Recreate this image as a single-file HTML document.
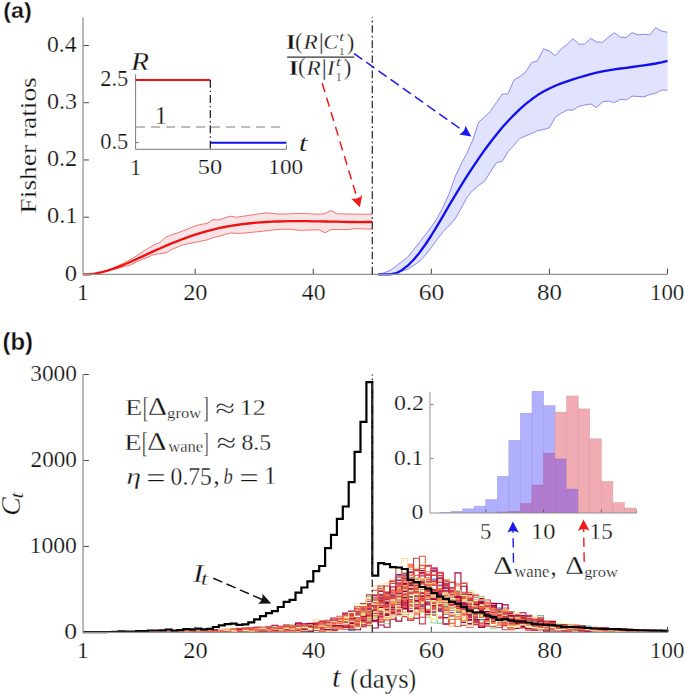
<!DOCTYPE html>
<html><head><meta charset="utf-8"><style>html,body{margin:0;padding:0;background:#fff;overflow:hidden}svg{display:block}text{fill:#111;stroke:#fff;stroke-width:0.25px}</style></head>
<body><svg width="685" height="695" viewBox="0 0 685 695">
<polygon points="83.0,274.4 88.9,274.2 94.8,273.4 100.7,272.2 106.6,270.6 112.5,268.3 118.4,265.5 124.3,262.9 130.2,259.7 136.1,256.0 142.0,252.2 147.9,248.6 153.8,245.0 159.8,242.5 165.7,237.2 171.6,234.9 177.5,232.8 183.4,230.7 189.3,228.3 195.2,225.9 201.1,224.3 207.0,223.5 212.9,219.6 218.8,219.9 224.7,217.9 230.6,216.2 236.5,217.2 242.4,216.4 248.3,215.5 254.2,214.6 260.1,213.7 266.0,212.8 271.9,213.4 277.8,214.0 283.7,214.0 289.6,213.8 295.5,213.5 301.4,213.5 307.4,213.7 313.3,214.0 319.2,214.2 325.1,213.6 331.0,210.4 336.9,213.8 342.8,213.9 348.7,214.0 354.6,214.1 360.5,214.2 366.4,214.2 372.3,214.2 372.3,229.2 366.4,229.0 360.5,228.8 354.6,228.6 348.7,229.6 342.8,229.6 336.9,229.6 331.0,229.6 325.1,232.9 319.2,229.8 313.3,229.9 307.4,230.1 301.4,230.4 295.5,229.9 289.6,229.2 283.7,229.2 277.8,229.4 271.9,230.1 266.0,230.8 260.1,231.5 254.2,232.1 248.3,232.7 242.4,233.3 236.5,233.3 230.6,233.0 224.7,234.6 218.8,236.4 212.9,237.6 207.0,239.9 201.1,241.2 195.2,242.4 189.3,243.5 183.4,244.7 177.5,247.1 171.6,249.5 165.7,252.9 159.8,253.6 153.8,254.7 147.9,257.1 142.0,259.5 136.1,262.1 130.2,265.1 124.3,266.7 118.4,268.2 112.5,269.7 106.6,271.2 100.7,272.8 94.8,274.0 88.9,274.7 83.0,274.4" fill="#f7e4e6"/>
<polyline points="83.0,274.4 88.9,274.2 94.8,273.4 100.7,272.2 106.6,270.6 112.5,268.3 118.4,265.5 124.3,262.9 130.2,259.7 136.1,256.0 142.0,252.2 147.9,248.6 153.8,245.0 159.8,242.5 165.7,237.2 171.6,234.9 177.5,232.8 183.4,230.7 189.3,228.3 195.2,225.9 201.1,224.3 207.0,223.5 212.9,219.6 218.8,219.9 224.7,217.9 230.6,216.2 236.5,217.2 242.4,216.4 248.3,215.5 254.2,214.6 260.1,213.7 266.0,212.8 271.9,213.4 277.8,214.0 283.7,214.0 289.6,213.8 295.5,213.5 301.4,213.5 307.4,213.7 313.3,214.0 319.2,214.2 325.1,213.6 331.0,210.4 336.9,213.8 342.8,213.9 348.7,214.0 354.6,214.1 360.5,214.2 366.4,214.2 372.3,214.2" fill="none" stroke="#f23a3a" stroke-width="0.7"/>
<polyline points="83.0,274.4 88.9,274.7 94.8,274.0 100.7,272.8 106.6,271.2 112.5,269.7 118.4,268.2 124.3,266.7 130.2,265.1 136.1,262.1 142.0,259.5 147.9,257.1 153.8,254.7 159.8,253.6 165.7,252.9 171.6,249.5 177.5,247.1 183.4,244.7 189.3,243.5 195.2,242.4 201.1,241.2 207.0,239.9 212.9,237.6 218.8,236.4 224.7,234.6 230.6,233.0 236.5,233.3 242.4,233.3 248.3,232.7 254.2,232.1 260.1,231.5 266.0,230.8 271.9,230.1 277.8,229.4 283.7,229.2 289.6,229.2 295.5,229.9 301.4,230.4 307.4,230.1 313.3,229.9 319.2,229.8 325.1,232.9 331.0,229.6 336.9,229.6 342.8,229.6 348.7,229.6 354.6,228.6 360.5,228.8 366.4,229.0 372.3,229.2" fill="none" stroke="#f23a3a" stroke-width="0.7"/>
<polygon points="378.2,274.4 384.1,272.8 390.0,270.5 395.9,266.1 401.8,261.7 407.7,257.0 413.6,249.7 419.5,242.3 425.4,234.7 431.3,227.0 437.2,218.1 443.1,206.8 449.0,194.0 455.0,177.0 460.9,164.4 466.8,153.4 472.7,140.1 478.6,122.3 484.5,116.9 490.4,111.3 496.3,102.7 502.2,94.2 508.1,93.7 514.0,79.9 519.9,76.6 525.8,71.7 531.7,62.6 537.6,60.6 543.5,48.8 549.4,51.0 555.3,55.8 561.2,48.9 567.1,44.4 573.0,38.6 578.9,44.2 584.8,44.0 590.7,38.3 596.6,42.0 602.6,42.2 608.5,37.1 614.4,32.7 620.3,37.2 626.2,37.5 632.1,32.6 638.0,34.8 643.9,34.2 649.8,34.9 655.7,27.5 661.6,31.1 667.5,32.2 667.5,90.2 661.6,90.2 655.7,93.3 649.8,94.5 643.9,96.9 638.0,96.4 632.1,96.2 626.2,100.0 620.3,99.4 614.4,102.6 608.5,101.0 602.6,101.9 596.6,107.4 590.7,104.0 584.8,105.0 578.9,106.4 573.0,110.1 567.1,110.0 561.2,113.2 555.3,117.3 549.4,127.8 543.5,129.6 537.6,130.7 531.7,133.5 525.8,135.8 519.9,138.4 514.0,145.1 508.1,151.7 502.2,161.3 496.3,162.8 490.4,172.0 484.5,181.3 478.6,185.6 472.7,190.5 466.8,197.6 460.9,208.8 455.0,219.2 449.0,225.7 443.1,231.7 437.2,239.4 431.3,247.6 425.4,255.0 419.5,261.4 413.6,265.4 407.7,269.4 401.8,271.1 395.9,272.5 390.0,273.9 384.1,274.2 378.2,274.4" fill="#e1e2fe"/>
<polyline points="378.2,274.4 384.1,272.8 390.0,270.5 395.9,266.1 401.8,261.7 407.7,257.0 413.6,249.7 419.5,242.3 425.4,234.7 431.3,227.0 437.2,218.1 443.1,206.8 449.0,194.0 455.0,177.0 460.9,164.4 466.8,153.4 472.7,140.1 478.6,122.3 484.5,116.9 490.4,111.3 496.3,102.7 502.2,94.2 508.1,93.7 514.0,79.9 519.9,76.6 525.8,71.7 531.7,62.6 537.6,60.6 543.5,48.8 549.4,51.0 555.3,55.8 561.2,48.9 567.1,44.4 573.0,38.6 578.9,44.2 584.8,44.0 590.7,38.3 596.6,42.0 602.6,42.2 608.5,37.1 614.4,32.7 620.3,37.2 626.2,37.5 632.1,32.6 638.0,34.8 643.9,34.2 649.8,34.9 655.7,27.5 661.6,31.1 667.5,32.2" fill="none" stroke="#5c5cf2" stroke-width="0.7"/>
<polyline points="378.2,274.4 384.1,274.2 390.0,273.9 395.9,272.5 401.8,271.1 407.7,269.4 413.6,265.4 419.5,261.4 425.4,255.0 431.3,247.6 437.2,239.4 443.1,231.7 449.0,225.7 455.0,219.2 460.9,208.8 466.8,197.6 472.7,190.5 478.6,185.6 484.5,181.3 490.4,172.0 496.3,162.8 502.2,161.3 508.1,151.7 514.0,145.1 519.9,138.4 525.8,135.8 531.7,133.5 537.6,130.7 543.5,129.6 549.4,127.8 555.3,117.3 561.2,113.2 567.1,110.0 573.0,110.1 578.9,106.4 584.8,105.0 590.7,104.0 596.6,107.4 602.6,101.9 608.5,101.0 614.4,102.6 620.3,99.4 626.2,100.0 632.1,96.2 638.0,96.4 643.9,96.9 649.8,94.5 655.7,93.3 661.6,90.2 667.5,90.2" fill="none" stroke="#5c5cf2" stroke-width="0.7"/>
<polyline points="83.0,274.4 88.9,274.4 94.8,273.7 100.7,272.5 106.6,270.9 112.5,269.0 118.4,266.9 124.3,264.5 130.2,262.0 136.1,259.3 142.0,256.6 147.9,253.9 153.8,251.1 159.8,248.5 165.7,245.9 171.6,243.4 177.5,241.1 183.4,238.8 189.3,236.7 195.2,234.7 201.1,232.8 207.0,231.1 212.9,229.6 218.8,228.2 224.7,227.0 230.6,225.9 236.5,225.0 242.4,224.2 248.3,223.5 254.2,222.9 260.1,222.4 266.0,222.0 271.9,221.7 277.8,221.5 283.7,221.3 289.6,221.2 295.5,221.2 301.4,221.2 307.4,221.2 313.3,221.3 319.2,221.4 325.1,221.5 331.0,221.6 336.9,221.7 342.8,221.9 348.7,222.0 354.6,222.0 360.5,222.1 366.4,222.0 372.3,222.0" fill="none" stroke="#f01010" stroke-width="2.3" stroke-linejoin="round"/>
<polyline points="378.2,274.4 384.1,274.3 390.0,274.3 395.9,273.4 401.8,270.2 407.7,265.7 413.6,259.8 419.5,252.7 425.4,244.5 431.3,235.5 437.2,225.9 443.1,215.9 449.0,205.7 455.0,195.6 460.9,185.8 466.8,176.4 472.7,167.3 478.6,158.6 484.5,150.2 490.4,142.3 496.3,134.8 502.2,127.6 508.1,121.0 514.0,114.8 519.9,109.1 525.8,103.9 531.7,99.3 537.6,95.1 543.5,91.6 549.4,88.5 555.3,85.7 561.2,83.4 567.1,81.3 573.0,79.3 578.9,77.5 584.8,75.8 590.7,74.1 596.6,72.7 602.6,71.4 608.5,70.3 614.4,69.4 620.3,68.5 626.2,67.8 632.1,67.0 638.0,66.2 643.9,65.4 649.8,64.5 655.7,63.5 661.6,62.3 667.5,60.9" fill="none" stroke="#1010ee" stroke-width="2.3" stroke-linejoin="round"/>
<path d="M83.05,17.4 V274.45 H667.5" fill="none" stroke="#939393" stroke-width="1.3"/>
<path d="M83.6,217.21h5.3 M83.6,159.97h5.3 M83.6,102.73h5.3 M83.6,45.49h5.3 M195.18,273.9v-5.2 M313.26,273.9v-5.2 M431.34,273.9v-5.2 M549.42,273.9v-5.2 M667.50,273.9v-5.2" stroke="#454545" stroke-width="1" fill="none"/>
<line x1="372.3" y1="274.45" x2="372.3" y2="17" stroke="#333" stroke-width="1.3" stroke-dasharray="7.6 2.85 1.8 2.85"/>
<path d="M135.6,74.3 V149.3 H286.4 V145" fill="none" stroke="#7a7a7a" stroke-width="1"/>
<path d="M135.8,142.6 h3" stroke="#555" stroke-width="0.8"/>
<line x1="136.1" y1="127" x2="281" y2="127" stroke="#a8a8a8" stroke-width="1.3" stroke-dasharray="9 6"/>
<line x1="135.6" y1="79.9" x2="210.3" y2="79.9" stroke="#f01010" stroke-width="2"/>
<line x1="210.3" y1="142.8" x2="286.4" y2="142.8" stroke="#1010f0" stroke-width="2"/>
<line x1="210.3" y1="79.9" x2="210.3" y2="149.3" stroke="#111" stroke-width="1.2" stroke-dasharray="7.8 3 1.4 3"/>
<line x1="287.1" y1="57.1" x2="354.3" y2="57.1" stroke="#333" stroke-width="1.3"/>
<line x1="354.1" y1="53.6" x2="465.0" y2="132.1" stroke="#1a1af0" stroke-width="1.5" stroke-dasharray="10 4.9" stroke-dashoffset="0"/>
<path d="M471.3,136.5 L459.0,134.5 Q465.0,132.1 465.3,125.5 Z" fill="#1a1af0"/>
<line x1="322.2" y1="83.2" x2="357.7" y2="200.0" stroke="#f01a1a" stroke-width="1.5" stroke-dasharray="9.2 6" stroke-dashoffset="0"/>
<path d="M359.9,207.3 L351.1,198.4 Q357.7,200.0 362.2,195.0 Z" fill="#f01a1a"/>
<g fill="none" stroke-width="1.1"><path d="M83.0,632.3H88.9V632.3H94.8V632.4H100.7V632.2H106.6V632.1H112.5V632.4H118.4V632.0H124.3V632.2H130.2V631.9H136.1V632.1H142.0V632.1H147.9V631.8H153.8V632.0H159.8V631.9H165.7V631.9H171.6V631.9H177.5V631.5H183.4V631.4H189.3V631.5H195.2V630.8H201.1V632.1H207.0V631.5H212.9V630.7H218.8V631.8H224.7V629.9H230.6V630.2H236.5V630.7H242.4V630.0H248.3V630.8H254.2V631.5H260.1V628.9H266.0V628.5H271.9V629.2H277.8V629.1H283.7V631.7H289.6V629.7H295.5V628.9H301.4V627.5H307.4V625.2H313.3V628.2H319.2V628.2H325.1V623.9H331.0V625.7H336.9V627.6H342.8V618.0H348.7V623.4H354.6V620.5H360.5V621.0H366.4V611.7H372.3V602.4H378.2V609.7H384.1V601.4H390.0V605.8H395.9V574.5H401.8V579.0H407.7V600.4H413.6V587.2H419.5V582.4H425.4V590.1H431.3V604.7H437.2V599.9H443.1V593.2H449.0V598.4H455.0V611.8H460.9V603.4H466.8V616.0H472.7V624.6H478.6V611.5H484.5V609.3H490.4V614.1H496.3V611.6H502.2V612.1H508.1V619.1H514.0V623.8H519.9V623.0H525.8V627.9H531.7V624.7H537.6V625.6H543.5V625.7H549.4V624.7H555.3V631.3H561.2V626.8H567.1V629.3H573.0V627.8H578.9V629.1H584.8V630.8H590.7V629.0H596.6V630.9H602.6V629.9H608.5V631.1H614.4V631.1H620.3V630.8H626.2V629.8H632.1V630.8H638.0V631.3H643.9V630.6H649.8V631.5H655.7V631.7H661.6V632.0H667.5V631.7" stroke="#9e0142"/><path d="M83.0,632.4H88.9V632.3H94.8V632.3H100.7V632.3H106.6V632.4H112.5V632.3H118.4V632.4H124.3V632.2H130.2V632.2H136.1V631.9H142.0V632.0H147.9V632.0H153.8V632.2H159.8V632.1H165.7V631.8H171.6V631.7H177.5V632.2H183.4V631.4H189.3V631.7H195.2V631.9H201.1V631.1H207.0V631.6H212.9V631.7H218.8V631.6H224.7V631.4H230.6V631.7H236.5V631.6H242.4V629.5H248.3V630.7H254.2V630.7H260.1V631.5H266.0V629.1H271.9V629.2H277.8V627.3H283.7V627.4H289.6V628.5H295.5V628.4H301.4V627.4H307.4V627.8H313.3V628.6H319.2V626.9H325.1V626.5H331.0V625.4H336.9V617.9H342.8V621.9H348.7V620.5H354.6V610.7H360.5V607.9H366.4V607.0H372.3V595.1H378.2V601.4H384.1V598.9H390.0V610.5H395.9V592.2H401.8V605.3H407.7V582.6H413.6V591.3H419.5V581.6H425.4V589.2H431.3V598.7H437.2V587.0H443.1V603.9H449.0V615.1H455.0V609.0H460.9V615.3H466.8V615.0H472.7V624.1H478.6V616.1H484.5V615.5H490.4V617.3H496.3V622.0H502.2V618.5H508.1V617.7H514.0V621.5H519.9V623.1H525.8V623.0H531.7V627.3H537.6V628.0H543.5V623.9H549.4V625.9H555.3V626.2H561.2V630.2H567.1V627.0H573.0V629.2H578.9V628.9H584.8V629.6H590.7V630.0H596.6V629.8H602.6V631.5H608.5V632.1H614.4V629.4H620.3V631.2H626.2V630.7H632.1V631.0H638.0V630.8H643.9V632.2H649.8V630.9H655.7V631.9H661.6V631.0H667.5V631.3" stroke="#d53e4f"/><path d="M83.0,632.3H88.9V632.3H94.8V632.2H100.7V632.3H106.6V632.4H112.5V632.3H118.4V632.2H124.3V632.0H130.2V632.0H136.1V631.9H142.0V632.0H147.9V632.3H153.8V632.1H159.8V632.2H165.7V631.9H171.6V631.3H177.5V631.8H183.4V631.8H189.3V631.3H195.2V631.1H201.1V630.8H207.0V631.7H212.9V631.6H218.8V631.3H224.7V630.3H230.6V630.5H236.5V631.3H242.4V628.5H248.3V630.6H254.2V630.0H260.1V629.7H266.0V630.3H271.9V629.1H277.8V628.7H283.7V628.1H289.6V627.6H295.5V628.7H301.4V629.1H307.4V625.1H313.3V627.2H319.2V623.7H325.1V624.4H331.0V618.0H336.9V623.4H342.8V626.9H348.7V620.4H354.6V611.1H360.5V604.1H366.4V601.3H372.3V602.9H378.2V590.9H384.1V611.0H390.0V604.2H395.9V605.4H401.8V584.6H407.7V572.1H413.6V588.4H419.5V583.5H425.4V596.1H431.3V596.6H437.2V592.6H443.1V579.6H449.0V593.8H455.0V596.2H460.9V594.3H466.8V600.7H472.7V613.1H478.6V598.4H484.5V612.9H490.4V614.0H496.3V616.5H502.2V614.8H508.1V619.7H514.0V618.8H519.9V615.8H525.8V625.2H531.7V628.8H537.6V621.2H543.5V624.7H549.4V624.7H555.3V625.6H561.2V628.1H567.1V627.7H573.0V631.0H578.9V629.0H584.8V629.2H590.7V630.9H596.6V630.6H602.6V630.2H608.5V630.1H614.4V630.7H620.3V629.6H626.2V630.4H632.1V630.5H638.0V632.2H643.9V631.5H649.8V631.3H655.7V631.7H661.6V631.5H667.5V631.9" stroke="#9e0142"/><path d="M83.0,632.3H88.9V632.3H94.8V632.2H100.7V632.3H106.6V632.2H112.5V632.2H118.4V632.2H124.3V632.1H130.2V632.2H136.1V632.1H142.0V632.0H147.9V632.1H153.8V632.3H159.8V631.8H165.7V632.2H171.6V632.3H177.5V631.7H183.4V631.8H189.3V631.9H195.2V631.8H201.1V631.2H207.0V631.6H212.9V631.3H218.8V630.5H224.7V630.7H230.6V629.7H236.5V628.9H242.4V630.6H248.3V631.7H254.2V630.7H260.1V630.0H266.0V629.3H271.9V630.3H277.8V629.1H283.7V630.9H289.6V628.3H295.5V626.2H301.4V626.6H307.4V631.2H313.3V627.3H319.2V628.1H325.1V625.4H331.0V626.5H336.9V620.2H342.8V615.7H348.7V619.8H354.6V620.6H360.5V612.8H366.4V618.2H372.3V609.2H378.2V594.5H384.1V609.2H390.0V601.4H395.9V589.6H401.8V590.5H407.7V567.7H413.6V581.1H419.5V597.8H425.4V611.9H431.3V589.4H437.2V591.3H443.1V593.9H449.0V582.3H455.0V607.4H460.9V603.0H466.8V611.0H472.7V606.3H478.6V599.7H484.5V619.2H490.4V618.4H496.3V614.3H502.2V617.9H508.1V622.1H514.0V624.7H519.9V624.9H525.8V625.9H531.7V622.3H537.6V624.1H543.5V629.6H549.4V623.2H555.3V624.2H561.2V631.3H567.1V629.9H573.0V629.9H578.9V629.0H584.8V628.4H590.7V629.5H596.6V631.0H602.6V632.0H608.5V629.6H614.4V629.9H620.3V629.6H626.2V631.3H632.1V631.6H638.0V631.5H643.9V630.5H649.8V631.5H655.7V631.6H661.6V631.3H667.5V631.2" stroke="#f46d43"/><path d="M83.0,632.2H88.9V632.4H94.8V632.2H100.7V632.2H106.6V632.4H112.5V632.2H118.4V632.1H124.3V632.2H130.2V632.4H136.1V632.3H142.0V631.8H147.9V632.3H153.8V631.8H159.8V632.3H165.7V632.0H171.6V632.1H177.5V631.8H183.4V631.5H189.3V631.6H195.2V631.9H201.1V631.5H207.0V631.4H212.9V631.5H218.8V631.5H224.7V631.5H230.6V630.7H236.5V629.0H242.4V630.5H248.3V630.1H254.2V631.0H260.1V630.5H266.0V628.1H271.9V629.9H277.8V628.6H283.7V627.8H289.6V629.5H295.5V626.6H301.4V626.8H307.4V626.7H313.3V629.0H319.2V626.6H325.1V630.3H331.0V625.4H336.9V624.2H342.8V624.0H348.7V619.6H354.6V624.8H360.5V620.2H366.4V622.6H372.3V610.9H378.2V611.3H384.1V597.6H390.0V610.2H395.9V594.9H401.8V597.4H407.7V591.2H413.6V585.3H419.5V576.0H425.4V579.6H431.3V611.5H437.2V593.0H443.1V610.4H449.0V599.4H455.0V612.0H460.9V598.9H466.8V603.0H472.7V610.2H478.6V618.6H484.5V623.3H490.4V623.1H496.3V619.1H502.2V616.7H508.1V616.7H514.0V617.9H519.9V625.6H525.8V624.1H531.7V622.4H537.6V624.1H543.5V626.4H549.4V629.4H555.3V624.3H561.2V628.2H567.1V631.0H573.0V628.4H578.9V629.0H584.8V629.9H590.7V630.1H596.6V631.4H602.6V629.2H608.5V630.7H614.4V632.1H620.3V631.1H626.2V632.1H632.1V631.1H638.0V631.8H643.9V631.3H649.8V631.2H655.7V631.6H661.6V630.8H667.5V631.7" stroke="#f46d43"/><path d="M83.0,632.3H88.9V632.2H94.8V632.3H100.7V632.1H106.6V632.3H112.5V632.0H118.4V632.1H124.3V632.2H130.2V632.2H136.1V631.9H142.0V632.3H147.9V631.8H153.8V631.7H159.8V631.9H165.7V632.0H171.6V631.5H177.5V631.8H183.4V631.0H189.3V631.5H195.2V631.9H201.1V630.9H207.0V630.4H212.9V630.7H218.8V631.2H224.7V631.1H230.6V629.6H236.5V629.8H242.4V630.8H248.3V631.0H254.2V630.8H260.1V628.8H266.0V631.2H271.9V628.1H277.8V629.4H283.7V628.3H289.6V628.3H295.5V625.2H301.4V628.8H307.4V627.9H313.3V627.6H319.2V628.1H325.1V627.8H331.0V624.0H336.9V623.4H342.8V617.8H348.7V613.6H354.6V615.1H360.5V608.4H366.4V620.8H372.3V598.0H378.2V598.4H384.1V615.1H390.0V601.0H395.9V603.2H401.8V575.8H407.7V564.3H413.6V587.3H419.5V589.1H425.4V591.3H431.3V585.0H437.2V575.5H443.1V592.5H449.0V587.5H455.0V600.4H460.9V603.0H466.8V597.0H472.7V603.7H478.6V605.7H484.5V621.7H490.4V607.4H496.3V610.6H502.2V620.8H508.1V621.3H514.0V616.7H519.9V617.3H525.8V624.3H531.7V620.8H537.6V623.3H543.5V621.8H549.4V628.2H555.3V628.1H561.2V625.0H567.1V626.3H573.0V629.1H578.9V628.6H584.8V631.7H590.7V629.3H596.6V628.9H602.6V628.0H608.5V630.5H614.4V629.0H620.3V632.0H626.2V631.2H632.1V630.7H638.0V631.8H643.9V630.6H649.8V631.5H655.7V632.2H661.6V631.4H667.5V631.3" stroke="#d53e4f"/><path d="M83.0,632.4H88.9V632.3H94.8V632.2H100.7V632.3H106.6V632.2H112.5V632.2H118.4V632.2H124.3V632.1H130.2V631.9H136.1V631.9H142.0V631.7H147.9V631.9H153.8V631.8H159.8V632.3H165.7V631.9H171.6V632.1H177.5V631.2H183.4V630.8H189.3V631.7H195.2V631.6H201.1V631.6H207.0V631.2H212.9V631.6H218.8V630.3H224.7V631.0H230.6V629.3H236.5V629.6H242.4V630.5H248.3V630.6H254.2V628.8H260.1V630.0H266.0V631.4H271.9V629.3H277.8V629.8H283.7V625.1H289.6V628.0H295.5V628.5H301.4V631.4H307.4V624.5H313.3V625.4H319.2V626.0H325.1V625.8H331.0V624.0H336.9V621.6H342.8V621.0H348.7V621.3H354.6V616.2H360.5V626.6H366.4V615.5H372.3V611.9H378.2V610.3H384.1V602.8H390.0V590.7H395.9V595.6H401.8V608.5H407.7V582.7H413.6V570.8H419.5V570.6H425.4V574.7H431.3V571.4H437.2V589.5H443.1V623.8H449.0V598.3H455.0V609.1H460.9V596.7H466.8V594.5H472.7V609.1H478.6V598.2H484.5V617.5H490.4V606.2H496.3V618.4H502.2V618.5H508.1V622.0H514.0V616.4H519.9V612.8H525.8V622.7H531.7V623.1H537.6V621.3H543.5V626.0H549.4V624.5H555.3V626.2H561.2V628.4H567.1V629.5H573.0V625.7H578.9V628.3H584.8V629.8H590.7V627.6H596.6V629.3H602.6V630.9H608.5V631.1H614.4V630.3H620.3V630.9H626.2V630.3H632.1V631.7H638.0V631.9H643.9V631.2H649.8V630.8H655.7V631.5H661.6V630.3H667.5V630.5" stroke="#9e0142"/><path d="M83.0,632.3H88.9V632.3H94.8V632.4H100.7V632.3H106.6V632.4H112.5V632.2H118.4V632.1H124.3V632.2H130.2V632.0H136.1V632.2H142.0V632.2H147.9V631.9H153.8V631.8H159.8V631.8H165.7V631.6H171.6V631.7H177.5V632.3H183.4V632.3H189.3V631.4H195.2V630.9H201.1V631.5H207.0V630.7H212.9V630.9H218.8V630.4H224.7V630.2H230.6V631.5H236.5V630.9H242.4V629.7H248.3V629.9H254.2V631.2H260.1V629.8H266.0V629.0H271.9V629.6H277.8V628.8H283.7V630.6H289.6V631.6H295.5V629.9H301.4V627.9H307.4V628.7H313.3V625.2H319.2V624.3H325.1V621.7H331.0V624.5H336.9V624.6H342.8V616.9H348.7V621.8H354.6V618.9H360.5V613.1H366.4V611.0H372.3V601.6H378.2V599.4H384.1V612.9H390.0V603.3H395.9V608.1H401.8V582.4H407.7V602.8H413.6V609.4H419.5V600.5H425.4V601.4H431.3V607.8H437.2V603.3H443.1V601.9H449.0V597.6H455.0V605.2H460.9V616.0H466.8V601.7H472.7V607.2H478.6V607.5H484.5V615.8H490.4V623.5H496.3V613.0H502.2V618.2H508.1V613.2H514.0V619.8H519.9V623.2H525.8V623.8H531.7V621.9H537.6V625.1H543.5V626.6H549.4V628.0H555.3V624.9H561.2V628.1H567.1V627.6H573.0V627.7H578.9V627.8H584.8V630.1H590.7V629.3H596.6V631.4H602.6V631.5H608.5V629.9H614.4V630.7H620.3V632.1H626.2V631.0H632.1V630.2H638.0V630.8H643.9V631.9H649.8V631.4H655.7V631.5H661.6V631.3H667.5V632.1" stroke="#abdda4"/><path d="M83.0,632.4H88.9V632.4H94.8V632.3H100.7V632.2H106.6V632.4H112.5V632.2H118.4V632.2H124.3V632.3H130.2V632.2H136.1V632.2H142.0V632.1H147.9V631.9H153.8V631.9H159.8V631.7H165.7V631.7H171.6V632.0H177.5V631.8H183.4V632.3H189.3V631.9H195.2V632.2H201.1V631.8H207.0V631.5H212.9V631.0H218.8V631.4H224.7V629.5H230.6V630.8H236.5V631.9H242.4V629.0H248.3V630.6H254.2V630.5H260.1V629.2H266.0V630.4H271.9V627.8H277.8V626.8H283.7V627.1H289.6V628.4H295.5V629.0H301.4V626.9H307.4V626.1H313.3V626.5H319.2V626.2H325.1V623.1H331.0V625.4H336.9V627.0H342.8V626.4H348.7V619.1H354.6V611.8H360.5V615.8H366.4V615.3H372.3V614.2H378.2V598.8H384.1V616.4H390.0V608.3H395.9V584.5H401.8V598.8H407.7V594.4H413.6V577.6H419.5V579.3H425.4V590.6H431.3V582.7H437.2V617.7H443.1V609.9H449.0V601.9H455.0V612.7H460.9V611.9H466.8V615.1H472.7V610.0H478.6V617.2H484.5V609.0H490.4V615.9H496.3V612.3H502.2V625.2H508.1V627.8H514.0V621.9H519.9V622.9H525.8V622.0H531.7V622.7H537.6V626.6H543.5V623.8H549.4V627.3H555.3V628.1H561.2V626.5H567.1V627.3H573.0V628.7H578.9V629.2H584.8V627.4H590.7V630.1H596.6V630.1H602.6V630.3H608.5V631.1H614.4V629.8H620.3V629.7H626.2V630.7H632.1V632.2H638.0V632.2H643.9V631.4H649.8V631.9H655.7V631.9H661.6V631.8H667.5V632.0" stroke="#d53e4f"/><path d="M83.0,632.3H88.9V632.3H94.8V632.2H100.7V632.3H106.6V632.1H112.5V632.3H118.4V632.4H124.3V632.1H130.2V632.1H136.1V632.2H142.0V631.9H147.9V632.1H153.8V632.1H159.8V632.1H165.7V631.9H171.6V632.2H177.5V631.8H183.4V632.3H189.3V631.7H195.2V631.7H201.1V631.6H207.0V630.7H212.9V631.0H218.8V630.9H224.7V632.1H230.6V630.4H236.5V631.3H242.4V631.5H248.3V628.8H254.2V631.2H260.1V628.8H266.0V630.3H271.9V627.9H277.8V630.2H283.7V629.6H289.6V628.5H295.5V626.7H301.4V630.1H307.4V630.2H313.3V625.6H319.2V627.0H325.1V629.2H331.0V621.7H336.9V617.7H342.8V627.8H348.7V624.8H354.6V614.1H360.5V612.1H366.4V623.0H372.3V608.0H378.2V606.3H384.1V608.7H390.0V608.3H395.9V596.4H401.8V571.5H407.7V605.5H413.6V589.0H419.5V593.6H425.4V604.5H431.3V596.8H437.2V609.2H443.1V609.2H449.0V590.2H455.0V615.6H460.9V600.8H466.8V602.4H472.7V606.9H478.6V604.6H484.5V613.4H490.4V619.2H496.3V624.3H502.2V621.4H508.1V618.0H514.0V620.1H519.9V615.1H525.8V621.2H531.7V628.7H537.6V624.5H543.5V623.2H549.4V627.3H555.3V628.1H561.2V624.3H567.1V629.7H573.0V627.4H578.9V629.2H584.8V629.0H590.7V629.5H596.6V629.4H602.6V630.4H608.5V631.1H614.4V631.6H620.3V631.3H626.2V630.2H632.1V631.4H638.0V630.7H643.9V631.5H649.8V631.9H655.7V631.2H661.6V632.1H667.5V631.9" stroke="#e6f598"/><path d="M83.0,632.3H88.9V632.2H94.8V632.2H100.7V632.1H106.6V632.3H112.5V632.3H118.4V632.3H124.3V632.0H130.2V632.3H136.1V632.1H142.0V632.0H147.9V632.3H153.8V631.8H159.8V631.7H165.7V631.9H171.6V632.1H177.5V631.5H183.4V631.6H189.3V631.2H195.2V631.8H201.1V632.2H207.0V631.4H212.9V630.9H218.8V632.1H224.7V631.6H230.6V631.8H236.5V630.3H242.4V632.0H248.3V629.4H254.2V631.3H260.1V629.3H266.0V630.2H271.9V630.5H277.8V630.0H283.7V628.6H289.6V629.7H295.5V628.5H301.4V629.3H307.4V627.9H313.3V627.9H319.2V625.2H325.1V629.6H331.0V625.3H336.9V624.3H342.8V625.6H348.7V625.0H354.6V619.4H360.5V613.8H366.4V614.3H372.3V608.8H378.2V621.6H384.1V594.8H390.0V597.2H395.9V607.2H401.8V611.5H407.7V592.5H413.6V588.8H419.5V598.2H425.4V601.7H431.3V593.8H437.2V598.1H443.1V593.4H449.0V592.8H455.0V607.8H460.9V601.7H466.8V615.9H472.7V602.9H478.6V622.4H484.5V618.7H490.4V619.0H496.3V614.4H502.2V623.0H508.1V617.0H514.0V620.7H519.9V620.5H525.8V619.6H531.7V626.3H537.6V626.0H543.5V622.0H549.4V625.6H555.3V630.0H561.2V626.5H567.1V628.4H573.0V628.3H578.9V628.1H584.8V630.3H590.7V628.8H596.6V629.5H602.6V631.4H608.5V631.6H614.4V630.4H620.3V630.3H626.2V631.8H632.1V630.7H638.0V631.1H643.9V630.8H649.8V631.0H655.7V632.0H661.6V631.0H667.5V632.1" stroke="#fee08b"/><path d="M83.0,632.3H88.9V632.3H94.8V632.2H100.7V632.3H106.6V632.2H112.5V632.1H118.4V632.2H124.3V632.1H130.2V632.3H136.1V632.0H142.0V632.1H147.9V632.2H153.8V632.1H159.8V632.0H165.7V632.1H171.6V631.6H177.5V632.1H183.4V631.7H189.3V631.3H195.2V631.3H201.1V631.9H207.0V631.9H212.9V630.9H218.8V630.8H224.7V631.8H230.6V631.6H236.5V631.1H242.4V630.7H248.3V631.8H254.2V630.4H260.1V630.2H266.0V629.6H271.9V628.9H277.8V629.2H283.7V630.9H289.6V627.6H295.5V628.6H301.4V627.9H307.4V626.8H313.3V626.9H319.2V627.8H325.1V621.8H331.0V630.6H336.9V629.0H342.8V629.1H348.7V622.9H354.6V623.3H360.5V622.4H366.4V609.3H372.3V612.7H378.2V605.0H384.1V594.0H390.0V606.2H395.9V595.7H401.8V602.6H407.7V587.3H413.6V602.3H419.5V593.7H425.4V581.5H431.3V585.2H437.2V599.5H443.1V597.2H449.0V602.9H455.0V594.9H460.9V610.0H466.8V610.1H472.7V597.2H478.6V603.2H484.5V620.0H490.4V621.0H496.3V615.6H502.2V629.8H508.1V626.4H514.0V626.9H519.9V625.6H525.8V620.7H531.7V623.6H537.6V629.9H543.5V624.2H549.4V629.6H555.3V625.6H561.2V628.0H567.1V629.6H573.0V627.6H578.9V628.1H584.8V630.6H590.7V630.4H596.6V630.0H602.6V629.2H608.5V630.6H614.4V630.5H620.3V630.5H626.2V631.4H632.1V631.6H638.0V631.9H643.9V631.8H649.8V631.3H655.7V631.0H661.6V631.8H667.5V631.1" stroke="#d53e4f"/><path d="M83.0,632.3H88.9V632.3H94.8V632.4H100.7V632.3H106.6V632.2H112.5V632.2H118.4V632.0H124.3V632.3H130.2V632.2H136.1V632.3H142.0V632.3H147.9V631.8H153.8V632.0H159.8V632.0H165.7V631.6H171.6V631.8H177.5V631.6H183.4V631.8H189.3V631.6H195.2V631.2H201.1V631.7H207.0V632.2H212.9V630.7H218.8V631.6H224.7V630.2H230.6V629.8H236.5V629.8H242.4V630.9H248.3V632.0H254.2V629.9H260.1V628.7H266.0V629.9H271.9V630.5H277.8V629.3H283.7V626.9H289.6V628.0H295.5V627.4H301.4V626.8H307.4V628.6H313.3V626.8H319.2V625.7H325.1V626.9H331.0V627.2H336.9V620.4H342.8V616.3H348.7V616.3H354.6V617.4H360.5V611.4H366.4V610.1H372.3V607.8H378.2V612.4H384.1V608.4H390.0V591.6H395.9V600.8H401.8V586.3H407.7V593.8H413.6V604.6H419.5V604.7H425.4V599.7H431.3V604.5H437.2V600.8H443.1V581.2H449.0V590.3H455.0V596.6H460.9V615.3H466.8V603.5H472.7V614.6H478.6V613.6H484.5V613.7H490.4V615.8H496.3V622.8H502.2V614.6H508.1V620.9H514.0V614.9H519.9V623.1H525.8V622.6H531.7V625.4H537.6V623.4H543.5V629.0H549.4V628.8H555.3V629.4H561.2V628.3H567.1V627.2H573.0V629.9H578.9V628.2H584.8V629.7H590.7V629.5H596.6V629.3H602.6V630.8H608.5V631.8H614.4V632.1H620.3V631.5H626.2V630.4H632.1V632.0H638.0V631.1H643.9V631.3H649.8V631.0H655.7V632.0H661.6V631.5H667.5V632.0" stroke="#f46d43"/><path d="M83.0,632.2H88.9V632.3H94.8V632.2H100.7V632.1H106.6V632.2H112.5V632.2H118.4V632.1H124.3V632.1H130.2V632.0H136.1V632.1H142.0V632.1H147.9V632.1H153.8V631.6H159.8V631.8H165.7V631.6H171.6V632.0H177.5V631.6H183.4V632.2H189.3V631.5H195.2V631.7H201.1V632.0H207.0V631.5H212.9V630.2H218.8V629.6H224.7V631.0H230.6V631.6H236.5V629.5H242.4V630.8H248.3V629.3H254.2V629.7H260.1V629.0H266.0V628.0H271.9V631.5H277.8V629.1H283.7V630.8H289.6V630.1H295.5V625.8H301.4V626.8H307.4V626.4H313.3V627.6H319.2V626.6H325.1V625.6H331.0V623.8H336.9V625.6H342.8V613.1H348.7V623.8H354.6V616.8H360.5V624.0H366.4V606.5H372.3V605.4H378.2V588.5H384.1V598.5H390.0V593.7H395.9V621.1H401.8V573.4H407.7V611.3H413.6V588.9H419.5V593.5H425.4V580.0H431.3V574.9H437.2V599.4H443.1V579.8H449.0V588.4H455.0V572.9H460.9V583.2H466.8V592.8H472.7V604.3H478.6V612.1H484.5V618.4H490.4V605.4H496.3V619.2H502.2V604.9H508.1V621.2H514.0V617.7H519.9V621.3H525.8V623.8H531.7V624.9H537.6V622.4H543.5V624.7H549.4V626.2H555.3V627.6H561.2V627.5H567.1V628.9H573.0V625.3H578.9V629.6H584.8V630.2H590.7V628.4H596.6V631.2H602.6V629.2H608.5V630.2H614.4V631.7H620.3V631.0H626.2V630.4H632.1V631.1H638.0V631.5H643.9V630.4H649.8V630.4H655.7V631.6H661.6V630.9H667.5V632.0" stroke="#9e0142"/><path d="M83.0,632.3H88.9V632.3H94.8V632.3H100.7V632.2H106.6V632.3H112.5V632.3H118.4V632.1H124.3V632.1H130.2V632.3H136.1V632.0H142.0V632.1H147.9V632.1H153.8V631.6H159.8V631.6H165.7V631.8H171.6V632.2H177.5V631.5H183.4V631.3H189.3V631.4H195.2V632.1H201.1V631.1H207.0V631.3H212.9V631.0H218.8V631.4H224.7V629.1H230.6V630.2H236.5V631.4H242.4V629.3H248.3V630.9H254.2V629.6H260.1V630.3H266.0V627.0H271.9V629.6H277.8V628.8H283.7V626.2H289.6V628.4H295.5V626.5H301.4V630.2H307.4V629.9H313.3V627.5H319.2V627.3H325.1V628.6H331.0V624.9H336.9V624.8H342.8V618.1H348.7V623.7H354.6V623.4H360.5V618.6H366.4V615.3H372.3V603.9H378.2V600.8H384.1V609.1H390.0V583.4H395.9V595.6H401.8V581.1H407.7V594.8H413.6V577.6H419.5V585.9H425.4V599.2H431.3V591.2H437.2V572.5H443.1V585.4H449.0V605.7H455.0V600.8H460.9V595.8H466.8V598.1H472.7V615.9H478.6V600.2H484.5V614.7H490.4V609.4H496.3V611.8H502.2V624.6H508.1V619.0H514.0V622.7H519.9V619.3H525.8V626.6H531.7V619.6H537.6V624.8H543.5V622.5H549.4V624.6H555.3V626.5H561.2V631.3H567.1V627.2H573.0V626.1H578.9V628.4H584.8V626.8H590.7V629.2H596.6V629.2H602.6V629.4H608.5V629.8H614.4V630.3H620.3V631.4H626.2V630.7H632.1V631.1H638.0V631.6H643.9V631.2H649.8V632.2H655.7V631.6H661.6V631.3H667.5V631.3" stroke="#f46d43"/><path d="M83.0,632.4H88.9V632.3H94.8V632.2H100.7V632.3H106.6V632.4H112.5V632.2H118.4V632.2H124.3V632.1H130.2V632.2H136.1V632.0H142.0V632.1H147.9V632.3H153.8V631.9H159.8V632.0H165.7V631.9H171.6V631.8H177.5V631.6H183.4V631.4H189.3V632.2H195.2V631.5H201.1V631.7H207.0V631.4H212.9V631.4H218.8V631.3H224.7V631.2H230.6V631.5H236.5V632.0H242.4V630.3H248.3V630.2H254.2V630.5H260.1V628.8H266.0V630.6H271.9V631.5H277.8V628.0H283.7V628.9H289.6V629.3H295.5V627.9H301.4V627.7H307.4V627.8H313.3V630.3H319.2V626.3H325.1V627.6H331.0V624.7H336.9V627.1H342.8V624.0H348.7V625.8H354.6V625.0H360.5V613.0H366.4V622.4H372.3V616.1H378.2V609.7H384.1V596.6H390.0V599.9H395.9V597.6H401.8V603.9H407.7V620.2H413.6V594.4H419.5V608.0H425.4V590.9H431.3V605.1H437.2V599.7H443.1V584.6H449.0V603.3H455.0V602.3H460.9V609.7H466.8V602.6H472.7V621.8H478.6V611.2H484.5V615.3H490.4V618.3H496.3V609.8H502.2V618.2H508.1V621.7H514.0V627.4H519.9V621.1H525.8V624.8H531.7V623.3H537.6V625.7H543.5V624.4H549.4V626.6H555.3V627.4H561.2V628.3H567.1V628.2H573.0V626.2H578.9V628.3H584.8V629.6H590.7V629.5H596.6V630.6H602.6V629.1H608.5V631.0H614.4V631.0H620.3V631.2H626.2V632.1H632.1V631.4H638.0V631.6H643.9V631.9H649.8V631.8H655.7V631.6H661.6V631.5H667.5V632.0" stroke="#9e0142"/><path d="M83.0,632.3H88.9V632.3H94.8V632.2H100.7V632.3H106.6V632.2H112.5V632.3H118.4V632.1H124.3V632.3H130.2V632.4H136.1V632.2H142.0V632.1H147.9V631.9H153.8V631.9H159.8V631.9H165.7V632.0H171.6V631.8H177.5V631.9H183.4V631.8H189.3V631.7H195.2V631.9H201.1V631.4H207.0V631.7H212.9V630.7H218.8V630.5H224.7V630.6H230.6V630.8H236.5V630.7H242.4V630.7H248.3V632.0H254.2V630.7H260.1V631.2H266.0V629.7H271.9V630.0H277.8V627.6H283.7V626.9H289.6V629.1H295.5V628.6H301.4V627.8H307.4V629.2H313.3V628.8H319.2V625.0H325.1V625.4H331.0V626.0H336.9V626.5H342.8V623.8H348.7V630.3H354.6V619.0H360.5V616.2H366.4V613.0H372.3V603.1H378.2V616.3H384.1V604.4H390.0V590.5H395.9V600.3H401.8V598.0H407.7V606.2H413.6V578.6H419.5V592.8H425.4V583.7H431.3V612.6H437.2V609.1H443.1V614.1H449.0V592.8H455.0V610.9H460.9V608.6H466.8V607.9H472.7V617.5H478.6V614.0H484.5V617.0H490.4V609.8H496.3V612.6H502.2V621.3H508.1V629.3H514.0V622.0H519.9V621.1H525.8V620.4H531.7V626.8H537.6V622.8H543.5V624.9H549.4V627.4H555.3V626.6H561.2V628.8H567.1V628.1H573.0V629.7H578.9V626.5H584.8V628.9H590.7V629.1H596.6V629.8H602.6V630.6H608.5V630.4H614.4V629.8H620.3V631.9H626.2V630.3H632.1V630.3H638.0V631.1H643.9V631.3H649.8V631.5H655.7V631.3H661.6V631.3H667.5V632.3" stroke="#3288bd"/><path d="M83.0,632.3H88.9V632.3H94.8V632.3H100.7V632.1H106.6V632.2H112.5V632.2H118.4V632.1H124.3V632.3H130.2V632.4H136.1V631.9H142.0V632.2H147.9V632.2H153.8V631.6H159.8V632.0H165.7V631.9H171.6V631.2H177.5V632.3H183.4V631.7H189.3V631.6H195.2V632.1H201.1V631.7H207.0V631.5H212.9V631.3H218.8V630.7H224.7V631.1H230.6V631.7H236.5V631.4H242.4V629.8H248.3V630.3H254.2V631.0H260.1V629.4H266.0V629.1H271.9V631.2H277.8V628.2H283.7V631.7H289.6V629.2H295.5V630.6H301.4V625.5H307.4V624.9H313.3V628.4H319.2V625.5H325.1V628.6H331.0V629.7H336.9V624.1H342.8V622.3H348.7V617.2H354.6V624.7H360.5V616.5H366.4V617.5H372.3V602.8H378.2V617.2H384.1V603.3H390.0V596.7H395.9V589.0H401.8V589.1H407.7V600.6H413.6V601.6H419.5V583.2H425.4V574.9H431.3V615.0H437.2V590.8H443.1V586.9H449.0V593.1H455.0V605.4H460.9V593.9H466.8V613.2H472.7V622.2H478.6V611.1H484.5V610.9H490.4V611.1H496.3V614.3H502.2V619.1H508.1V622.2H514.0V620.0H519.9V615.6H525.8V625.2H531.7V627.1H537.6V620.9H543.5V628.9H549.4V624.7H555.3V626.0H561.2V628.1H567.1V630.6H573.0V630.2H578.9V627.9H584.8V628.9H590.7V630.4H596.6V630.5H602.6V630.1H608.5V630.8H614.4V630.3H620.3V630.2H626.2V630.6H632.1V631.1H638.0V631.1H643.9V632.2H649.8V630.2H655.7V631.5H661.6V631.2H667.5V631.4" stroke="#9e0142"/><path d="M83.0,632.3H88.9V632.3H94.8V632.3H100.7V632.2H106.6V632.3H112.5V632.1H118.4V632.1H124.3V632.1H130.2V632.1H136.1V632.1H142.0V632.3H147.9V631.8H153.8V631.9H159.8V631.9H165.7V632.3H171.6V631.8H177.5V631.8H183.4V631.2H189.3V630.9H195.2V631.8H201.1V630.6H207.0V631.4H212.9V631.7H218.8V630.8H224.7V631.9H230.6V632.1H236.5V631.8H242.4V629.0H248.3V629.8H254.2V630.7H260.1V629.0H266.0V628.3H271.9V628.6H277.8V629.9H283.7V627.7H289.6V627.6H295.5V629.5H301.4V628.1H307.4V627.8H313.3V629.0H319.2V627.9H325.1V622.8H331.0V624.8H336.9V625.3H342.8V619.5H348.7V617.9H354.6V613.8H360.5V610.2H366.4V619.3H372.3V611.1H378.2V609.2H384.1V598.5H390.0V593.8H395.9V595.1H401.8V579.5H407.7V592.5H413.6V614.8H419.5V579.4H425.4V585.8H431.3V593.4H437.2V604.5H443.1V601.3H449.0V610.5H455.0V610.9H460.9V609.0H466.8V595.7H472.7V605.9H478.6V617.1H484.5V612.4H490.4V613.7H496.3V615.3H502.2V612.7H508.1V619.6H514.0V613.6H519.9V617.9H525.8V622.1H531.7V623.9H537.6V624.6H543.5V625.4H549.4V627.6H555.3V627.1H561.2V629.2H567.1V627.5H573.0V629.7H578.9V628.8H584.8V629.0H590.7V629.3H596.6V629.5H602.6V630.3H608.5V630.9H614.4V630.2H620.3V630.4H626.2V631.5H632.1V630.4H638.0V631.2H643.9V631.0H649.8V632.0H655.7V631.7H661.6V631.8H667.5V631.8" stroke="#f46d43"/><path d="M83.0,632.3H88.9V632.2H94.8V632.3H100.7V632.3H106.6V632.3H112.5V632.3H118.4V632.0H124.3V632.4H130.2V632.2H136.1V632.2H142.0V632.3H147.9V632.0H153.8V632.0H159.8V632.2H165.7V631.8H171.6V632.2H177.5V631.2H183.4V631.5H189.3V631.4H195.2V631.7H201.1V632.1H207.0V632.2H212.9V630.2H218.8V630.1H224.7V630.3H230.6V630.9H236.5V630.1H242.4V630.7H248.3V630.8H254.2V631.1H260.1V627.7H266.0V629.2H271.9V629.5H277.8V628.1H283.7V628.8H289.6V627.6H295.5V625.9H301.4V626.2H307.4V626.0H313.3V627.8H319.2V626.8H325.1V627.7H331.0V622.7H336.9V622.3H342.8V620.1H348.7V619.3H354.6V611.0H360.5V618.7H366.4V604.7H372.3V598.0H378.2V619.3H384.1V591.9H390.0V600.1H395.9V606.6H401.8V590.0H407.7V572.4H413.6V602.8H419.5V572.5H425.4V583.8H431.3V606.4H437.2V573.1H443.1V599.2H449.0V588.6H455.0V598.9H460.9V609.4H466.8V610.6H472.7V604.7H478.6V613.3H484.5V617.0H490.4V623.8H496.3V613.8H502.2V625.1H508.1V612.9H514.0V618.6H519.9V624.6H525.8V615.3H531.7V618.1H537.6V620.4H543.5V623.3H549.4V625.6H555.3V628.2H561.2V626.0H567.1V627.3H573.0V629.0H578.9V628.7H584.8V631.0H590.7V629.8H596.6V628.9H602.6V628.9H608.5V630.8H614.4V630.9H620.3V630.5H626.2V631.5H632.1V631.6H638.0V631.1H643.9V631.1H649.8V631.2H655.7V631.2H661.6V631.7H667.5V631.3" stroke="#d53e4f"/><path d="M83.0,632.4H88.9V632.3H94.8V632.2H100.7V632.3H106.6V632.2H112.5V632.3H118.4V632.2H124.3V632.2H130.2V632.3H136.1V632.1H142.0V631.9H147.9V631.8H153.8V632.2H159.8V631.6H165.7V632.0H171.6V631.6H177.5V631.3H183.4V631.5H189.3V631.2H195.2V631.3H201.1V630.7H207.0V631.5H212.9V631.4H218.8V632.1H224.7V631.1H230.6V631.8H236.5V629.4H242.4V631.1H248.3V630.6H254.2V629.8H260.1V628.6H266.0V629.0H271.9V630.6H277.8V627.4H283.7V627.0H289.6V629.1H295.5V629.2H301.4V629.4H307.4V628.6H313.3V628.4H319.2V620.8H325.1V628.5H331.0V622.3H336.9V622.8H342.8V617.2H348.7V624.6H354.6V609.1H360.5V622.3H366.4V615.6H372.3V607.3H378.2V608.7H384.1V611.8H390.0V580.3H395.9V595.5H401.8V588.4H407.7V600.1H413.6V602.2H419.5V556.4H425.4V609.4H431.3V601.8H437.2V585.7H443.1V595.4H449.0V605.1H455.0V598.4H460.9V597.7H466.8V599.5H472.7V608.3H478.6V613.0H484.5V606.4H490.4V618.3H496.3V620.5H502.2V619.2H508.1V620.3H514.0V621.3H519.9V623.2H525.8V620.9H531.7V624.0H537.6V627.9H543.5V628.6H549.4V626.3H555.3V626.7H561.2V628.0H567.1V627.7H573.0V627.3H578.9V628.1H584.8V628.2H590.7V631.2H596.6V629.6H602.6V631.5H608.5V631.8H614.4V630.2H620.3V631.0H626.2V630.5H632.1V630.4H638.0V631.5H643.9V631.0H649.8V631.7H655.7V631.2H661.6V631.3H667.5V631.8" stroke="#f46d43"/><path d="M83.0,632.2H88.9V632.3H94.8V632.2H100.7V632.2H106.6V632.2H112.5V632.1H118.4V632.2H124.3V632.2H130.2V632.4H136.1V632.2H142.0V631.9H147.9V632.1H153.8V631.8H159.8V631.9H165.7V632.1H171.6V631.4H177.5V631.4H183.4V631.4H189.3V632.1H195.2V631.3H201.1V630.9H207.0V631.6H212.9V631.4H218.8V631.5H224.7V630.3H230.6V631.1H236.5V630.6H242.4V628.1H248.3V629.1H254.2V629.3H260.1V627.3H266.0V627.9H271.9V629.8H277.8V627.9H283.7V631.1H289.6V629.1H295.5V628.3H301.4V626.0H307.4V630.3H313.3V627.4H319.2V625.1H325.1V625.7H331.0V622.5H336.9V624.8H342.8V625.5H348.7V617.8H354.6V616.7H360.5V612.1H366.4V625.5H372.3V600.0H378.2V598.8H384.1V613.7H390.0V596.2H395.9V614.8H401.8V582.7H407.7V592.4H413.6V618.2H419.5V572.5H425.4V566.1H431.3V604.8H437.2V610.2H443.1V593.5H449.0V610.4H455.0V608.4H460.9V618.3H466.8V610.6H472.7V609.2H478.6V615.3H484.5V619.6H490.4V605.4H496.3V613.4H502.2V625.7H508.1V624.8H514.0V625.3H519.9V618.8H525.8V622.9H531.7V623.5H537.6V623.3H543.5V626.0H549.4V623.8H555.3V627.8H561.2V627.4H567.1V626.3H573.0V631.7H578.9V628.2H584.8V629.0H590.7V630.2H596.6V630.3H602.6V630.2H608.5V631.0H614.4V629.7H620.3V630.8H626.2V630.2H632.1V632.0H638.0V631.2H643.9V631.2H649.8V630.8H655.7V632.1H661.6V631.6H667.5V631.5" stroke="#9e0142"/><path d="M83.0,632.3H88.9V632.2H94.8V632.3H100.7V632.2H106.6V632.4H112.5V632.0H118.4V632.2H124.3V632.3H130.2V632.0H136.1V632.2H142.0V632.3H147.9V632.2H153.8V631.7H159.8V631.9H165.7V632.3H171.6V632.0H177.5V631.4H183.4V631.9H189.3V631.6H195.2V631.5H201.1V631.6H207.0V631.9H212.9V631.2H218.8V631.7H224.7V630.9H230.6V630.7H236.5V630.0H242.4V629.6H248.3V630.6H254.2V629.1H260.1V631.3H266.0V631.2H271.9V627.9H277.8V628.5H283.7V629.0H289.6V630.0H295.5V626.7H301.4V626.7H307.4V629.4H313.3V627.7H319.2V628.9H325.1V624.7H331.0V622.8H336.9V620.2H342.8V621.9H348.7V626.4H354.6V614.8H360.5V614.6H366.4V616.0H372.3V608.5H378.2V617.8H384.1V607.4H390.0V593.1H395.9V595.2H401.8V585.1H407.7V612.6H413.6V575.2H419.5V579.3H425.4V596.8H431.3V605.2H437.2V601.6H443.1V591.2H449.0V604.7H455.0V600.9H460.9V604.5H466.8V614.8H472.7V616.2H478.6V605.3H484.5V611.2H490.4V611.2H496.3V618.8H502.2V624.0H508.1V616.4H514.0V617.5H519.9V623.9H525.8V626.7H531.7V621.7H537.6V628.0H543.5V627.9H549.4V627.4H555.3V628.0H561.2V628.7H567.1V631.6H573.0V628.4H578.9V629.3H584.8V628.1H590.7V630.2H596.6V631.1H602.6V629.9H608.5V631.2H614.4V630.3H620.3V630.2H626.2V632.1H632.1V631.8H638.0V631.5H643.9V632.0H649.8V631.5H655.7V631.4H661.6V631.5H667.5V631.5" stroke="#d53e4f"/><path d="M83.0,632.3H88.9V632.3H94.8V632.3H100.7V632.2H106.6V632.3H112.5V632.3H118.4V632.1H124.3V632.4H130.2V632.2H136.1V632.2H142.0V632.1H147.9V632.1H153.8V631.9H159.8V631.9H165.7V631.4H171.6V631.3H177.5V631.7H183.4V631.7H189.3V631.4H195.2V631.3H201.1V631.6H207.0V631.9H212.9V630.5H218.8V630.8H224.7V630.9H230.6V629.5H236.5V631.6H242.4V631.4H248.3V632.0H254.2V628.5H260.1V629.6H266.0V628.9H271.9V630.5H277.8V628.8H283.7V628.5H289.6V625.7H295.5V626.8H301.4V627.0H307.4V627.8H313.3V629.3H319.2V628.0H325.1V626.0H331.0V625.4H336.9V626.9H342.8V622.6H348.7V625.4H354.6V627.3H360.5V612.1H366.4V608.4H372.3V606.8H378.2V611.7H384.1V623.6H390.0V604.9H395.9V605.4H401.8V576.8H407.7V588.1H413.6V577.4H419.5V586.3H425.4V594.6H431.3V602.0H437.2V594.9H443.1V601.5H449.0V595.3H455.0V603.4H460.9V607.9H466.8V609.5H472.7V620.5H478.6V613.3H484.5V607.3H490.4V614.3H496.3V623.3H502.2V613.3H508.1V623.0H514.0V617.2H519.9V624.5H525.8V622.9H531.7V627.2H537.6V625.1H543.5V625.7H549.4V625.0H555.3V627.5H561.2V629.9H567.1V628.3H573.0V629.8H578.9V631.1H584.8V629.5H590.7V631.9H596.6V629.4H602.6V630.2H608.5V629.9H614.4V629.6H620.3V631.3H626.2V630.6H632.1V631.6H638.0V631.3H643.9V632.2H649.8V631.9H655.7V632.1H661.6V632.1H667.5V631.5" stroke="#abdda4"/><path d="M83.0,632.3H88.9V632.3H94.8V632.3H100.7V632.4H106.6V632.3H112.5V632.1H118.4V632.2H124.3V632.0H130.2V632.2H136.1V632.2H142.0V632.1H147.9V632.0H153.8V632.0H159.8V631.7H165.7V631.9H171.6V631.8H177.5V631.8H183.4V631.1H189.3V632.2H195.2V631.9H201.1V631.1H207.0V631.7H212.9V631.0H218.8V631.8H224.7V631.7H230.6V631.2H236.5V630.7H242.4V631.1H248.3V630.0H254.2V630.3H260.1V631.0H266.0V629.6H271.9V629.4H277.8V628.8H283.7V628.6H289.6V628.3H295.5V628.2H301.4V629.6H307.4V628.9H313.3V627.2H319.2V627.4H325.1V623.6H331.0V627.3H336.9V622.4H342.8V625.7H348.7V621.6H354.6V614.5H360.5V619.3H366.4V612.6H372.3V610.2H378.2V595.9H384.1V610.8H390.0V603.6H395.9V599.8H401.8V608.0H407.7V597.3H413.6V604.9H419.5V595.6H425.4V603.2H431.3V601.8H437.2V611.5H443.1V604.4H449.0V594.4H455.0V598.6H460.9V611.3H466.8V617.4H472.7V616.1H478.6V614.4H484.5V611.0H490.4V614.4H496.3V622.0H502.2V620.7H508.1V613.6H514.0V621.2H519.9V623.6H525.8V626.5H531.7V623.5H537.6V625.0H543.5V623.9H549.4V627.8H555.3V627.6H561.2V627.2H567.1V628.4H573.0V628.2H578.9V628.2H584.8V629.1H590.7V629.9H596.6V629.4H602.6V631.3H608.5V630.3H614.4V631.7H620.3V630.4H626.2V630.4H632.1V631.7H638.0V631.2H643.9V631.4H649.8V631.7H655.7V631.8H661.6V631.5H667.5V631.4" stroke="#5e4fa2"/><path d="M83.0,632.3H88.9V632.2H94.8V632.2H100.7V632.2H106.6V632.1H112.5V632.2H118.4V632.2H124.3V632.2H130.2V631.9H136.1V632.2H142.0V632.3H147.9V631.9H153.8V631.9H159.8V631.6H165.7V632.3H171.6V631.7H177.5V632.3H183.4V631.7H189.3V631.6H195.2V632.1H201.1V631.1H207.0V632.0H212.9V630.7H218.8V632.1H224.7V631.5H230.6V630.4H236.5V629.9H242.4V630.4H248.3V632.0H254.2V630.2H260.1V630.8H266.0V628.9H271.9V628.8H277.8V629.2H283.7V629.3H289.6V628.8H295.5V629.0H301.4V630.4H307.4V627.1H313.3V628.0H319.2V627.3H325.1V622.7H331.0V627.1H336.9V622.6H342.8V620.4H348.7V617.9H354.6V617.7H360.5V623.2H366.4V612.1H372.3V610.7H378.2V611.3H384.1V597.3H390.0V599.3H395.9V586.4H401.8V596.1H407.7V606.2H413.6V595.1H419.5V610.6H425.4V581.2H431.3V619.1H437.2V604.3H443.1V591.7H449.0V588.5H455.0V618.3H460.9V613.0H466.8V610.8H472.7V612.9H478.6V611.0H484.5V606.3H490.4V607.4H496.3V616.1H502.2V624.2H508.1V623.4H514.0V622.9H519.9V619.9H525.8V622.2H531.7V622.2H537.6V624.2H543.5V623.8H549.4V628.3H555.3V627.7H561.2V629.0H567.1V626.8H573.0V627.6H578.9V628.9H584.8V629.5H590.7V629.5H596.6V631.7H602.6V630.0H608.5V630.2H614.4V631.4H620.3V630.7H626.2V631.0H632.1V631.7H638.0V632.1H643.9V630.6H649.8V631.7H655.7V631.8H661.6V631.6H667.5V631.3" stroke="#fdae61"/><path d="M83.0,632.3H88.9V632.3H94.8V632.3H100.7V632.2H106.6V632.2H112.5V632.2H118.4V632.2H124.3V632.1H130.2V632.3H136.1V632.2H142.0V632.3H147.9V632.1H153.8V631.7H159.8V631.8H165.7V632.0H171.6V631.4H177.5V631.4H183.4V631.8H189.3V632.2H195.2V631.4H201.1V631.4H207.0V631.1H212.9V630.7H218.8V631.4H224.7V631.5H230.6V630.4H236.5V630.4H242.4V630.8H248.3V629.6H254.2V628.6H260.1V629.7H266.0V630.9H271.9V629.3H277.8V629.7H283.7V627.9H289.6V630.3H295.5V628.8H301.4V626.7H307.4V625.9H313.3V629.3H319.2V628.1H325.1V622.5H331.0V625.2H336.9V624.2H342.8V625.6H348.7V622.7H354.6V614.0H360.5V620.6H366.4V594.9H372.3V603.5H378.2V605.2H384.1V609.8H390.0V607.2H395.9V582.3H401.8V597.9H407.7V600.4H413.6V618.4H419.5V602.8H425.4V581.7H431.3V583.1H437.2V596.4H443.1V593.5H449.0V593.5H455.0V595.3H460.9V599.8H466.8V599.4H472.7V599.8H478.6V617.6H484.5V615.7H490.4V615.8H496.3V616.5H502.2V623.8H508.1V622.2H514.0V619.9H519.9V618.9H525.8V621.7H531.7V623.5H537.6V629.3H543.5V623.3H549.4V623.6H555.3V625.8H561.2V628.3H567.1V628.4H573.0V630.8H578.9V629.9H584.8V630.5H590.7V630.7H596.6V630.1H602.6V630.3H608.5V630.8H614.4V630.9H620.3V629.8H626.2V630.5H632.1V630.0H638.0V631.4H643.9V631.1H649.8V631.5H655.7V632.1H661.6V632.0H667.5V631.9" stroke="#d53e4f"/><path d="M83.0,632.3H88.9V632.3H94.8V632.3H100.7V632.2H106.6V632.4H112.5V632.4H118.4V632.1H124.3V632.1H130.2V631.9H136.1V632.2H142.0V632.3H147.9V632.2H153.8V632.1H159.8V631.8H165.7V632.2H171.6V631.6H177.5V631.3H183.4V631.9H189.3V632.2H195.2V631.0H201.1V632.2H207.0V630.5H212.9V630.0H218.8V630.1H224.7V630.9H230.6V628.9H236.5V630.9H242.4V629.4H248.3V630.1H254.2V630.3H260.1V629.3H266.0V627.8H271.9V630.2H277.8V630.1H283.7V627.1H289.6V630.9H295.5V628.4H301.4V628.0H307.4V629.1H313.3V626.6H319.2V626.5H325.1V625.9H331.0V627.1H336.9V621.4H342.8V614.6H348.7V614.5H354.6V626.5H360.5V609.6H366.4V606.6H372.3V613.4H378.2V617.7H384.1V607.1H390.0V599.5H395.9V594.1H401.8V595.7H407.7V618.6H413.6V585.1H419.5V609.7H425.4V579.0H431.3V605.4H437.2V589.6H443.1V600.0H449.0V609.6H455.0V614.1H460.9V610.0H466.8V592.4H472.7V612.1H478.6V612.7H484.5V618.4H490.4V612.9H496.3V617.2H502.2V621.5H508.1V621.4H514.0V617.1H519.9V617.1H525.8V624.8H531.7V625.7H537.6V628.4H543.5V623.6H549.4V628.2H555.3V628.8H561.2V627.9H567.1V630.5H573.0V625.8H578.9V628.9H584.8V629.9H590.7V628.7H596.6V631.2H602.6V630.4H608.5V630.4H614.4V631.6H620.3V631.5H626.2V630.1H632.1V632.0H638.0V631.8H643.9V632.1H649.8V630.9H655.7V631.3H661.6V632.2H667.5V631.7" stroke="#f46d43"/><path d="M83.0,632.4H88.9V632.2H94.8V632.2H100.7V632.2H106.6V632.2H112.5V632.1H118.4V632.2H124.3V632.2H130.2V632.1H136.1V632.3H142.0V632.2H147.9V632.0H153.8V631.8H159.8V632.2H165.7V631.9H171.6V631.7H177.5V631.5H183.4V631.4H189.3V631.1H195.2V631.5H201.1V632.2H207.0V631.7H212.9V631.7H218.8V631.2H224.7V630.4H230.6V631.2H236.5V630.8H242.4V630.5H248.3V630.8H254.2V630.6H260.1V630.9H266.0V631.6H271.9V626.3H277.8V629.0H283.7V631.0H289.6V627.2H295.5V629.7H301.4V630.2H307.4V627.3H313.3V625.7H319.2V626.8H325.1V628.4H331.0V623.4H336.9V627.7H342.8V619.0H348.7V623.4H354.6V621.0H360.5V614.9H366.4V612.4H372.3V618.7H378.2V596.5H384.1V616.3H390.0V603.4H395.9V594.9H401.8V585.7H407.7V586.1H413.6V581.2H419.5V583.6H425.4V595.7H431.3V602.8H437.2V581.2H443.1V613.0H449.0V596.6H455.0V604.3H460.9V603.8H466.8V610.6H472.7V602.3H478.6V627.3H484.5V615.0H490.4V618.6H496.3V618.4H502.2V612.1H508.1V621.2H514.0V623.4H519.9V622.3H525.8V628.4H531.7V628.4H537.6V625.0H543.5V625.5H549.4V628.3H555.3V628.3H561.2V629.0H567.1V629.9H573.0V629.2H578.9V631.3H584.8V630.0H590.7V628.8H596.6V630.8H602.6V630.3H608.5V630.9H614.4V631.1H620.3V631.8H626.2V630.3H632.1V630.6H638.0V631.9H643.9V630.9H649.8V631.4H655.7V631.5H661.6V632.0H667.5V631.5" stroke="#f46d43"/><path d="M83.0,632.3H88.9V632.3H94.8V632.2H100.7V632.3H106.6V632.2H112.5V632.2H118.4V632.3H124.3V632.0H130.2V632.2H136.1V632.1H142.0V632.2H147.9V631.9H153.8V631.9H159.8V632.1H165.7V631.9H171.6V631.7H177.5V631.8H183.4V631.7H189.3V632.1H195.2V631.2H201.1V630.9H207.0V631.8H212.9V631.0H218.8V630.5H224.7V630.7H230.6V631.6H236.5V631.4H242.4V631.2H248.3V628.7H254.2V629.5H260.1V630.4H266.0V628.9H271.9V630.6H277.8V629.1H283.7V629.0H289.6V628.9H295.5V630.8H301.4V631.1H307.4V624.4H313.3V628.7H319.2V624.0H325.1V628.5H331.0V625.0H336.9V623.9H342.8V622.1H348.7V616.3H354.6V624.2H360.5V615.6H366.4V604.7H372.3V628.0H378.2V598.4H384.1V607.7H390.0V612.4H395.9V597.6H401.8V614.0H407.7V612.0H413.6V588.9H419.5V601.3H425.4V604.1H431.3V598.8H437.2V592.5H443.1V590.2H449.0V599.7H455.0V613.8H460.9V598.0H466.8V620.1H472.7V601.9H478.6V616.6H484.5V623.6H490.4V612.0H496.3V620.4H502.2V616.6H508.1V613.6H514.0V619.4H519.9V621.0H525.8V623.5H531.7V625.7H537.6V627.9H543.5V626.5H549.4V626.7H555.3V629.5H561.2V627.4H567.1V629.0H573.0V627.1H578.9V627.0H584.8V631.0H590.7V630.8H596.6V630.4H602.6V631.5H608.5V630.4H614.4V632.0H620.3V631.1H626.2V630.2H632.1V631.7H638.0V631.4H643.9V631.0H649.8V631.6H655.7V631.5H661.6V632.3H667.5V632.1" stroke="#9e0142"/><path d="M83.0,632.4H88.9V632.3H94.8V632.3H100.7V632.3H106.6V632.2H112.5V632.2H118.4V632.2H124.3V632.3H130.2V632.2H136.1V632.3H142.0V632.0H147.9V632.0H153.8V631.9H159.8V631.8H165.7V631.9H171.6V631.9H177.5V631.8H183.4V632.1H189.3V632.2H195.2V631.4H201.1V631.9H207.0V631.8H212.9V631.6H218.8V630.7H224.7V632.1H230.6V631.7H236.5V630.5H242.4V630.9H248.3V629.8H254.2V630.8H260.1V630.3H266.0V629.7H271.9V628.6H277.8V627.7H283.7V629.3H289.6V627.8H295.5V628.0H301.4V629.0H307.4V629.7H313.3V628.9H319.2V627.0H325.1V629.8H331.0V628.5H336.9V627.9H342.8V622.5H348.7V624.6H354.6V622.4H360.5V619.3H366.4V618.8H372.3V607.7H378.2V601.6H384.1V609.9H390.0V613.9H395.9V599.4H401.8V609.2H407.7V585.8H413.6V585.9H419.5V596.6H425.4V599.2H431.3V595.1H437.2V589.8H443.1V601.0H449.0V623.5H455.0V611.4H460.9V607.2H466.8V618.0H472.7V610.9H478.6V614.0H484.5V616.6H490.4V617.9H496.3V614.2H502.2V620.0H508.1V629.4H514.0V624.0H519.9V621.3H525.8V630.2H531.7V622.9H537.6V624.6H543.5V626.9H549.4V628.2H555.3V627.0H561.2V627.7H567.1V629.2H573.0V628.5H578.9V629.0H584.8V629.8H590.7V627.8H596.6V628.6H602.6V632.0H608.5V630.3H614.4V631.0H620.3V631.7H626.2V630.8H632.1V632.2H638.0V631.3H643.9V631.4H649.8V631.4H655.7V631.8H661.6V632.0H667.5V632.0" stroke="#d53e4f"/><path d="M83.0,632.3H88.9V632.3H94.8V632.2H100.7V632.3H106.6V632.2H112.5V632.3H118.4V632.2H124.3V632.0H130.2V632.2H136.1V632.0H142.0V632.0H147.9V632.0H153.8V631.8H159.8V631.9H165.7V632.0H171.6V632.3H177.5V632.0H183.4V631.8H189.3V631.4H195.2V631.3H201.1V631.5H207.0V630.6H212.9V631.9H218.8V630.6H224.7V630.6H230.6V630.0H236.5V630.8H242.4V630.6H248.3V629.7H254.2V630.9H260.1V629.0H266.0V631.6H271.9V629.8H277.8V629.3H283.7V626.7H289.6V626.5H295.5V629.2H301.4V629.5H307.4V630.3H313.3V626.5H319.2V629.6H325.1V626.7H331.0V625.2H336.9V623.8H342.8V617.7H348.7V623.4H354.6V619.2H360.5V619.6H366.4V614.6H372.3V601.8H378.2V608.7H384.1V602.3H390.0V598.1H395.9V601.7H401.8V589.1H407.7V596.5H413.6V596.9H419.5V604.7H425.4V595.6H431.3V606.3H437.2V618.0H443.1V610.4H449.0V616.1H455.0V617.3H460.9V608.7H466.8V611.2H472.7V615.9H478.6V617.7H484.5V611.0H490.4V612.0H496.3V614.7H502.2V618.8H508.1V618.6H514.0V625.2H519.9V622.0H525.8V623.2H531.7V622.5H537.6V622.6H543.5V629.9H549.4V626.6H555.3V629.0H561.2V626.1H567.1V628.4H573.0V627.5H578.9V627.9H584.8V629.6H590.7V630.5H596.6V629.2H602.6V630.9H608.5V631.8H614.4V630.5H620.3V630.2H626.2V631.1H632.1V632.0H638.0V631.6H643.9V631.3H649.8V631.3H655.7V631.6H661.6V631.6H667.5V632.1" stroke="#d53e4f"/><path d="M83.0,632.3H88.9V632.3H94.8V632.4H100.7V632.3H106.6V632.3H112.5V632.3H118.4V632.3H124.3V632.3H130.2V632.2H136.1V632.4H142.0V632.2H147.9V632.3H153.8V632.1H159.8V632.3H165.7V631.5H171.6V632.1H177.5V631.9H183.4V631.7H189.3V631.8H195.2V631.4H201.1V631.7H207.0V631.0H212.9V632.2H218.8V631.2H224.7V631.2H230.6V630.1H236.5V631.2H242.4V631.8H248.3V630.9H254.2V630.0H260.1V630.1H266.0V629.3H271.9V628.8H277.8V629.4H283.7V629.2H289.6V628.2H295.5V630.4H301.4V628.1H307.4V627.8H313.3V627.3H319.2V628.9H325.1V628.0H331.0V628.3H336.9V627.7H342.8V622.9H348.7V621.9H354.6V629.7H360.5V620.7H366.4V611.6H372.3V595.3H378.2V595.3H384.1V614.8H390.0V598.2H395.9V609.3H401.8V605.5H407.7V578.8H413.6V588.6H419.5V588.5H425.4V583.0H431.3V605.3H437.2V588.9H443.1V597.8H449.0V592.7H455.0V617.1H460.9V607.7H466.8V617.4H472.7V604.7H478.6V609.4H484.5V619.3H490.4V618.2H496.3V614.5H502.2V621.4H508.1V621.0H514.0V628.5H519.9V622.1H525.8V624.7H531.7V625.3H537.6V621.1H543.5V626.9H549.4V623.4H555.3V628.5H561.2V628.8H567.1V629.3H573.0V627.3H578.9V630.6H584.8V628.7H590.7V631.2H596.6V630.9H602.6V630.4H608.5V629.8H614.4V631.1H620.3V630.7H626.2V631.0H632.1V631.0H638.0V631.8H643.9V631.3H649.8V632.2H655.7V632.1H661.6V631.6H667.5V631.9" stroke="#9e0142"/><path d="M83.0,632.3H88.9V632.3H94.8V632.3H100.7V632.2H106.6V632.3H112.5V632.3H118.4V632.1H124.3V632.1H130.2V632.2H136.1V632.0H142.0V631.9H147.9V632.1H153.8V631.9H159.8V631.7H165.7V631.5H171.6V631.8H177.5V631.4H183.4V631.1H189.3V631.9H195.2V631.5H201.1V630.6H207.0V631.2H212.9V631.3H218.8V631.0H224.7V631.8H230.6V629.9H236.5V631.7H242.4V630.7H248.3V629.9H254.2V627.1H260.1V631.1H266.0V627.0H271.9V628.4H277.8V627.9H283.7V628.4H289.6V626.9H295.5V628.5H301.4V627.3H307.4V626.1H313.3V625.0H319.2V627.2H325.1V628.3H331.0V625.1H336.9V621.6H342.8V617.2H348.7V615.0H354.6V615.0H360.5V608.2H366.4V616.8H372.3V603.0H378.2V622.0H384.1V600.2H390.0V604.2H395.9V601.5H401.8V601.9H407.7V592.9H413.6V569.7H419.5V589.5H425.4V587.6H431.3V598.4H437.2V590.3H443.1V609.8H449.0V588.8H455.0V605.8H460.9V610.8H466.8V616.9H472.7V612.5H478.6V623.1H484.5V618.2H490.4V624.5H496.3V612.8H502.2V608.0H508.1V626.6H514.0V624.4H519.9V618.7H525.8V624.6H531.7V620.8H537.6V628.4H543.5V625.5H549.4V627.0H555.3V625.0H561.2V629.5H567.1V630.2H573.0V628.3H578.9V629.4H584.8V628.1H590.7V629.4H596.6V630.0H602.6V630.0H608.5V630.2H614.4V631.4H620.3V631.1H626.2V632.1H632.1V631.8H638.0V630.4H643.9V631.2H649.8V631.7H655.7V632.0H661.6V631.3H667.5V631.4" stroke="#d53e4f"/><path d="M83.0,632.3H88.9V632.2H94.8V632.4H100.7V632.3H106.6V632.2H112.5V632.4H118.4V632.2H124.3V632.3H130.2V632.3H136.1V632.0H142.0V632.2H147.9V631.8H153.8V631.8H159.8V631.9H165.7V632.2H171.6V632.0H177.5V631.7H183.4V631.1H189.3V631.8H195.2V630.7H201.1V631.3H207.0V630.6H212.9V631.1H218.8V629.4H224.7V632.1H230.6V630.8H236.5V630.0H242.4V631.0H248.3V629.8H254.2V629.6H260.1V628.9H266.0V631.3H271.9V628.5H277.8V626.9H283.7V625.6H289.6V629.4H295.5V631.2H301.4V625.5H307.4V628.5H313.3V626.4H319.2V623.4H325.1V625.2H331.0V620.2H336.9V626.1H342.8V623.5H348.7V618.7H354.6V615.3H360.5V610.8H366.4V607.9H372.3V612.4H378.2V594.6H384.1V600.7H390.0V592.0H395.9V590.1H401.8V601.3H407.7V582.1H413.6V613.3H419.5V589.1H425.4V610.3H431.3V594.6H437.2V594.4H443.1V610.8H449.0V590.5H455.0V585.9H460.9V583.0H466.8V604.7H472.7V605.8H478.6V611.0H484.5V608.3H490.4V623.2H496.3V617.5H502.2V625.8H508.1V614.7H514.0V617.1H519.9V622.4H525.8V619.2H531.7V622.1H537.6V622.7H543.5V628.5H549.4V626.9H555.3V627.1H561.2V627.4H567.1V625.2H573.0V629.7H578.9V626.0H584.8V630.2H590.7V628.1H596.6V629.3H602.6V630.5H608.5V630.4H614.4V630.1H620.3V629.6H626.2V631.9H632.1V630.7H638.0V631.1H643.9V631.3H649.8V632.2H655.7V631.7H661.6V632.0H667.5V632.1" stroke="#f46d43"/><path d="M83.0,632.3H88.9V632.3H94.8V632.2H100.7V632.2H106.6V632.1H112.5V632.2H118.4V632.2H124.3V632.0H130.2V632.2H136.1V632.0H142.0V632.1H147.9V632.0H153.8V631.5H159.8V632.2H165.7V631.8H171.6V631.6H177.5V631.7H183.4V631.9H189.3V631.4H195.2V630.6H201.1V630.0H207.0V630.4H212.9V630.7H218.8V630.4H224.7V631.0H230.6V630.9H236.5V629.0H242.4V629.9H248.3V630.4H254.2V630.8H260.1V629.0H266.0V629.6H271.9V631.3H277.8V629.8H283.7V628.6H289.6V626.5H295.5V622.8H301.4V625.8H307.4V628.3H313.3V622.9H319.2V623.2H325.1V625.4H331.0V621.5H336.9V625.3H342.8V619.5H348.7V615.4H354.6V615.6H360.5V616.4H366.4V608.6H372.3V606.3H378.2V597.6H384.1V594.4H390.0V607.1H395.9V583.8H401.8V598.0H407.7V593.4H413.6V585.4H419.5V585.2H425.4V582.8H431.3V608.1H437.2V581.3H443.1V581.3H449.0V591.9H455.0V599.7H460.9V599.3H466.8V620.8H472.7V604.3H478.6V602.4H484.5V617.3H490.4V623.2H496.3V617.7H502.2V609.6H508.1V615.6H514.0V618.3H519.9V618.2H525.8V621.1H531.7V630.4H537.6V624.2H543.5V625.0H549.4V623.3H555.3V627.7H561.2V625.0H567.1V628.2H573.0V627.6H578.9V627.7H584.8V630.5H590.7V627.2H596.6V630.5H602.6V631.1H608.5V630.6H614.4V630.3H620.3V629.1H626.2V631.0H632.1V631.2H638.0V630.3H643.9V630.3H649.8V631.1H655.7V631.2H661.6V631.9H667.5V631.2" stroke="#d53e4f"/><path d="M83.0,632.3H88.9V632.3H94.8V632.2H100.7V632.2H106.6V632.2H112.5V632.3H118.4V632.3H124.3V632.2H130.2V632.3H136.1V632.1H142.0V632.0H147.9V632.0H153.8V631.7H159.8V631.8H165.7V631.8H171.6V632.0H177.5V631.3H183.4V631.2H189.3V631.5H195.2V631.2H201.1V630.7H207.0V631.1H212.9V630.6H218.8V630.0H224.7V629.7H230.6V632.1H236.5V630.2H242.4V630.3H248.3V629.2H254.2V629.7H260.1V630.3H266.0V629.8H271.9V628.3H277.8V627.0H283.7V627.8H289.6V630.0H295.5V628.9H301.4V628.0H307.4V626.3H313.3V625.9H319.2V628.6H325.1V623.6H331.0V624.0H336.9V620.2H342.8V620.3H348.7V620.4H354.6V618.3H360.5V614.3H366.4V617.5H372.3V607.3H378.2V612.0H384.1V595.5H390.0V597.8H395.9V598.6H401.8V578.0H407.7V584.8H413.6V591.0H419.5V595.9H425.4V565.7H431.3V598.9H437.2V582.1H443.1V582.8H449.0V608.3H455.0V594.1H460.9V611.5H466.8V603.7H472.7V607.8H478.6V606.4H484.5V610.5H490.4V616.8H496.3V617.9H502.2V619.4H508.1V618.1H514.0V619.5H519.9V627.7H525.8V626.5H531.7V620.1H537.6V626.5H543.5V628.0H549.4V628.6H555.3V629.1H561.2V627.8H567.1V629.4H573.0V629.5H578.9V626.0H584.8V628.1H590.7V629.4H596.6V627.8H602.6V630.2H608.5V630.0H614.4V629.6H620.3V631.5H626.2V629.7H632.1V631.1H638.0V630.3H643.9V631.8H649.8V631.4H655.7V632.1H661.6V631.6H667.5V631.6" stroke="#e6f598"/><path d="M83.0,632.3H88.9V632.3H94.8V632.4H100.7V632.2H106.6V632.3H112.5V632.1H118.4V632.2H124.3V632.2H130.2V632.1H136.1V632.1H142.0V632.1H147.9V632.2H153.8V632.0H159.8V631.7H165.7V632.0H171.6V632.3H177.5V631.7H183.4V631.7H189.3V631.4H195.2V631.7H201.1V631.3H207.0V631.0H212.9V631.5H218.8V630.3H224.7V630.3H230.6V631.6H236.5V629.9H242.4V630.3H248.3V629.6H254.2V629.0H260.1V628.4H266.0V629.6H271.9V628.1H277.8V630.0H283.7V630.8H289.6V626.0H295.5V625.8H301.4V629.5H307.4V626.9H313.3V625.0H319.2V628.1H325.1V626.6H331.0V628.8H336.9V623.7H342.8V617.7H348.7V619.8H354.6V617.7H360.5V614.6H366.4V619.1H372.3V601.4H378.2V605.8H384.1V598.1H390.0V591.7H395.9V594.7H401.8V599.3H407.7V565.4H413.6V587.0H419.5V588.9H425.4V590.6H431.3V591.4H437.2V596.8H443.1V595.3H449.0V626.0H455.0V592.6H460.9V613.1H466.8V607.2H472.7V605.7H478.6V625.7H484.5V608.9H490.4V612.1H496.3V624.1H502.2V617.4H508.1V615.3H514.0V622.9H519.9V624.2H525.8V622.0H531.7V625.8H537.6V626.0H543.5V629.7H549.4V620.7H555.3V624.5H561.2V630.9H567.1V628.5H573.0V628.9H578.9V627.4H584.8V627.8H590.7V630.1H596.6V628.0H602.6V632.0H608.5V630.2H614.4V630.5H620.3V630.2H626.2V630.7H632.1V631.2H638.0V630.6H643.9V630.7H649.8V631.5H655.7V631.3H661.6V631.7H667.5V632.2" stroke="#fdae61"/><path d="M83.0,632.3H88.9V632.3H94.8V632.3H100.7V632.3H106.6V632.3H112.5V632.3H118.4V632.0H124.3V632.2H130.2V632.1H136.1V632.2H142.0V631.7H147.9V632.3H153.8V631.9H159.8V631.8H165.7V631.8H171.6V631.9H177.5V631.9H183.4V631.8H189.3V631.5H195.2V631.8H201.1V632.2H207.0V631.1H212.9V630.3H218.8V630.3H224.7V630.1H230.6V629.8H236.5V631.5H242.4V630.1H248.3V628.7H254.2V629.8H260.1V629.4H266.0V631.1H271.9V628.4H277.8V627.8H283.7V630.8H289.6V629.4H295.5V627.9H301.4V627.6H307.4V625.5H313.3V628.7H319.2V626.0H325.1V627.0H331.0V625.8H336.9V628.4H342.8V619.3H348.7V615.8H354.6V615.5H360.5V613.1H366.4V597.7H372.3V606.1H378.2V597.2H384.1V588.5H390.0V597.4H395.9V592.1H401.8V604.0H407.7V595.1H413.6V567.2H419.5V594.8H425.4V600.5H431.3V581.8H437.2V607.6H443.1V585.4H449.0V599.5H455.0V589.9H460.9V621.0H466.8V622.3H472.7V600.6H478.6V606.7H484.5V616.8H490.4V607.5H496.3V615.3H502.2V617.1H508.1V621.0H514.0V626.4H519.9V626.3H525.8V620.3H531.7V621.2H537.6V622.2H543.5V626.4H549.4V627.9H555.3V628.6H561.2V628.7H567.1V627.6H573.0V627.0H578.9V629.4H584.8V629.7H590.7V629.8H596.6V630.0H602.6V632.0H608.5V631.4H614.4V628.8H620.3V631.2H626.2V631.1H632.1V631.1H638.0V631.2H643.9V631.7H649.8V631.1H655.7V632.2H661.6V631.1H667.5V631.4" stroke="#ffffbf"/><path d="M83.0,632.3H88.9V632.3H94.8V632.2H100.7V632.2H106.6V632.2H112.5V632.3H118.4V632.2H124.3V632.2H130.2V632.1H136.1V631.9H142.0V632.0H147.9V632.1H153.8V632.1H159.8V632.2H165.7V632.1H171.6V631.9H177.5V631.4H183.4V632.0H189.3V631.3H195.2V631.3H201.1V631.3H207.0V631.1H212.9V630.9H218.8V631.7H224.7V629.9H230.6V630.6H236.5V629.5H242.4V630.8H248.3V629.4H254.2V630.1H260.1V630.8H266.0V630.1H271.9V631.0H277.8V630.4H283.7V626.5H289.6V629.7H295.5V626.2H301.4V627.9H307.4V626.1H313.3V629.9H319.2V627.2H325.1V625.3H331.0V625.9H336.9V623.9H342.8V624.3H348.7V617.0H354.6V617.1H360.5V616.5H366.4V615.1H372.3V612.4H378.2V608.4H384.1V604.8H390.0V609.8H395.9V601.1H401.8V582.2H407.7V597.2H413.6V607.9H419.5V584.1H425.4V585.3H431.3V607.7H437.2V603.3H443.1V606.5H449.0V596.4H455.0V590.6H460.9V602.6H466.8V610.3H472.7V619.6H478.6V607.8H484.5V606.7H490.4V626.6H496.3V617.4H502.2V625.2H508.1V623.2H514.0V616.8H519.9V626.1H525.8V622.1H531.7V621.6H537.6V620.9H543.5V627.9H549.4V623.8H555.3V627.3H561.2V626.2H567.1V626.9H573.0V627.5H578.9V629.6H584.8V629.0H590.7V630.0H596.6V629.2H602.6V629.1H608.5V629.3H614.4V630.5H620.3V630.0H626.2V629.7H632.1V630.8H638.0V631.7H643.9V630.8H649.8V631.3H655.7V631.7H661.6V630.9H667.5V631.8" stroke="#d53e4f"/><path d="M83.0,632.3H88.9V632.3H94.8V632.4H100.7V632.3H106.6V632.2H112.5V632.2H118.4V632.4H124.3V632.1H130.2V632.1H136.1V632.1H142.0V632.0H147.9V632.0H153.8V632.1H159.8V632.1H165.7V631.5H171.6V631.7H177.5V631.9H183.4V631.7H189.3V631.4H195.2V631.5H201.1V632.1H207.0V631.2H212.9V631.9H218.8V631.3H224.7V631.2H230.6V631.6H236.5V630.9H242.4V629.5H248.3V631.4H254.2V630.6H260.1V629.9H266.0V631.9H271.9V629.3H277.8V629.5H283.7V631.5H289.6V631.7H295.5V628.8H301.4V628.2H307.4V628.1H313.3V628.8H319.2V627.9H325.1V625.7H331.0V627.5H336.9V624.1H342.8V626.8H348.7V625.3H354.6V621.4H360.5V616.3H366.4V605.7H372.3V616.0H378.2V614.5H384.1V608.8H390.0V607.4H395.9V603.3H401.8V576.5H407.7V574.9H413.6V601.7H419.5V603.4H425.4V617.4H431.3V595.9H437.2V596.9H443.1V605.1H449.0V607.6H455.0V608.7H460.9V602.6H466.8V609.4H472.7V607.2H478.6V614.7H484.5V618.0H490.4V620.0H496.3V615.4H502.2V618.4H508.1V620.2H514.0V623.5H519.9V622.9H525.8V616.2H531.7V627.3H537.6V625.2H543.5V628.1H549.4V625.5H555.3V628.0H561.2V627.4H567.1V629.1H573.0V628.8H578.9V628.9H584.8V629.4H590.7V629.5H596.6V629.9H602.6V631.5H608.5V629.8H614.4V631.0H620.3V630.6H626.2V631.9H632.1V631.8H638.0V631.5H643.9V631.5H649.8V631.5H655.7V631.2H661.6V632.3H667.5V632.2" stroke="#abdda4"/><path d="M83.0,632.3H88.9V632.3H94.8V632.2H100.7V632.2H106.6V632.4H112.5V632.3H118.4V632.3H124.3V632.3H130.2V632.2H136.1V632.1H142.0V631.9H147.9V631.8H153.8V632.3H159.8V632.3H165.7V631.7H171.6V632.3H177.5V632.0H183.4V631.6H189.3V631.9H195.2V631.8H201.1V631.4H207.0V631.2H212.9V631.8H218.8V630.5H224.7V630.4H230.6V630.9H236.5V631.1H242.4V630.3H248.3V630.8H254.2V628.4H260.1V631.9H266.0V629.0H271.9V630.9H277.8V630.5H283.7V631.2H289.6V627.7H295.5V626.2H301.4V629.1H307.4V628.2H313.3V629.4H319.2V625.0H325.1V627.7H331.0V629.0H336.9V625.2H342.8V621.7H348.7V622.3H354.6V618.5H360.5V608.7H366.4V615.0H372.3V620.6H378.2V625.0H384.1V627.2H390.0V597.2H395.9V584.6H401.8V593.4H407.7V585.5H413.6V583.2H419.5V582.2H425.4V588.3H431.3V603.6H437.2V605.0H443.1V606.3H449.0V612.8H455.0V599.7H460.9V605.5H466.8V606.3H472.7V603.4H478.6V618.2H484.5V608.9H490.4V616.4H496.3V614.2H502.2V616.2H508.1V618.8H514.0V625.6H519.9V622.1H525.8V616.1H531.7V621.3H537.6V624.0H543.5V623.5H549.4V629.1H555.3V628.0H561.2V628.4H567.1V628.5H573.0V627.2H578.9V629.9H584.8V630.0H590.7V631.9H596.6V628.3H602.6V631.1H608.5V630.6H614.4V629.8H620.3V631.1H626.2V631.1H632.1V631.3H638.0V631.6H643.9V630.9H649.8V631.5H655.7V631.8H661.6V632.2H667.5V632.0" stroke="#9e0142"/><path d="M83.0,632.3H88.9V632.3H94.8V632.3H100.7V632.3H106.6V632.2H112.5V632.0H118.4V632.1H124.3V632.2H130.2V632.1H136.1V632.3H142.0V632.0H147.9V632.1H153.8V632.1H159.8V632.2H165.7V631.6H171.6V631.1H177.5V631.8H183.4V631.5H189.3V631.0H195.2V631.8H201.1V632.2H207.0V630.0H212.9V630.3H218.8V630.0H224.7V631.5H230.6V630.7H236.5V629.7H242.4V630.4H248.3V631.9H254.2V631.0H260.1V631.3H266.0V629.1H271.9V628.6H277.8V628.4H283.7V629.1H289.6V626.7H295.5V626.1H301.4V626.6H307.4V625.3H313.3V626.1H319.2V626.3H325.1V624.5H331.0V628.1H336.9V620.0H342.8V622.5H348.7V618.5H354.6V625.6H360.5V616.6H366.4V603.6H372.3V616.7H378.2V606.6H384.1V603.8H390.0V613.6H395.9V600.6H401.8V600.2H407.7V577.4H413.6V596.7H419.5V600.1H425.4V587.7H431.3V575.0H437.2V604.8H443.1V604.0H449.0V594.7H455.0V617.0H460.9V599.4H466.8V609.6H472.7V605.2H478.6V608.7H484.5V625.0H490.4V612.6H496.3V619.3H502.2V618.6H508.1V612.8H514.0V621.6H519.9V625.6H525.8V622.8H531.7V623.0H537.6V625.7H543.5V622.7H549.4V625.9H555.3V629.9H561.2V627.1H567.1V630.9H573.0V627.9H578.9V629.2H584.8V629.1H590.7V630.5H596.6V631.4H602.6V631.1H608.5V630.3H614.4V631.1H620.3V631.7H626.2V631.2H632.1V632.1H638.0V631.4H643.9V631.3H649.8V631.4H655.7V631.6H661.6V631.5H667.5V631.2" stroke="#d53e4f"/><path d="M83.0,632.4H88.9V632.3H94.8V632.3H100.7V632.4H106.6V632.3H112.5V632.3H118.4V632.2H124.3V632.3H130.2V632.1H136.1V632.3H142.0V632.2H147.9V632.2H153.8V632.3H159.8V632.0H165.7V631.5H171.6V631.5H177.5V631.5H183.4V631.9H189.3V631.4H195.2V631.9H201.1V631.2H207.0V631.6H212.9V632.2H218.8V632.1H224.7V631.2H230.6V630.3H236.5V630.4H242.4V631.6H248.3V629.7H254.2V628.7H260.1V630.5H266.0V630.4H271.9V628.0H277.8V628.3H283.7V631.0H289.6V629.1H295.5V631.6H301.4V626.3H307.4V627.3H313.3V627.8H319.2V628.4H325.1V625.4H331.0V625.7H336.9V627.2H342.8V618.7H348.7V621.6H354.6V611.8H360.5V617.9H366.4V611.0H372.3V604.2H378.2V602.0H384.1V617.6H390.0V598.3H395.9V600.4H401.8V588.8H407.7V595.8H413.6V580.0H419.5V606.9H425.4V597.0H431.3V574.3H437.2V602.4H443.1V604.3H449.0V599.2H455.0V609.1H460.9V598.1H466.8V606.1H472.7V603.0H478.6V608.6H484.5V615.3H490.4V617.1H496.3V620.8H502.2V616.3H508.1V622.5H514.0V619.8H519.9V621.4H525.8V621.4H531.7V627.3H537.6V622.9H543.5V623.7H549.4V625.3H555.3V627.2H561.2V626.8H567.1V626.3H573.0V629.3H578.9V630.4H584.8V628.3H590.7V629.6H596.6V630.4H602.6V632.0H608.5V630.8H614.4V629.5H620.3V630.4H626.2V631.2H632.1V631.4H638.0V632.2H643.9V631.1H649.8V632.0H655.7V631.6H661.6V631.9H667.5V631.8" stroke="#fdae61"/><path d="M83.0,632.3H88.9V632.3H94.8V632.3H100.7V632.2H106.6V632.4H112.5V632.4H118.4V632.1H124.3V632.0H130.2V632.3H136.1V632.1H142.0V631.9H147.9V632.1H153.8V631.8H159.8V631.6H165.7V631.7H171.6V631.7H177.5V631.4H183.4V631.6H189.3V631.4H195.2V630.8H201.1V631.8H207.0V631.6H212.9V632.1H218.8V631.3H224.7V630.6H230.6V630.0H236.5V631.8H242.4V630.4H248.3V629.5H254.2V628.7H260.1V628.9H266.0V628.5H271.9V628.9H277.8V626.2H283.7V626.4H289.6V630.2H295.5V628.3H301.4V626.7H307.4V626.5H313.3V624.2H319.2V625.6H325.1V624.2H331.0V625.5H336.9V624.7H342.8V617.2H348.7V618.6H354.6V616.7H360.5V609.1H366.4V608.6H372.3V597.8H378.2V601.6H384.1V610.7H390.0V601.1H395.9V596.4H401.8V589.8H407.7V620.3H413.6V568.5H419.5V602.9H425.4V596.8H431.3V597.4H437.2V581.4H443.1V603.1H449.0V614.5H455.0V606.2H460.9V613.5H466.8V607.3H472.7V607.0H478.6V613.6H484.5V609.7H490.4V615.1H496.3V612.4H502.2V612.8H508.1V629.8H514.0V625.1H519.9V620.2H525.8V626.9H531.7V624.3H537.6V626.3H543.5V622.8H549.4V625.1H555.3V628.8H561.2V631.4H567.1V629.1H573.0V629.8H578.9V628.1H584.8V628.5H590.7V630.4H596.6V631.4H602.6V629.8H608.5V630.4H614.4V632.0H620.3V630.8H626.2V632.1H632.1V631.5H638.0V630.6H643.9V630.6H649.8V632.1H655.7V631.1H661.6V631.5H667.5V631.2" stroke="#fee08b"/><path d="M83.0,632.3H88.9V632.3H94.8V632.4H100.7V632.2H106.6V632.3H112.5V632.0H118.4V632.1H124.3V632.0H130.2V632.1H136.1V632.2H142.0V632.3H147.9V631.7H153.8V631.5H159.8V631.8H165.7V632.0H171.6V631.7H177.5V632.3H183.4V631.8H189.3V631.7H195.2V631.0H201.1V631.3H207.0V630.6H212.9V630.9H218.8V630.9H224.7V631.9H230.6V631.3H236.5V630.0H242.4V629.1H248.3V628.2H254.2V630.0H260.1V630.7H266.0V628.2H271.9V628.8H277.8V631.7H283.7V628.1H289.6V627.7H295.5V629.1H301.4V626.2H307.4V627.8H313.3V629.5H319.2V627.0H325.1V622.9H331.0V630.0H336.9V625.6H342.8V624.1H348.7V617.1H354.6V617.0H360.5V616.7H366.4V609.7H372.3V590.3H378.2V601.3H384.1V620.0H390.0V597.7H395.9V611.6H401.8V605.9H407.7V601.4H413.6V612.0H419.5V565.1H425.4V611.7H431.3V614.1H437.2V586.5H443.1V600.5H449.0V593.3H455.0V594.9H460.9V603.0H466.8V598.7H472.7V614.4H478.6V627.4H484.5V600.0H490.4V615.4H496.3V609.9H502.2V622.4H508.1V619.5H514.0V626.0H519.9V619.9H525.8V621.8H531.7V619.9H537.6V622.4H543.5V626.2H549.4V628.2H555.3V624.9H561.2V624.6H567.1V629.0H573.0V628.4H578.9V629.1H584.8V629.2H590.7V629.7H596.6V629.9H602.6V629.8H608.5V630.2H614.4V629.2H620.3V630.0H626.2V630.9H632.1V631.2H638.0V631.8H643.9V631.3H649.8V631.5H655.7V631.7H661.6V631.7H667.5V631.4" stroke="#d53e4f"/><path d="M83.0,632.3H88.9V632.2H94.8V632.2H100.7V632.2H106.6V632.2H112.5V632.2H118.4V632.4H124.3V632.2H130.2V631.9H136.1V632.0H142.0V632.0H147.9V632.1H153.8V632.2H159.8V631.9H165.7V631.6H171.6V632.3H177.5V631.6H183.4V631.3H189.3V631.6H195.2V630.8H201.1V631.8H207.0V631.9H212.9V631.7H218.8V631.5H224.7V630.5H230.6V630.9H236.5V630.4H242.4V629.8H248.3V628.1H254.2V630.6H260.1V629.3H266.0V628.0H271.9V630.3H277.8V627.8H283.7V629.5H289.6V627.9H295.5V628.1H301.4V627.0H307.4V628.5H313.3V626.0H319.2V629.9H325.1V624.1H331.0V623.2H336.9V624.9H342.8V624.5H348.7V625.1H354.6V614.1H360.5V615.7H366.4V617.0H372.3V607.0H378.2V609.1H384.1V602.3H390.0V615.8H395.9V608.4H401.8V605.0H407.7V608.2H413.6V599.0H419.5V617.2H425.4V600.3H431.3V593.1H437.2V585.2H443.1V599.1H449.0V605.1H455.0V594.5H460.9V607.4H466.8V608.0H472.7V611.5H478.6V616.0H484.5V626.3H490.4V617.2H496.3V623.8H502.2V615.5H508.1V622.6H514.0V624.2H519.9V618.7H525.8V623.2H531.7V625.1H537.6V624.9H543.5V627.6H549.4V627.4H555.3V629.3H561.2V625.9H567.1V629.3H573.0V629.1H578.9V629.9H584.8V629.8H590.7V630.2H596.6V630.3H602.6V631.6H608.5V631.4H614.4V631.0H620.3V630.2H626.2V631.1H632.1V630.6H638.0V632.2H643.9V632.0H649.8V631.7H655.7V632.2H661.6V631.7H667.5V631.4" stroke="#d53e4f"/><path d="M83.0,632.4H88.9V632.3H94.8V632.3H100.7V632.3H106.6V632.3H112.5V632.2H118.4V632.3H124.3V632.3H130.2V632.1H136.1V632.1H142.0V631.9H147.9V632.0H153.8V632.3H159.8V631.9H165.7V632.0H171.6V631.3H177.5V631.7H183.4V632.2H189.3V631.3H195.2V631.2H201.1V631.4H207.0V632.2H212.9V631.4H218.8V630.8H224.7V631.6H230.6V631.4H236.5V631.3H242.4V629.7H248.3V630.3H254.2V630.7H260.1V629.8H266.0V630.4H271.9V630.6H277.8V630.1H283.7V628.8H289.6V630.2H295.5V628.3H301.4V626.1H307.4V626.8H313.3V627.5H319.2V627.6H325.1V621.4H331.0V623.1H336.9V625.9H342.8V626.3H348.7V620.7H354.6V623.4H360.5V620.8H366.4V617.4H372.3V604.9H378.2V602.5H384.1V605.7H390.0V592.1H395.9V600.5H401.8V594.1H407.7V598.4H413.6V608.1H419.5V578.5H425.4V577.7H431.3V598.6H437.2V597.3H443.1V612.5H449.0V604.6H455.0V619.3H460.9V605.9H466.8V595.2H472.7V604.0H478.6V612.4H484.5V606.3H490.4V612.3H496.3V612.5H502.2V623.2H508.1V617.5H514.0V621.3H519.9V623.7H525.8V625.0H531.7V619.6H537.6V624.9H543.5V623.5H549.4V626.5H555.3V623.5H561.2V626.6H567.1V627.0H573.0V630.2H578.9V627.7H584.8V630.0H590.7V630.7H596.6V629.7H602.6V630.9H608.5V628.7H614.4V631.2H620.3V632.1H626.2V631.5H632.1V631.4H638.0V631.7H643.9V631.0H649.8V630.8H655.7V631.6H661.6V631.7H667.5V632.1" stroke="#f46d43"/><path d="M83.0,632.3H88.9V632.2H94.8V632.2H100.7V632.1H106.6V632.2H112.5V632.1H118.4V632.1H124.3V632.3H130.2V632.1H136.1V632.0H142.0V632.3H147.9V632.0H153.8V632.0H159.8V631.8H165.7V631.9H171.6V632.0H177.5V631.8H183.4V632.2H189.3V631.6H195.2V632.0H201.1V631.5H207.0V630.4H212.9V631.8H218.8V631.5H224.7V631.4H230.6V631.0H236.5V630.1H242.4V629.5H248.3V630.2H254.2V629.7H260.1V630.0H266.0V629.6H271.9V628.8H277.8V627.6H283.7V629.3H289.6V624.8H295.5V628.3H301.4V629.0H307.4V627.9H313.3V626.0H319.2V628.7H325.1V624.6H331.0V623.3H336.9V620.8H342.8V620.0H348.7V620.3H354.6V612.0H360.5V610.5H366.4V596.7H372.3V617.8H378.2V611.8H384.1V601.1H390.0V617.5H395.9V599.3H401.8V596.5H407.7V577.5H413.6V569.5H419.5V587.9H425.4V584.7H431.3V593.0H437.2V623.2H443.1V607.5H449.0V587.4H455.0V594.1H460.9V608.6H466.8V609.5H472.7V618.9H478.6V609.1H484.5V612.9H490.4V617.4H496.3V613.8H502.2V612.2H508.1V620.4H514.0V623.5H519.9V621.7H525.8V619.7H531.7V629.0H537.6V615.6H543.5V624.8H549.4V629.0H555.3V625.8H561.2V627.3H567.1V625.0H573.0V628.9H578.9V628.8H584.8V626.1H590.7V627.8H596.6V630.4H602.6V631.2H608.5V631.0H614.4V629.9H620.3V631.5H626.2V631.1H632.1V631.3H638.0V630.5H643.9V632.0H649.8V632.1H655.7V632.0H661.6V631.8H667.5V631.6" stroke="#66c2a5"/><path d="M83.0,632.2H88.9V632.2H94.8V632.2H100.7V632.3H106.6V632.4H112.5V632.4H118.4V632.3H124.3V632.3H130.2V632.1H136.1V632.1H142.0V631.9H147.9V632.1H153.8V631.7H159.8V631.9H165.7V632.3H171.6V631.5H177.5V632.2H183.4V631.5H189.3V631.2H195.2V632.1H201.1V632.2H207.0V630.8H212.9V631.1H218.8V630.8H224.7V631.3H230.6V629.4H236.5V631.3H242.4V629.4H248.3V628.0H254.2V631.4H260.1V629.1H266.0V629.5H271.9V630.4H277.8V629.0H283.7V625.9H289.6V629.8H295.5V628.1H301.4V630.9H307.4V627.7H313.3V624.4H319.2V628.8H325.1V623.9H331.0V627.1H336.9V620.5H342.8V619.3H348.7V613.2H354.6V614.8H360.5V619.2H366.4V599.1H372.3V606.3H378.2V597.7H384.1V605.1H390.0V593.3H395.9V594.3H401.8V600.3H407.7V566.1H413.6V579.3H419.5V565.8H425.4V589.4H431.3V585.2H437.2V616.2H443.1V600.0H449.0V623.4H455.0V626.5H460.9V596.7H466.8V611.4H472.7V608.8H478.6V616.6H484.5V606.6H490.4V621.9H496.3V609.8H502.2V619.8H508.1V619.9H514.0V618.2H519.9V624.6H525.8V620.5H531.7V623.4H537.6V625.8H543.5V627.8H549.4V626.9H555.3V628.0H561.2V626.6H567.1V626.2H573.0V628.4H578.9V630.1H584.8V629.8H590.7V628.8H596.6V631.1H602.6V628.7H608.5V630.4H614.4V629.9H620.3V631.4H626.2V631.4H632.1V632.0H638.0V631.7H643.9V630.8H649.8V630.9H655.7V630.9H661.6V632.0H667.5V631.8" stroke="#f46d43"/><path d="M83.0,632.3H88.9V632.3H94.8V632.3H100.7V632.3H106.6V632.2H112.5V632.1H118.4V632.3H124.3V632.3H130.2V632.4H136.1V631.9H142.0V632.2H147.9V632.2H153.8V632.3H159.8V631.7H165.7V632.3H171.6V631.6H177.5V632.0H183.4V632.3H189.3V631.6H195.2V631.4H201.1V631.6H207.0V631.0H212.9V632.2H218.8V632.2H224.7V630.5H230.6V630.6H236.5V630.1H242.4V630.3H248.3V629.0H254.2V630.0H260.1V630.5H266.0V630.0H271.9V629.8H277.8V631.2H283.7V631.2H289.6V627.2H295.5V627.8H301.4V626.8H307.4V627.6H313.3V626.2H319.2V626.3H325.1V625.2H331.0V626.6H336.9V626.3H342.8V626.6H348.7V627.7H354.6V618.2H360.5V612.4H366.4V616.5H372.3V614.8H378.2V602.2H384.1V601.8H390.0V605.9H395.9V596.2H401.8V607.2H407.7V604.4H413.6V611.9H419.5V587.7H425.4V591.9H431.3V599.3H437.2V602.2H443.1V595.8H449.0V598.6H455.0V617.1H460.9V599.2H466.8V604.4H472.7V607.0H478.6V607.9H484.5V606.7H490.4V621.3H496.3V625.3H502.2V616.2H508.1V627.0H514.0V623.1H519.9V628.2H525.8V629.3H531.7V622.9H537.6V624.2H543.5V622.5H549.4V629.1H555.3V627.2H561.2V629.6H567.1V629.2H573.0V629.5H578.9V629.7H584.8V629.4H590.7V630.2H596.6V631.6H602.6V631.7H608.5V631.0H614.4V630.7H620.3V631.5H626.2V630.4H632.1V632.2H638.0V632.2H643.9V631.7H649.8V631.3H655.7V631.8H661.6V632.0H667.5V632.3" stroke="#f46d43"/><path d="M83.0,632.3H88.9V632.2H94.8V632.3H100.7V632.3H106.6V632.2H112.5V632.2H118.4V632.2H124.3V632.2H130.2V632.3H136.1V632.2H142.0V632.3H147.9V632.0H153.8V632.1H159.8V631.8H165.7V631.7H171.6V631.4H177.5V631.6H183.4V631.8H189.3V631.4H195.2V631.6H201.1V631.4H207.0V631.8H212.9V631.2H218.8V630.9H224.7V630.8H230.6V630.4H236.5V629.7H242.4V631.3H248.3V630.7H254.2V629.7H260.1V630.0H266.0V630.7H271.9V630.6H277.8V629.4H283.7V629.4H289.6V625.9H295.5V628.5H301.4V625.5H307.4V629.2H313.3V626.9H319.2V627.4H325.1V627.7H331.0V624.8H336.9V624.5H342.8V628.2H348.7V624.3H354.6V619.2H360.5V609.4H366.4V613.9H372.3V612.1H378.2V608.0H384.1V606.1H390.0V600.0H395.9V571.5H401.8V612.5H407.7V603.3H413.6V580.9H419.5V611.2H425.4V603.3H431.3V595.2H437.2V586.9H443.1V597.3H449.0V609.9H455.0V615.0H460.9V594.0H466.8V608.8H472.7V609.9H478.6V620.1H484.5V615.0H490.4V609.7H496.3V617.5H502.2V621.5H508.1V625.1H514.0V618.3H519.9V618.2H525.8V627.0H531.7V622.2H537.6V625.7H543.5V621.7H549.4V622.1H555.3V626.7H561.2V624.0H567.1V628.8H573.0V627.2H578.9V631.5H584.8V628.7H590.7V630.6H596.6V628.5H602.6V632.0H608.5V632.0H614.4V631.5H620.3V629.1H626.2V631.3H632.1V630.8H638.0V631.1H643.9V631.6H649.8V631.9H655.7V630.9H661.6V632.0H667.5V631.1" stroke="#ffffbf"/><path d="M83.0,632.3H88.9V632.3H94.8V632.3H100.7V632.3H106.6V632.2H112.5V632.2H118.4V632.2H124.3V632.3H130.2V632.2H136.1V632.3H142.0V632.2H147.9V632.1H153.8V631.8H159.8V631.9H165.7V631.8H171.6V631.8H177.5V632.0H183.4V631.2H189.3V631.5H195.2V631.4H201.1V631.0H207.0V631.0H212.9V631.5H218.8V630.3H224.7V631.1H230.6V630.3H236.5V629.5H242.4V631.1H248.3V630.1H254.2V629.1H260.1V628.0H266.0V629.6H271.9V629.6H277.8V629.7H283.7V628.8H289.6V629.5H295.5V626.9H301.4V629.3H307.4V629.3H313.3V627.8H319.2V629.3H325.1V627.7H331.0V630.5H336.9V625.2H342.8V625.5H348.7V618.0H354.6V612.6H360.5V609.9H366.4V621.6H372.3V614.5H378.2V611.7H384.1V619.5H390.0V606.0H395.9V594.8H401.8V586.7H407.7V620.4H413.6V608.8H419.5V600.3H425.4V590.4H431.3V611.2H437.2V595.9H443.1V617.6H449.0V604.0H455.0V608.7H460.9V605.4H466.8V614.3H472.7V604.9H478.6V613.8H484.5V611.3H490.4V615.8H496.3V609.5H502.2V611.2H508.1V614.3H514.0V619.0H519.9V624.7H525.8V626.2H531.7V624.3H537.6V623.7H543.5V624.8H549.4V623.5H555.3V628.1H561.2V629.0H567.1V629.5H573.0V628.6H578.9V628.8H584.8V631.8H590.7V630.3H596.6V630.4H602.6V630.2H608.5V629.3H614.4V631.0H620.3V629.7H626.2V630.5H632.1V631.3H638.0V630.4H643.9V631.7H649.8V631.6H655.7V631.5H661.6V631.3H667.5V631.8" stroke="#d53e4f"/><path d="M83.0,632.3H88.9V632.3H94.8V632.3H100.7V632.2H106.6V632.1H112.5V632.1H118.4V632.2H124.3V632.3H130.2V632.4H136.1V632.2H142.0V632.1H147.9V631.7H153.8V631.9H159.8V631.8H165.7V631.6H171.6V631.8H177.5V631.2H183.4V632.2H189.3V631.1H195.2V632.1H201.1V631.5H207.0V631.8H212.9V630.5H218.8V631.2H224.7V631.3H230.6V630.6H236.5V630.2H242.4V629.2H248.3V629.6H254.2V631.9H260.1V629.0H266.0V631.1H271.9V628.4H277.8V628.9H283.7V628.8H289.6V628.0H295.5V627.6H301.4V629.8H307.4V626.7H313.3V625.9H319.2V629.8H325.1V624.4H331.0V622.3H336.9V625.5H342.8V618.0H348.7V611.7H354.6V625.7H360.5V616.0H366.4V624.0H372.3V616.2H378.2V607.4H384.1V602.4H390.0V595.4H395.9V596.8H401.8V591.4H407.7V586.4H413.6V592.2H419.5V573.8H425.4V603.3H431.3V581.1H437.2V590.2H443.1V602.3H449.0V594.2H455.0V605.6H460.9V597.8H466.8V594.7H472.7V617.7H478.6V605.6H484.5V606.2H490.4V603.4H496.3V614.0H502.2V619.2H508.1V618.2H514.0V622.7H519.9V626.0H525.8V624.6H531.7V624.4H537.6V621.7H543.5V631.1H549.4V624.0H555.3V626.5H561.2V625.2H567.1V626.6H573.0V629.0H578.9V630.9H584.8V630.3H590.7V629.6H596.6V629.1H602.6V630.8H608.5V631.3H614.4V631.4H620.3V629.0H626.2V630.3H632.1V631.3H638.0V630.6H643.9V631.7H649.8V631.8H655.7V631.8H661.6V632.2H667.5V632.1" stroke="#9e0142"/><path d="M83.0,632.2H88.9V632.3H94.8V632.3H100.7V632.2H106.6V632.1H112.5V632.1H118.4V632.1H124.3V631.9H130.2V632.0H136.1V632.1H142.0V632.1H147.9V632.3H153.8V631.9H159.8V631.7H165.7V632.0H171.6V631.9H177.5V631.3H183.4V631.6H189.3V632.0H195.2V631.5H201.1V631.8H207.0V631.5H212.9V630.4H218.8V630.4H224.7V631.9H230.6V630.7H236.5V629.2H242.4V630.0H248.3V628.5H254.2V631.8H260.1V628.7H266.0V629.0H271.9V626.9H277.8V627.9H283.7V628.1H289.6V625.3H295.5V628.3H301.4V627.2H307.4V626.0H313.3V627.1H319.2V624.9H325.1V625.1H331.0V620.7H336.9V624.4H342.8V618.3H348.7V621.1H354.6V603.8H360.5V603.2H366.4V624.8H372.3V604.4H378.2V589.7H384.1V586.1H390.0V598.4H395.9V598.0H401.8V616.6H407.7V588.1H413.6V578.2H419.5V580.2H425.4V580.5H431.3V584.0H437.2V588.6H443.1V595.7H449.0V598.9H455.0V601.0H460.9V620.9H466.8V590.7H472.7V605.7H478.6V601.3H484.5V608.4H490.4V612.7H496.3V615.7H502.2V617.5H508.1V614.6H514.0V624.5H519.9V623.6H525.8V622.9H531.7V618.2H537.6V625.7H543.5V626.6H549.4V624.8H555.3V623.8H561.2V626.1H567.1V624.1H573.0V628.9H578.9V629.3H584.8V628.5H590.7V628.1H596.6V629.2H602.6V629.7H608.5V629.3H614.4V630.3H620.3V631.8H626.2V631.7H632.1V630.9H638.0V631.3H643.9V630.7H649.8V631.6H655.7V631.2H661.6V631.9H667.5V631.6" stroke="#e6f598"/><path d="M83.0,632.3H88.9V632.2H94.8V632.3H100.7V632.1H106.6V632.1H112.5V632.4H118.4V632.3H124.3V632.3H130.2V632.3H136.1V632.3H142.0V632.3H147.9V631.8H153.8V632.0H159.8V631.7H165.7V631.6H171.6V631.6H177.5V631.5H183.4V631.8H189.3V631.6H195.2V632.0H201.1V631.3H207.0V630.5H212.9V630.5H218.8V630.3H224.7V630.2H230.6V630.9H236.5V630.7H242.4V628.9H248.3V628.7H254.2V630.6H260.1V630.0H266.0V626.9H271.9V628.3H277.8V631.0H283.7V628.0H289.6V628.9H295.5V627.2H301.4V629.3H307.4V628.0H313.3V627.3H319.2V626.4H325.1V630.9H331.0V624.8H336.9V620.9H342.8V627.3H348.7V621.4H354.6V608.1H360.5V608.9H366.4V607.8H372.3V585.3H378.2V602.5H384.1V595.6H390.0V593.3H395.9V597.2H401.8V598.3H407.7V578.9H413.6V596.8H419.5V595.2H425.4V595.2H431.3V574.7H437.2V592.2H443.1V601.4H449.0V605.4H455.0V599.0H460.9V618.2H466.8V595.7H472.7V606.4H478.6V601.4H484.5V614.5H490.4V618.9H496.3V618.6H502.2V616.2H508.1V614.6H514.0V622.2H519.9V621.6H525.8V624.1H531.7V627.7H537.6V625.4H543.5V622.2H549.4V624.0H555.3V630.6H561.2V625.6H567.1V630.3H573.0V626.3H578.9V627.3H584.8V629.9H590.7V631.8H596.6V629.8H602.6V628.6H608.5V631.3H614.4V632.0H620.3V630.2H626.2V630.5H632.1V631.3H638.0V631.2H643.9V631.4H649.8V631.9H655.7V631.6H661.6V631.5H667.5V631.7" stroke="#fee08b"/><path d="M83.0,632.4H88.9V632.3H94.8V632.2H100.7V632.2H106.6V632.1H112.5V632.1H118.4V632.2H124.3V632.3H130.2V632.3H136.1V632.1H142.0V632.0H147.9V631.8H153.8V631.8H159.8V632.0H165.7V631.5H171.6V631.8H177.5V631.7H183.4V632.2H189.3V631.6H195.2V631.3H201.1V630.7H207.0V631.3H212.9V631.4H218.8V630.2H224.7V631.4H230.6V630.9H236.5V631.1H242.4V630.8H248.3V629.0H254.2V630.9H260.1V628.8H266.0V630.1H271.9V629.0H277.8V627.4H283.7V628.4H289.6V629.6H295.5V627.6H301.4V629.9H307.4V624.8H313.3V629.5H319.2V626.3H325.1V627.9H331.0V622.3H336.9V627.7H342.8V618.3H348.7V614.1H354.6V617.1H360.5V619.4H366.4V618.6H372.3V610.7H378.2V614.9H384.1V598.8H390.0V611.7H395.9V613.8H401.8V616.6H407.7V601.7H413.6V590.0H419.5V609.2H425.4V583.1H431.3V581.4H437.2V577.2H443.1V602.0H449.0V603.3H455.0V608.9H460.9V598.3H466.8V627.3H472.7V607.4H478.6V615.3H484.5V616.0H490.4V619.3H496.3V613.4H502.2V620.9H508.1V611.2H514.0V622.1H519.9V624.8H525.8V621.3H531.7V630.0H537.6V617.8H543.5V622.1H549.4V630.2H555.3V629.0H561.2V625.4H567.1V628.2H573.0V627.7H578.9V627.5H584.8V631.4H590.7V629.2H596.6V631.5H602.6V630.8H608.5V630.7H614.4V629.8H620.3V631.4H626.2V631.4H632.1V631.7H638.0V630.9H643.9V631.5H649.8V631.6H655.7V631.3H661.6V631.7H667.5V631.5" stroke="#d53e4f"/><path d="M83.0,632.3H88.9V632.3H94.8V632.4H100.7V632.2H106.6V632.1H112.5V632.2H118.4V632.0H124.3V632.2H130.2V632.2H136.1V632.0H142.0V632.2H147.9V631.7H153.8V631.9H159.8V632.2H165.7V631.7H171.6V631.7H177.5V632.1H183.4V631.5H189.3V631.2H195.2V631.7H201.1V631.9H207.0V630.0H212.9V631.0H218.8V631.4H224.7V630.0H230.6V631.7H236.5V629.4H242.4V631.7H248.3V628.4H254.2V628.6H260.1V629.2H266.0V627.4H271.9V629.6H277.8V627.5H283.7V628.1H289.6V628.4H295.5V628.9H301.4V627.7H307.4V630.0H313.3V628.2H319.2V628.9H325.1V629.0H331.0V622.8H336.9V616.3H342.8V618.7H348.7V622.1H354.6V618.3H360.5V619.0H366.4V606.6H372.3V613.8H378.2V595.9H384.1V605.8H390.0V583.5H395.9V577.3H401.8V604.7H407.7V578.2H413.6V584.1H419.5V586.9H425.4V591.1H431.3V594.9H437.2V594.4H443.1V593.6H449.0V608.3H455.0V598.9H460.9V625.5H466.8V604.5H472.7V606.0H478.6V615.4H484.5V616.6H490.4V611.5H496.3V619.9H502.2V613.0H508.1V615.0H514.0V625.1H519.9V617.8H525.8V624.9H531.7V625.0H537.6V620.0H543.5V625.1H549.4V625.9H555.3V628.2H561.2V626.2H567.1V628.1H573.0V629.0H578.9V629.4H584.8V628.9H590.7V629.8H596.6V627.9H602.6V631.2H608.5V631.6H614.4V631.6H620.3V631.3H626.2V631.3H632.1V630.9H638.0V631.9H643.9V630.6H649.8V631.7H655.7V631.2H661.6V631.1H667.5V631.4" stroke="#d53e4f"/><path d="M83.0,632.3H88.9V632.4H94.8V632.4H100.7V632.3H106.6V632.3H112.5V632.3H118.4V632.1H124.3V632.4H130.2V632.2H136.1V632.2H142.0V632.0H147.9V632.1H153.8V632.3H159.8V632.1H165.7V631.7H171.6V631.4H177.5V632.2H183.4V631.7H189.3V631.3H195.2V631.2H201.1V632.2H207.0V631.5H212.9V631.0H218.8V630.9H224.7V630.6H230.6V630.1H236.5V630.6H242.4V630.9H248.3V629.0H254.2V629.6H260.1V631.9H266.0V627.3H271.9V630.6H277.8V629.6H283.7V630.9H289.6V630.3H295.5V626.8H301.4V631.5H307.4V630.7H313.3V625.4H319.2V621.6H325.1V627.5H331.0V622.5H336.9V623.7H342.8V619.6H348.7V620.4H354.6V618.7H360.5V615.3H366.4V607.5H372.3V605.4H378.2V604.7H384.1V605.5H390.0V604.3H395.9V594.8H401.8V573.9H407.7V596.1H413.6V595.0H419.5V605.1H425.4V602.3H431.3V579.1H437.2V595.2H443.1V592.1H449.0V596.5H455.0V612.4H460.9V607.4H466.8V604.2H472.7V601.7H478.6V619.6H484.5V616.4H490.4V614.2H496.3V608.1H502.2V614.9H508.1V610.7H514.0V621.4H519.9V620.0H525.8V624.3H531.7V623.6H537.6V629.3H543.5V629.1H549.4V626.5H555.3V629.1H561.2V628.2H567.1V628.1H573.0V629.4H578.9V630.8H584.8V629.2H590.7V628.9H596.6V629.7H602.6V630.6H608.5V630.8H614.4V630.2H620.3V631.3H626.2V630.9H632.1V632.1H638.0V631.4H643.9V631.8H649.8V630.9H655.7V631.4H661.6V631.6H667.5V631.4" stroke="#3288bd"/><path d="M83.0,632.3H88.9V632.3H94.8V632.1H100.7V632.2H106.6V632.1H112.5V632.2H118.4V632.1H124.3V632.1H130.2V632.0H136.1V632.1H142.0V632.2H147.9V631.9H153.8V631.7H159.8V631.8H165.7V632.3H171.6V631.5H177.5V631.8H183.4V631.3H189.3V631.4H195.2V631.3H201.1V631.2H207.0V631.0H212.9V630.1H218.8V631.1H224.7V630.7H230.6V630.6H236.5V629.3H242.4V630.5H248.3V631.2H254.2V629.6H260.1V628.7H266.0V628.3H271.9V627.9H277.8V627.1H283.7V630.9H289.6V626.6H295.5V629.0H301.4V628.0H307.4V630.3H313.3V627.7H319.2V622.9H325.1V621.8H331.0V623.9H336.9V622.9H342.8V620.7H348.7V620.4H354.6V609.8H360.5V623.2H366.4V626.2H372.3V601.7H378.2V602.1H384.1V592.3H390.0V597.7H395.9V592.6H401.8V558.5H407.7V601.8H413.6V608.5H419.5V585.7H425.4V585.9H431.3V613.7H437.2V590.4H443.1V586.6H449.0V587.5H455.0V603.4H460.9V595.1H466.8V604.8H472.7V594.8H478.6V615.8H484.5V614.5H490.4V611.7H496.3V614.8H502.2V612.5H508.1V619.6H514.0V613.6H519.9V623.0H525.8V622.9H531.7V617.1H537.6V621.6H543.5V624.4H549.4V626.2H555.3V627.5H561.2V625.7H567.1V625.4H573.0V629.1H578.9V629.8H584.8V628.5H590.7V628.2H596.6V628.3H602.6V629.7H608.5V629.6H614.4V628.6H620.3V632.0H626.2V630.4H632.1V630.5H638.0V631.3H643.9V631.2H649.8V632.1H655.7V631.1H661.6V631.7H667.5V631.3" stroke="#fee08b"/><path d="M83.0,632.3H88.9V632.2H94.8V632.3H100.7V632.3H106.6V632.3H112.5V632.4H118.4V632.3H124.3V632.2H130.2V632.4H136.1V631.9H142.0V632.3H147.9V632.0H153.8V631.8H159.8V631.9H165.7V632.0H171.6V631.7H177.5V631.8H183.4V631.1H189.3V630.9H195.2V631.5H201.1V631.7H207.0V630.9H212.9V631.9H218.8V630.5H224.7V630.4H230.6V631.9H236.5V631.4H242.4V631.5H248.3V631.7H254.2V629.4H260.1V630.1H266.0V630.2H271.9V630.9H277.8V629.6H283.7V628.3H289.6V629.0H295.5V626.5H301.4V626.2H307.4V629.9H313.3V628.7H319.2V626.4H325.1V625.4H331.0V627.2H336.9V624.3H342.8V617.1H348.7V618.8H354.6V618.5H360.5V615.7H366.4V617.8H372.3V617.9H378.2V609.0H384.1V596.9H390.0V617.6H395.9V595.6H401.8V595.7H407.7V602.6H413.6V611.9H419.5V591.0H425.4V589.6H431.3V601.1H437.2V597.4H443.1V601.6H449.0V591.9H455.0V598.8H460.9V611.7H466.8V604.5H472.7V609.4H478.6V616.0H484.5V613.8H490.4V620.8H496.3V620.1H502.2V615.8H508.1V624.1H514.0V627.3H519.9V623.0H525.8V620.6H531.7V622.7H537.6V624.1H543.5V625.4H549.4V624.3H555.3V630.2H561.2V629.6H567.1V629.3H573.0V630.0H578.9V629.4H584.8V630.1H590.7V630.4H596.6V629.9H602.6V631.3H608.5V630.6H614.4V630.5H620.3V630.3H626.2V630.9H632.1V632.2H638.0V631.6H643.9V631.3H649.8V631.5H655.7V631.5H661.6V631.8H667.5V631.5" stroke="#fee08b"/><path d="M83.0,632.3H88.9V632.3H94.8V632.4H100.7V632.2H106.6V632.3H112.5V632.3H118.4V632.2H124.3V632.3H130.2V632.2H136.1V632.1H142.0V632.1H147.9V631.8H153.8V632.0H159.8V632.0H165.7V631.3H171.6V631.6H177.5V631.6H183.4V632.1H189.3V631.4H195.2V631.9H201.1V631.7H207.0V631.6H212.9V632.0H218.8V632.0H224.7V630.6H230.6V630.4H236.5V630.5H242.4V629.6H248.3V629.7H254.2V630.8H260.1V631.4H266.0V627.6H271.9V629.5H277.8V629.5H283.7V626.6H289.6V629.8H295.5V629.1H301.4V628.0H307.4V629.2H313.3V627.2H319.2V623.2H325.1V624.8H331.0V628.3H336.9V626.5H342.8V622.1H348.7V627.4H354.6V620.7H360.5V615.8H366.4V609.8H372.3V606.5H378.2V594.4H384.1V597.7H390.0V598.6H395.9V609.9H401.8V587.6H407.7V583.5H413.6V594.8H419.5V586.9H425.4V596.2H431.3V609.2H437.2V593.1H443.1V609.6H449.0V591.3H455.0V601.3H460.9V610.5H466.8V596.4H472.7V606.6H478.6V609.7H484.5V614.7H490.4V619.1H496.3V612.7H502.2V621.8H508.1V622.1H514.0V615.8H519.9V618.1H525.8V625.9H531.7V622.4H537.6V628.5H543.5V625.0H549.4V627.4H555.3V627.0H561.2V626.8H567.1V630.6H573.0V626.1H578.9V629.6H584.8V629.3H590.7V630.5H596.6V629.2H602.6V629.8H608.5V628.6H614.4V629.6H620.3V630.2H626.2V631.2H632.1V630.5H638.0V631.4H643.9V631.6H649.8V632.2H655.7V630.9H661.6V631.2H667.5V631.9" stroke="#d53e4f"/><path d="M83.0,632.4H88.9V632.3H94.8V632.2H100.7V632.2H106.6V632.3H112.5V632.3H118.4V632.1H124.3V632.2H130.2V632.2H136.1V632.2H142.0V632.3H147.9V632.2H153.8V631.9H159.8V632.0H165.7V632.0H171.6V632.2H177.5V632.0H183.4V631.7H189.3V631.6H195.2V632.1H201.1V631.1H207.0V630.9H212.9V631.8H218.8V630.2H224.7V629.9H230.6V630.9H236.5V631.8H242.4V631.2H248.3V630.6H254.2V629.4H260.1V629.8H266.0V631.1H271.9V630.1H277.8V629.9H283.7V630.2H289.6V627.9H295.5V626.9H301.4V628.2H307.4V631.5H313.3V627.4H319.2V630.5H325.1V626.2H331.0V622.6H336.9V625.9H342.8V617.4H348.7V617.1H354.6V625.2H360.5V619.2H366.4V607.2H372.3V611.0H378.2V616.4H384.1V612.5H390.0V615.5H395.9V580.8H401.8V585.7H407.7V600.6H413.6V602.7H419.5V609.8H425.4V585.9H431.3V595.1H437.2V608.0H443.1V613.1H449.0V596.8H455.0V617.4H460.9V599.5H466.8V606.6H472.7V610.7H478.6V615.1H484.5V614.2H490.4V615.4H496.3V622.9H502.2V617.2H508.1V622.5H514.0V618.3H519.9V619.2H525.8V625.5H531.7V625.9H537.6V626.9H543.5V624.8H549.4V627.3H555.3V627.1H561.2V628.1H567.1V628.2H573.0V627.5H578.9V628.1H584.8V628.9H590.7V628.1H596.6V629.4H602.6V629.1H608.5V630.3H614.4V631.5H620.3V631.7H626.2V631.7H632.1V631.7H638.0V630.5H643.9V631.1H649.8V631.2H655.7V631.5H661.6V631.4H667.5V632.3" stroke="#fee08b"/><path d="M83.0,632.3H88.9V632.2H94.8V632.3H100.7V632.3H106.6V632.3H112.5V632.1H118.4V632.1H124.3V632.1H130.2V632.1H136.1V632.1H142.0V632.3H147.9V632.1H153.8V632.2H159.8V631.9H165.7V632.0H171.6V632.0H177.5V631.7H183.4V632.3H189.3V632.2H195.2V630.5H201.1V631.2H207.0V630.9H212.9V630.1H218.8V631.9H224.7V631.0H230.6V630.2H236.5V629.3H242.4V630.3H248.3V628.5H254.2V628.8H260.1V629.5H266.0V629.2H271.9V630.7H277.8V630.1H283.7V629.6H289.6V629.1H295.5V628.4H301.4V629.1H307.4V631.4H313.3V627.3H319.2V626.9H325.1V629.1H331.0V625.1H336.9V622.0H342.8V619.8H348.7V623.5H354.6V618.0H360.5V615.5H366.4V610.1H372.3V614.4H378.2V600.2H384.1V609.6H390.0V609.0H395.9V580.1H401.8V608.4H407.7V583.9H413.6V600.6H419.5V581.5H425.4V614.2H431.3V592.0H437.2V591.1H443.1V605.2H449.0V599.7H455.0V606.3H460.9V594.4H466.8V619.6H472.7V604.9H478.6V627.1H484.5V614.6H490.4V619.8H496.3V603.5H502.2V622.2H508.1V621.6H514.0V627.2H519.9V618.6H525.8V624.9H531.7V626.7H537.6V626.1H543.5V624.7H549.4V628.1H555.3V627.0H561.2V624.8H567.1V630.1H573.0V628.6H578.9V629.7H584.8V629.4H590.7V630.3H596.6V631.6H602.6V628.4H608.5V630.2H614.4V630.6H620.3V631.1H626.2V630.2H632.1V631.1H638.0V631.1H643.9V631.5H649.8V630.9H655.7V631.5H661.6V631.6H667.5V631.4" stroke="#9e0142"/><path d="M83.0,632.3H88.9V632.2H94.8V632.4H100.7V632.2H106.6V632.3H112.5V632.2H118.4V632.4H124.3V632.2H130.2V631.9H136.1V632.2H142.0V632.1H147.9V632.2H153.8V632.0H159.8V631.6H165.7V632.2H171.6V631.4H177.5V631.8H183.4V631.8H189.3V631.7H195.2V630.4H201.1V631.4H207.0V630.9H212.9V630.5H218.8V630.8H224.7V630.5H230.6V629.9H236.5V631.4H242.4V629.3H248.3V630.0H254.2V629.7H260.1V629.6H266.0V630.5H271.9V629.5H277.8V628.6H283.7V630.1H289.6V626.9H295.5V626.8H301.4V629.3H307.4V625.4H313.3V626.9H319.2V626.0H325.1V622.7H331.0V627.1H336.9V624.6H342.8V614.9H348.7V629.6H354.6V614.4H360.5V612.6H366.4V613.5H372.3V607.2H378.2V594.5H384.1V614.8H390.0V595.3H395.9V575.9H401.8V578.4H407.7V584.4H413.6V583.1H419.5V606.2H425.4V601.6H431.3V570.5H437.2V585.2H443.1V587.8H449.0V587.5H455.0V591.7H460.9V604.6H466.8V615.9H472.7V608.5H478.6V601.4H484.5V615.2H490.4V615.5H496.3V611.6H502.2V621.6H508.1V619.6H514.0V618.4H519.9V620.5H525.8V622.3H531.7V621.9H537.6V623.5H543.5V626.2H549.4V625.4H555.3V627.3H561.2V627.4H567.1V626.3H573.0V628.5H578.9V631.5H584.8V630.2H590.7V629.2H596.6V629.8H602.6V629.4H608.5V631.7H614.4V631.6H620.3V629.7H626.2V630.3H632.1V630.3H638.0V631.4H643.9V631.7H649.8V631.7H655.7V631.4H661.6V631.7H667.5V632.1" stroke="#5e4fa2"/><path d="M83.0,632.4H88.9V632.3H94.8V632.4H100.7V632.4H106.6V632.2H112.5V632.1H118.4V632.3H124.3V632.3H130.2V632.2H136.1V632.1H142.0V632.2H147.9V631.9H153.8V631.8H159.8V632.0H165.7V632.2H171.6V631.2H177.5V631.3H183.4V631.7H189.3V631.5H195.2V631.5H201.1V631.1H207.0V630.1H212.9V631.1H218.8V630.1H224.7V631.0H230.6V630.4H236.5V631.4H242.4V628.9H248.3V627.8H254.2V629.4H260.1V627.5H266.0V628.5H271.9V625.3H277.8V627.9H283.7V626.3H289.6V628.7H295.5V627.3H301.4V629.2H307.4V623.9H313.3V623.9H319.2V621.8H325.1V624.9H331.0V623.5H336.9V622.3H342.8V621.1H348.7V611.1H354.6V610.9H360.5V603.6H366.4V610.2H372.3V610.1H378.2V591.3H384.1V595.1H390.0V619.3H395.9V610.2H401.8V597.6H407.7V612.1H413.6V600.9H419.5V587.1H425.4V589.9H431.3V568.9H437.2V600.5H443.1V604.8H449.0V590.8H455.0V605.7H460.9V602.9H466.8V613.1H472.7V605.3H478.6V605.8H484.5V615.9H490.4V621.3H496.3V612.8H502.2V615.4H508.1V618.1H514.0V615.3H519.9V626.5H525.8V625.3H531.7V619.6H537.6V625.5H543.5V627.4H549.4V629.0H555.3V626.4H561.2V625.4H567.1V626.5H573.0V627.4H578.9V629.8H584.8V629.0H590.7V628.4H596.6V630.1H602.6V630.7H608.5V630.0H614.4V630.0H620.3V630.0H626.2V631.4H632.1V631.2H638.0V630.8H643.9V629.9H649.8V632.2H655.7V630.3H661.6V631.8H667.5V631.3" stroke="#9e0142"/><path d="M83.0,632.3H88.9V632.3H94.8V632.2H100.7V632.3H106.6V632.4H112.5V632.2H118.4V632.3H124.3V632.0H130.2V632.3H136.1V632.2H142.0V632.1H147.9V632.1H153.8V632.2H159.8V631.4H165.7V632.0H171.6V631.7H177.5V632.0H183.4V631.5H189.3V631.4H195.2V632.2H201.1V631.3H207.0V631.6H212.9V631.4H218.8V631.2H224.7V630.2H230.6V630.1H236.5V629.6H242.4V630.4H248.3V629.7H254.2V629.6H260.1V628.3H266.0V629.7H271.9V628.2H277.8V628.3H283.7V628.8H289.6V628.1H295.5V625.6H301.4V624.6H307.4V627.1H313.3V626.9H319.2V624.3H325.1V629.2H331.0V623.1H336.9V627.2H342.8V624.1H348.7V620.3H354.6V610.3H360.5V604.2H366.4V605.9H372.3V615.7H378.2V603.9H384.1V607.2H390.0V602.7H395.9V595.0H401.8V577.3H407.7V598.5H413.6V596.0H419.5V585.2H425.4V579.1H431.3V583.4H437.2V587.8H443.1V616.3H449.0V595.0H455.0V593.6H460.9V618.3H466.8V603.4H472.7V611.2H478.6V608.4H484.5V613.1H490.4V613.0H496.3V621.5H502.2V619.0H508.1V610.5H514.0V622.8H519.9V624.0H525.8V624.1H531.7V620.6H537.6V624.1H543.5V624.7H549.4V626.6H555.3V625.6H561.2V628.2H567.1V628.6H573.0V628.6H578.9V627.1H584.8V630.2H590.7V631.5H596.6V630.8H602.6V630.6H608.5V628.9H614.4V630.2H620.3V631.3H626.2V631.7H632.1V630.7H638.0V632.2H643.9V632.0H649.8V632.2H655.7V631.9H661.6V631.4H667.5V631.8" stroke="#ffffbf"/><path d="M83.0,632.4H88.9V632.3H94.8V632.3H100.7V632.1H106.6V632.3H112.5V632.3H118.4V632.3H124.3V632.0H130.2V632.1H136.1V632.2H142.0V631.9H147.9V632.2H153.8V631.6H159.8V631.6H165.7V631.6H171.6V631.7H177.5V631.8H183.4V631.5H189.3V631.4H195.2V631.5H201.1V631.4H207.0V632.1H212.9V630.6H218.8V631.5H224.7V631.3H230.6V630.1H236.5V631.2H242.4V630.1H248.3V628.9H254.2V630.3H260.1V628.6H266.0V628.6H271.9V627.5H277.8V628.7H283.7V627.2H289.6V628.1H295.5V625.2H301.4V625.4H307.4V624.1H313.3V619.9H319.2V624.3H325.1V623.3H331.0V623.1H336.9V617.3H342.8V617.3H348.7V624.4H354.6V621.4H360.5V615.6H366.4V598.4H372.3V614.6H378.2V604.5H384.1V583.2H390.0V586.6H395.9V600.9H401.8V593.8H407.7V595.4H413.6V590.9H419.5V601.3H425.4V588.6H431.3V583.4H437.2V608.2H443.1V604.5H449.0V604.1H455.0V585.0H460.9V597.6H466.8V613.8H472.7V612.1H478.6V597.5H484.5V613.5H490.4V608.3H496.3V617.0H502.2V610.3H508.1V616.5H514.0V626.3H519.9V624.2H525.8V621.2H531.7V620.8H537.6V622.1H543.5V627.4H549.4V629.3H555.3V623.4H561.2V625.9H567.1V627.6H573.0V627.6H578.9V627.4H584.8V630.0H590.7V629.6H596.6V630.8H602.6V630.1H608.5V629.7H614.4V631.6H620.3V629.8H626.2V631.6H632.1V631.6H638.0V630.4H643.9V631.7H649.8V631.2H655.7V632.0H661.6V632.0H667.5V631.7" stroke="#fee08b"/><path d="M83.0,632.3H88.9V632.2H94.8V632.2H100.7V632.2H106.6V632.3H112.5V632.2H118.4V632.2H124.3V632.2H130.2V631.9H136.1V631.9H142.0V631.9H147.9V632.0H153.8V632.2H159.8V631.3H165.7V631.5H171.6V631.6H177.5V631.6H183.4V631.5H189.3V630.9H195.2V631.6H201.1V631.3H207.0V630.9H212.9V631.1H218.8V630.7H224.7V629.1H230.6V630.9H236.5V628.5H242.4V628.9H248.3V630.7H254.2V627.9H260.1V630.5H266.0V629.2H271.9V628.8H277.8V628.7H283.7V628.6H289.6V630.6H295.5V626.7H301.4V628.8H307.4V623.8H313.3V625.8H319.2V622.8H325.1V622.3H331.0V627.1H336.9V623.7H342.8V619.9H348.7V623.9H354.6V607.9H360.5V613.4H366.4V617.7H372.3V604.2H378.2V586.3H384.1V595.3H390.0V608.9H395.9V606.6H401.8V582.0H407.7V586.9H413.6V594.2H419.5V564.2H425.4V575.0H431.3V604.4H437.2V598.7H443.1V579.3H449.0V599.1H455.0V609.9H460.9V610.4H466.8V596.2H472.7V612.3H478.6V607.2H484.5V621.9H490.4V608.8H496.3V616.6H502.2V610.0H508.1V617.8H514.0V625.8H519.9V621.4H525.8V626.1H531.7V622.8H537.6V622.3H543.5V628.5H549.4V623.9H555.3V627.0H561.2V627.3H567.1V629.9H573.0V627.4H578.9V628.3H584.8V629.7H590.7V628.2H596.6V629.0H602.6V631.9H608.5V630.7H614.4V630.7H620.3V630.8H626.2V630.7H632.1V630.7H638.0V630.4H643.9V630.3H649.8V631.4H655.7V631.6H661.6V631.3H667.5V631.8" stroke="#fee08b"/><path d="M83.0,632.4H88.9V632.3H94.8V632.4H100.7V632.3H106.6V632.3H112.5V632.2H118.4V632.3H124.3V632.3H130.2V632.1H136.1V632.0H142.0V632.3H147.9V632.3H153.8V632.1H159.8V632.0H165.7V631.5H171.6V632.1H177.5V631.7H183.4V631.7H189.3V631.3H195.2V631.8H201.1V631.5H207.0V631.3H212.9V631.6H218.8V630.9H224.7V631.1H230.6V631.7H236.5V630.2H242.4V629.0H248.3V628.8H254.2V629.6H260.1V628.2H266.0V629.4H271.9V629.9H277.8V628.5H283.7V629.5H289.6V627.7H295.5V628.9H301.4V629.5H307.4V625.2H313.3V626.6H319.2V625.2H325.1V624.7H331.0V628.0H336.9V626.4H342.8V623.4H348.7V615.7H354.6V621.0H360.5V618.8H366.4V621.5H372.3V606.5H378.2V621.7H384.1V592.7H390.0V607.7H395.9V596.4H401.8V594.3H407.7V610.8H413.6V592.6H419.5V582.5H425.4V585.7H431.3V590.1H437.2V594.4H443.1V598.7H449.0V592.0H455.0V597.1H460.9V586.3H466.8V602.2H472.7V621.4H478.6V603.4H484.5V613.2H490.4V618.6H496.3V615.9H502.2V616.2H508.1V619.5H514.0V621.4H519.9V623.0H525.8V618.3H531.7V623.1H537.6V623.7H543.5V624.8H549.4V621.6H555.3V627.5H561.2V629.8H567.1V626.3H573.0V627.5H578.9V630.4H584.8V630.1H590.7V629.9H596.6V629.8H602.6V628.1H608.5V631.4H614.4V630.7H620.3V631.3H626.2V630.9H632.1V631.0H638.0V632.1H643.9V631.6H649.8V631.5H655.7V631.5H661.6V631.1H667.5V631.9" stroke="#9e0142"/><path d="M83.0,632.3H88.9V632.2H94.8V632.3H100.7V632.1H106.6V632.3H112.5V632.4H118.4V632.2H124.3V632.1H130.2V632.3H136.1V632.2H142.0V632.1H147.9V632.3H153.8V632.0H159.8V631.7H165.7V631.6H171.6V631.8H177.5V631.2H183.4V631.8H189.3V631.6H195.2V631.6H201.1V631.5H207.0V631.0H212.9V630.6H218.8V631.3H224.7V631.0H230.6V632.0H236.5V632.1H242.4V631.1H248.3V628.8H254.2V629.4H260.1V630.9H266.0V629.2H271.9V630.9H277.8V629.0H283.7V630.5H289.6V628.7H295.5V629.0H301.4V627.0H307.4V629.6H313.3V628.9H319.2V631.3H325.1V627.2H331.0V624.6H336.9V622.3H342.8V623.2H348.7V615.6H354.6V621.9H360.5V624.9H366.4V613.3H372.3V608.9H378.2V605.0H384.1V596.8H390.0V607.2H395.9V586.9H401.8V604.2H407.7V589.4H413.6V591.5H419.5V582.0H425.4V602.8H431.3V592.6H437.2V596.2H443.1V595.8H449.0V591.7H455.0V605.5H460.9V614.1H466.8V616.1H472.7V603.0H478.6V609.1H484.5V613.3H490.4V615.6H496.3V627.5H502.2V619.2H508.1V619.1H514.0V619.5H519.9V623.7H525.8V623.3H531.7V625.0H537.6V628.3H543.5V626.8H549.4V624.7H555.3V629.9H561.2V628.4H567.1V627.6H573.0V630.1H578.9V630.1H584.8V631.9H590.7V629.1H596.6V630.3H602.6V629.6H608.5V630.3H614.4V631.3H620.3V630.6H626.2V631.1H632.1V631.3H638.0V632.2H643.9V632.2H649.8V630.9H655.7V631.4H661.6V631.1H667.5V631.7" stroke="#d53e4f"/><path d="M83.0,632.3H88.9V632.4H94.8V632.3H100.7V632.1H106.6V632.3H112.5V632.4H118.4V632.1H124.3V632.3H130.2V632.2H136.1V632.0H142.0V632.0H147.9V632.3H153.8V632.3H159.8V632.1H165.7V631.8H171.6V632.3H177.5V631.8H183.4V630.9H189.3V631.3H195.2V630.7H201.1V631.1H207.0V631.7H212.9V631.7H218.8V632.0H224.7V631.3H230.6V630.7H236.5V631.1H242.4V630.5H248.3V630.4H254.2V630.5H260.1V630.3H266.0V629.4H271.9V629.1H277.8V631.7H283.7V630.0H289.6V627.8H295.5V628.5H301.4V631.5H307.4V629.5H313.3V626.8H319.2V625.8H325.1V622.8H331.0V624.5H336.9V622.0H342.8V624.3H348.7V619.8H354.6V623.4H360.5V617.8H366.4V613.8H372.3V607.1H378.2V606.3H384.1V599.8H390.0V607.1H395.9V599.5H401.8V603.0H407.7V601.9H413.6V596.7H419.5V600.4H425.4V595.3H431.3V602.5H437.2V604.9H443.1V617.8H449.0V593.6H455.0V597.8H460.9V597.7H466.8V608.9H472.7V605.2H478.6V609.8H484.5V606.1H490.4V607.1H496.3V615.2H502.2V617.2H508.1V626.1H514.0V621.4H519.9V617.6H525.8V628.5H531.7V625.4H537.6V628.5H543.5V623.7H549.4V624.0H555.3V628.4H561.2V626.6H567.1V628.3H573.0V629.3H578.9V629.0H584.8V629.7H590.7V628.7H596.6V629.2H602.6V631.2H608.5V628.7H614.4V630.8H620.3V632.1H626.2V631.8H632.1V630.7H638.0V631.8H643.9V631.3H649.8V631.7H655.7V631.6H661.6V632.0H667.5V631.8" stroke="#9e0142"/><path d="M83.0,632.3H88.9V632.2H94.8V632.2H100.7V632.2H106.6V632.3H112.5V632.2H118.4V632.1H124.3V632.2H130.2V632.1H136.1V632.3H142.0V632.1H147.9V632.2H153.8V632.3H159.8V632.3H165.7V631.8H171.6V632.1H177.5V631.7H183.4V631.9H189.3V631.9H195.2V631.5H201.1V631.3H207.0V631.8H212.9V630.9H218.8V631.1H224.7V631.2H230.6V630.5H236.5V631.5H242.4V630.4H248.3V629.1H254.2V630.9H260.1V630.6H266.0V628.6H271.9V627.7H277.8V627.1H283.7V629.4H289.6V628.8H295.5V625.9H301.4V628.4H307.4V629.4H313.3V626.8H319.2V626.1H325.1V624.2H331.0V627.2H336.9V625.8H342.8V622.4H348.7V628.8H354.6V624.2H360.5V608.5H366.4V607.4H372.3V602.0H378.2V614.3H384.1V607.2H390.0V603.3H395.9V611.1H401.8V586.5H407.7V605.6H413.6V593.7H419.5V596.1H425.4V596.9H431.3V602.6H437.2V600.9H443.1V606.3H449.0V598.1H455.0V594.7H460.9V615.6H466.8V603.8H472.7V606.3H478.6V609.4H484.5V605.9H490.4V621.1H496.3V619.1H502.2V617.6H508.1V619.6H514.0V622.5H519.9V622.7H525.8V623.0H531.7V622.9H537.6V627.4H543.5V621.5H549.4V626.3H555.3V626.8H561.2V630.8H567.1V627.2H573.0V626.0H578.9V628.4H584.8V629.5H590.7V630.3H596.6V630.8H602.6V629.4H608.5V629.5H614.4V629.5H620.3V630.9H626.2V631.5H632.1V630.9H638.0V631.5H643.9V632.2H649.8V631.3H655.7V631.4H661.6V631.4H667.5V632.3" stroke="#f46d43"/><path d="M83.0,632.3H88.9V632.3H94.8V632.3H100.7V632.2H106.6V632.2H112.5V632.1H118.4V632.2H124.3V632.0H130.2V632.3H136.1V632.1H142.0V631.8H147.9V632.0H153.8V631.8H159.8V632.1H165.7V631.9H171.6V631.7H177.5V631.2H183.4V632.2H189.3V631.6H195.2V631.2H201.1V632.2H207.0V632.0H212.9V631.6H218.8V631.7H224.7V631.5H230.6V630.2H236.5V629.4H242.4V631.0H248.3V629.1H254.2V632.0H260.1V630.8H266.0V629.9H271.9V629.6H277.8V629.5H283.7V628.5H289.6V629.5H295.5V629.5H301.4V629.2H307.4V629.8H313.3V628.6H319.2V627.4H325.1V627.3H331.0V624.4H336.9V626.9H342.8V620.5H348.7V619.9H354.6V616.7H360.5V617.9H366.4V614.0H372.3V621.7H378.2V597.5H384.1V606.7H390.0V602.5H395.9V611.7H401.8V577.1H407.7V579.3H413.6V604.5H419.5V581.1H425.4V581.2H431.3V590.5H437.2V590.6H443.1V591.7H449.0V593.9H455.0V607.9H460.9V607.4H466.8V607.3H472.7V617.6H478.6V613.0H484.5V617.1H490.4V619.6H496.3V619.9H502.2V617.1H508.1V623.2H514.0V617.3H519.9V622.1H525.8V618.6H531.7V620.7H537.6V627.8H543.5V627.8H549.4V630.1H555.3V630.1H561.2V626.7H567.1V628.1H573.0V629.1H578.9V629.1H584.8V631.2H590.7V629.6H596.6V630.9H602.6V628.3H608.5V631.2H614.4V631.0H620.3V629.6H626.2V631.2H632.1V630.9H638.0V632.1H643.9V631.9H649.8V631.1H655.7V631.3H661.6V632.3H667.5V631.8" stroke="#d53e4f"/><path d="M83.0,632.3H88.9V632.2H94.8V632.3H100.7V632.3H106.6V632.0H112.5V632.3H118.4V632.2H124.3V632.4H130.2V632.0H136.1V632.1H142.0V632.2H147.9V631.7H153.8V631.5H159.8V632.0H165.7V632.2H171.6V632.3H177.5V631.6H183.4V631.2H189.3V631.1H195.2V631.4H201.1V631.2H207.0V632.2H212.9V632.1H218.8V630.1H224.7V632.0H230.6V629.7H236.5V630.1H242.4V631.1H248.3V630.9H254.2V630.9H260.1V630.3H266.0V629.3H271.9V628.0H277.8V630.8H283.7V629.1H289.6V630.6H295.5V623.0H301.4V625.2H307.4V623.4H313.3V627.4H319.2V623.2H325.1V620.3H331.0V621.2H336.9V623.7H342.8V627.1H348.7V618.4H354.6V608.9H360.5V626.1H366.4V614.8H372.3V597.2H378.2V604.8H384.1V606.6H390.0V590.0H395.9V607.3H401.8V588.3H407.7V579.0H413.6V596.4H419.5V605.9H425.4V565.4H431.3V571.8H437.2V577.5H443.1V593.9H449.0V605.4H455.0V600.6H460.9V609.8H466.8V624.7H472.7V595.1H478.6V613.0H484.5V612.7H490.4V616.9H496.3V618.6H502.2V619.4H508.1V617.7H514.0V622.9H519.9V616.6H525.8V622.0H531.7V628.9H537.6V623.6H543.5V621.1H549.4V624.0H555.3V627.2H561.2V629.5H567.1V627.3H573.0V627.0H578.9V626.1H584.8V629.6H590.7V630.2H596.6V629.2H602.6V631.7H608.5V632.0H614.4V630.5H620.3V630.3H626.2V631.2H632.1V631.5H638.0V631.3H643.9V631.4H649.8V631.1H655.7V631.7H661.6V632.1H667.5V632.3" stroke="#d53e4f"/><path d="M83.0,632.4H88.9V632.4H94.8V632.2H100.7V632.1H106.6V632.2H112.5V632.3H118.4V632.1H124.3V632.4H130.2V632.1H136.1V632.3H142.0V632.1H147.9V632.2H153.8V632.1H159.8V631.9H165.7V631.7H171.6V631.9H177.5V631.9H183.4V632.0H189.3V631.6H195.2V631.6H201.1V631.5H207.0V631.8H212.9V631.4H218.8V631.6H224.7V630.8H230.6V630.9H236.5V631.3H242.4V630.4H248.3V631.3H254.2V630.4H260.1V629.6H266.0V629.5H271.9V629.4H277.8V628.4H283.7V629.0H289.6V629.9H295.5V626.8H301.4V629.9H307.4V628.2H313.3V627.9H319.2V629.7H325.1V629.5H331.0V624.0H336.9V628.4H342.8V618.6H348.7V618.7H354.6V622.9H360.5V612.7H366.4V621.7H372.3V608.3H378.2V608.9H384.1V611.6H390.0V602.8H395.9V588.8H401.8V598.6H407.7V569.5H413.6V584.1H419.5V587.0H425.4V615.7H431.3V599.6H437.2V588.3H443.1V604.5H449.0V593.1H455.0V611.3H460.9V604.4H466.8V614.1H472.7V615.7H478.6V607.3H484.5V608.5H490.4V620.1H496.3V616.9H502.2V612.7H508.1V624.3H514.0V618.9H519.9V621.0H525.8V623.3H531.7V625.4H537.6V625.0H543.5V625.0H549.4V626.4H555.3V629.4H561.2V628.5H567.1V628.2H573.0V627.1H578.9V628.0H584.8V627.7H590.7V630.4H596.6V627.7H602.6V631.5H608.5V629.6H614.4V631.4H620.3V630.5H626.2V631.1H632.1V629.9H638.0V631.5H643.9V630.8H649.8V631.6H655.7V631.5H661.6V631.6H667.5V631.7" stroke="#fdae61"/><path d="M83.0,632.3H88.9V632.4H94.8V632.2H100.7V632.3H106.6V632.3H112.5V632.2H118.4V632.1H124.3V632.3H130.2V631.9H136.1V632.0H142.0V632.3H147.9V631.7H153.8V631.6H159.8V632.0H165.7V632.1H171.6V631.7H177.5V631.7H183.4V632.3H189.3V631.7H195.2V631.9H201.1V630.5H207.0V630.7H212.9V631.3H218.8V631.5H224.7V631.1H230.6V629.7H236.5V630.6H242.4V630.7H248.3V628.4H254.2V629.7H260.1V629.9H266.0V627.7H271.9V629.6H277.8V628.7H283.7V627.8H289.6V630.7H295.5V628.2H301.4V625.7H307.4V628.4H313.3V628.7H319.2V629.9H325.1V626.4H331.0V628.3H336.9V624.2H342.8V622.0H348.7V625.9H354.6V617.5H360.5V617.2H366.4V610.8H372.3V602.3H378.2V603.4H384.1V598.6H390.0V610.5H395.9V600.3H401.8V595.1H407.7V582.1H413.6V596.6H419.5V597.8H425.4V585.1H431.3V607.4H437.2V599.1H443.1V594.9H449.0V597.9H455.0V607.6H460.9V621.0H466.8V603.8H472.7V621.7H478.6V607.3H484.5V621.3H490.4V623.5H496.3V615.1H502.2V620.9H508.1V625.7H514.0V623.2H519.9V619.2H525.8V623.7H531.7V626.7H537.6V618.4H543.5V623.1H549.4V628.9H555.3V627.9H561.2V627.7H567.1V630.4H573.0V627.6H578.9V630.1H584.8V630.9H590.7V630.5H596.6V629.6H602.6V630.1H608.5V631.5H614.4V630.2H620.3V629.9H626.2V631.5H632.1V631.2H638.0V630.9H643.9V631.5H649.8V631.7H655.7V631.8H661.6V631.7H667.5V632.3" stroke="#f46d43"/><path d="M83.0,632.3H88.9V632.3H94.8V632.2H100.7V632.4H106.6V632.3H112.5V632.0H118.4V632.2H124.3V631.9H130.2V632.1H136.1V632.2H142.0V632.2H147.9V631.9H153.8V631.9H159.8V631.4H165.7V631.2H171.6V631.8H177.5V632.2H183.4V631.7H189.3V631.4H195.2V631.8H201.1V631.0H207.0V631.4H212.9V630.6H218.8V630.7H224.7V630.5H230.6V630.0H236.5V629.5H242.4V629.4H248.3V627.7H254.2V631.9H260.1V629.6H266.0V629.5H271.9V627.7H277.8V631.6H283.7V627.9H289.6V625.8H295.5V629.2H301.4V627.5H307.4V627.2H313.3V625.6H319.2V622.9H325.1V626.8H331.0V622.7H336.9V622.6H342.8V620.2H348.7V616.6H354.6V618.2H360.5V617.9H366.4V605.9H372.3V606.6H378.2V621.1H384.1V618.6H390.0V590.3H395.9V597.0H401.8V587.8H407.7V578.2H413.6V569.8H419.5V568.5H425.4V571.7H431.3V584.0H437.2V588.6H443.1V608.8H449.0V605.7H455.0V598.7H460.9V597.2H466.8V603.4H472.7V601.6H478.6V612.3H484.5V603.2H490.4V612.5H496.3V615.7H502.2V611.1H508.1V624.9H514.0V617.9H519.9V621.9H525.8V620.5H531.7V624.5H537.6V625.0H543.5V625.4H549.4V624.1H555.3V625.2H561.2V627.4H567.1V630.5H573.0V627.4H578.9V629.8H584.8V629.6H590.7V629.5H596.6V629.4H602.6V630.4H608.5V629.6H614.4V630.0H620.3V631.4H626.2V631.4H632.1V630.6H638.0V631.3H643.9V631.5H649.8V632.2H655.7V632.1H661.6V631.8H667.5V631.7" stroke="#f46d43"/><path d="M83.0,632.3H88.9V632.3H94.8V632.2H100.7V632.4H106.6V632.3H112.5V632.1H118.4V632.0H124.3V632.1H130.2V631.9H136.1V632.2H142.0V632.0H147.9V631.6H153.8V632.0H159.8V632.2H165.7V632.1H171.6V632.2H177.5V631.6H183.4V631.3H189.3V631.6H195.2V631.2H201.1V631.2H207.0V631.0H212.9V630.7H218.8V630.9H224.7V630.6H230.6V630.9H236.5V629.6H242.4V629.9H248.3V630.9H254.2V628.5H260.1V628.5H266.0V629.0H271.9V628.7H277.8V628.6H283.7V628.0H289.6V627.2H295.5V623.9H301.4V623.9H307.4V623.5H313.3V627.6H319.2V627.6H325.1V626.3H331.0V624.3H336.9V625.4H342.8V623.2H348.7V623.5H354.6V624.6H360.5V620.1H366.4V610.7H372.3V620.3H378.2V613.2H384.1V603.4H390.0V609.2H395.9V584.1H401.8V583.6H407.7V572.7H413.6V608.4H419.5V596.1H425.4V611.3H431.3V599.5H437.2V609.0H443.1V583.2H449.0V619.5H455.0V590.6H460.9V622.5H466.8V623.5H472.7V610.6H478.6V610.5H484.5V613.6H490.4V621.0H496.3V615.8H502.2V613.0H508.1V616.4H514.0V623.6H519.9V627.1H525.8V621.9H531.7V625.0H537.6V620.2H543.5V624.2H549.4V623.1H555.3V626.7H561.2V628.0H567.1V626.0H573.0V628.4H578.9V626.1H584.8V629.6H590.7V630.9H596.6V629.3H602.6V629.8H608.5V631.9H614.4V631.9H620.3V632.0H626.2V629.2H632.1V631.7H638.0V631.0H643.9V631.4H649.8V631.6H655.7V630.9H661.6V631.5H667.5V631.4" stroke="#9e0142"/><path d="M83.0,632.3H88.9V632.4H94.8V632.3H100.7V632.2H106.6V632.4H112.5V632.1H118.4V632.2H124.3V632.3H130.2V632.3H136.1V632.2H142.0V632.3H147.9V632.0H153.8V631.8H159.8V632.1H165.7V631.8H171.6V632.3H177.5V631.8H183.4V631.6H189.3V630.9H195.2V631.1H201.1V631.1H207.0V631.2H212.9V631.0H218.8V631.6H224.7V630.9H230.6V630.9H236.5V631.2H242.4V629.4H248.3V630.5H254.2V629.8H260.1V629.1H266.0V631.1H271.9V630.0H277.8V630.2H283.7V629.6H289.6V626.4H295.5V628.4H301.4V630.2H307.4V627.3H313.3V627.8H319.2V626.8H325.1V627.1H331.0V625.8H336.9V626.6H342.8V622.4H348.7V627.0H354.6V611.2H360.5V619.1H366.4V611.8H372.3V607.9H378.2V614.6H384.1V593.8H390.0V596.9H395.9V586.0H401.8V607.1H407.7V589.0H413.6V607.7H419.5V575.7H425.4V605.0H431.3V607.0H437.2V606.7H443.1V624.5H449.0V602.0H455.0V605.8H460.9V603.8H466.8V602.8H472.7V607.8H478.6V606.6H484.5V618.4H490.4V609.1H496.3V614.1H502.2V620.9H508.1V616.8H514.0V620.9H519.9V623.4H525.8V624.5H531.7V623.8H537.6V621.6H543.5V624.8H549.4V624.0H555.3V626.8H561.2V629.9H567.1V626.1H573.0V628.4H578.9V629.5H584.8V630.3H590.7V630.0H596.6V629.0H602.6V631.5H608.5V629.3H614.4V630.6H620.3V630.4H626.2V631.8H632.1V630.6H638.0V632.2H643.9V631.6H649.8V631.4H655.7V631.6H661.6V631.8H667.5V631.9" stroke="#d53e4f"/><path d="M83.0,632.2H88.9V632.4H94.8V632.3H100.7V632.3H106.6V632.2H112.5V632.0H118.4V632.1H124.3V632.1H130.2V632.2H136.1V632.1H142.0V632.0H147.9V631.8H153.8V631.9H159.8V632.3H165.7V631.4H171.6V631.4H177.5V632.1H183.4V632.1H189.3V631.5H195.2V631.4H201.1V630.8H207.0V631.9H212.9V630.5H218.8V630.4H224.7V630.6H230.6V630.5H236.5V631.6H242.4V631.2H248.3V630.5H254.2V630.1H260.1V627.6H266.0V629.1H271.9V628.8H277.8V628.4H283.7V627.8H289.6V627.8H295.5V626.7H301.4V627.5H307.4V628.6H313.3V627.2H319.2V625.3H325.1V625.4H331.0V626.8H336.9V618.2H342.8V615.0H348.7V614.7H354.6V617.2H360.5V609.0H366.4V606.7H372.3V600.3H378.2V586.0H384.1V596.3H390.0V581.5H395.9V567.6H401.8V599.0H407.7V579.0H413.6V558.3H419.5V623.9H425.4V579.3H431.3V584.9H437.2V582.4H443.1V592.7H449.0V600.4H455.0V605.0H460.9V608.3H466.8V604.7H472.7V612.3H478.6V609.1H484.5V605.2H490.4V618.4H496.3V621.9H502.2V621.6H508.1V616.9H514.0V620.8H519.9V617.2H525.8V623.6H531.7V619.9H537.6V619.1H543.5V626.3H549.4V624.9H555.3V627.4H561.2V631.5H567.1V629.3H573.0V629.2H578.9V628.6H584.8V630.4H590.7V630.6H596.6V630.2H602.6V630.5H608.5V630.3H614.4V630.5H620.3V630.0H626.2V632.1H632.1V631.1H638.0V631.5H643.9V631.5H649.8V631.6H655.7V632.1H661.6V631.1H667.5V632.1" stroke="#d53e4f"/><path d="M83.0,632.3H88.9V632.2H94.8V632.3H100.7V632.3H106.6V632.1H112.5V632.2H118.4V632.3H124.3V632.1H130.2V632.1H136.1V632.2H142.0V632.2H147.9V632.1H153.8V632.2H159.8V631.7H165.7V631.8H171.6V631.6H177.5V631.6H183.4V631.8H189.3V632.1H195.2V631.6H201.1V631.2H207.0V631.7H212.9V632.2H218.8V631.2H224.7V630.5H230.6V631.4H236.5V630.1H242.4V630.2H248.3V629.5H254.2V629.7H260.1V629.5H266.0V629.6H271.9V626.5H277.8V629.4H283.7V628.3H289.6V628.3H295.5V628.1H301.4V630.7H307.4V627.0H313.3V628.8H319.2V628.7H325.1V624.2H331.0V628.0H336.9V621.6H342.8V623.8H348.7V621.3H354.6V620.8H360.5V615.7H366.4V619.9H372.3V618.2H378.2V604.2H384.1V600.8H390.0V606.0H395.9V599.7H401.8V589.6H407.7V591.8H413.6V597.0H419.5V612.5H425.4V600.7H431.3V622.9H437.2V600.9H443.1V605.4H449.0V608.3H455.0V604.3H460.9V624.3H466.8V612.0H472.7V599.7H478.6V596.4H484.5V616.0H490.4V628.6H496.3V617.0H502.2V621.6H508.1V626.4H514.0V621.3H519.9V621.1H525.8V625.1H531.7V624.9H537.6V622.3H543.5V628.6H549.4V630.6H555.3V629.7H561.2V630.0H567.1V627.8H573.0V631.6H578.9V629.2H584.8V628.4H590.7V628.7H596.6V629.4H602.6V631.8H608.5V630.4H614.4V631.6H620.3V631.3H626.2V630.9H632.1V631.4H638.0V631.7H643.9V631.8H649.8V630.7H655.7V631.9H661.6V632.3H667.5V631.9" stroke="#abdda4"/><path d="M83.0,632.3H88.9V632.4H94.8V632.4H100.7V632.3H106.6V632.2H112.5V632.3H118.4V632.2H124.3V632.1H130.2V632.0H136.1V632.1H142.0V632.2H147.9V632.0H153.8V631.9H159.8V631.8H165.7V631.7H171.6V631.4H177.5V631.3H183.4V631.1H189.3V631.2H195.2V631.0H201.1V632.0H207.0V631.0H212.9V631.2H218.8V631.4H224.7V630.4H230.6V631.8H236.5V631.7H242.4V628.8H248.3V629.5H254.2V630.0H260.1V629.9H266.0V630.7H271.9V629.0H277.8V626.2H283.7V629.6H289.6V630.2H295.5V628.0H301.4V628.8H307.4V628.3H313.3V628.0H319.2V628.7H325.1V622.0H331.0V620.3H336.9V622.5H342.8V620.1H348.7V625.5H354.6V624.6H360.5V621.3H366.4V615.7H372.3V605.5H378.2V601.5H384.1V586.0H390.0V593.0H395.9V602.7H401.8V580.7H407.7V589.0H413.6V606.7H419.5V592.6H425.4V599.8H431.3V567.9H437.2V572.2H443.1V592.4H449.0V595.0H455.0V593.3H460.9V607.4H466.8V598.6H472.7V613.3H478.6V608.2H484.5V618.0H490.4V618.0H496.3V618.4H502.2V614.8H508.1V616.5H514.0V620.4H519.9V616.6H525.8V626.4H531.7V620.0H537.6V627.4H543.5V624.9H549.4V624.2H555.3V629.1H561.2V627.0H567.1V626.9H573.0V628.3H578.9V631.5H584.8V628.1H590.7V628.2H596.6V630.5H602.6V631.1H608.5V631.0H614.4V632.0H620.3V632.1H626.2V630.0H632.1V631.1H638.0V630.6H643.9V631.9H649.8V631.5H655.7V631.4H661.6V632.0H667.5V632.0" stroke="#d53e4f"/><path d="M83.0,632.3H88.9V632.3H94.8V632.3H100.7V632.2H106.6V632.3H112.5V632.2H118.4V632.0H124.3V632.0H130.2V632.1H136.1V632.1H142.0V632.0H147.9V632.0H153.8V631.9H159.8V632.0H165.7V632.1H171.6V631.6H177.5V632.0H183.4V632.2H189.3V631.2H195.2V632.2H201.1V631.8H207.0V630.8H212.9V630.3H218.8V629.6H224.7V631.0H230.6V630.4H236.5V628.2H242.4V631.4H248.3V629.4H254.2V629.0H260.1V631.7H266.0V626.8H271.9V629.0H277.8V627.0H283.7V627.5H289.6V628.8H295.5V626.1H301.4V625.7H307.4V626.9H313.3V629.7H319.2V629.3H325.1V628.7H331.0V619.9H336.9V623.5H342.8V619.8H348.7V627.1H354.6V606.7H360.5V616.4H366.4V613.6H372.3V601.8H378.2V601.9H384.1V598.5H390.0V606.1H395.9V604.5H401.8V575.1H407.7V582.3H413.6V569.9H419.5V598.6H425.4V575.2H431.3V575.1H437.2V592.6H443.1V585.5H449.0V582.4H455.0V590.5H460.9V592.2H466.8V606.5H472.7V606.6H478.6V611.6H484.5V613.0H490.4V612.0H496.3V617.7H502.2V620.1H508.1V616.5H514.0V620.2H519.9V620.4H525.8V619.8H531.7V623.4H537.6V629.1H543.5V626.7H549.4V631.1H555.3V629.6H561.2V630.6H567.1V626.4H573.0V628.7H578.9V629.0H584.8V628.0H590.7V629.3H596.6V629.9H602.6V629.8H608.5V630.0H614.4V631.5H620.3V630.5H626.2V631.6H632.1V631.2H638.0V631.7H643.9V630.9H649.8V630.8H655.7V631.6H661.6V631.5H667.5V632.1" stroke="#d53e4f"/><path d="M83.0,632.3H88.9V632.2H94.8V632.3H100.7V632.1H106.6V632.3H112.5V632.1H118.4V631.9H124.3V632.3H130.2V632.1H136.1V632.1H142.0V632.2H147.9V632.3H153.8V631.6H159.8V632.3H165.7V631.8H171.6V631.0H177.5V632.1H183.4V631.7H189.3V631.5H195.2V631.8H201.1V631.1H207.0V632.0H212.9V631.4H218.8V630.3H224.7V630.8H230.6V631.1H236.5V629.8H242.4V629.8H248.3V630.3H254.2V628.4H260.1V631.8H266.0V629.5H271.9V629.4H277.8V629.8H283.7V630.6H289.6V627.3H295.5V626.7H301.4V626.0H307.4V628.0H313.3V627.9H319.2V621.9H325.1V626.1H331.0V623.4H336.9V621.6H342.8V621.5H348.7V620.3H354.6V620.9H360.5V609.2H366.4V605.9H372.3V606.3H378.2V602.9H384.1V605.8H390.0V597.9H395.9V593.6H401.8V600.7H407.7V599.9H413.6V588.9H419.5V595.6H425.4V574.1H431.3V594.2H437.2V608.4H443.1V586.2H449.0V590.5H455.0V584.0H460.9V606.5H466.8V606.2H472.7V620.9H478.6V625.1H484.5V602.6H490.4V612.5H496.3V619.6H502.2V619.2H508.1V623.4H514.0V620.0H519.9V622.4H525.8V621.9H531.7V619.3H537.6V624.9H543.5V623.8H549.4V623.1H555.3V628.4H561.2V628.5H567.1V625.1H573.0V625.3H578.9V627.3H584.8V627.9H590.7V628.1H596.6V630.4H602.6V630.3H608.5V629.3H614.4V632.0H620.3V631.1H626.2V631.1H632.1V630.5H638.0V631.6H643.9V631.4H649.8V632.0H655.7V630.5H661.6V631.3H667.5V631.7" stroke="#d53e4f"/><path d="M83.0,632.3H88.9V632.3H94.8V632.2H100.7V632.3H106.6V632.2H112.5V632.1H118.4V632.2H124.3V632.2H130.2V632.1H136.1V632.1H142.0V632.3H147.9V631.8H153.8V631.7H159.8V632.2H165.7V631.3H171.6V631.6H177.5V631.4H183.4V630.9H189.3V632.2H195.2V631.2H201.1V631.7H207.0V630.7H212.9V631.4H218.8V630.8H224.7V630.9H230.6V631.8H236.5V630.2H242.4V630.6H248.3V630.7H254.2V629.6H260.1V631.2H266.0V631.4H271.9V630.1H277.8V629.9H283.7V628.1H289.6V628.1H295.5V627.9H301.4V629.6H307.4V629.5H313.3V628.2H319.2V626.4H325.1V626.6H331.0V624.2H336.9V622.7H342.8V620.6H348.7V619.9H354.6V627.3H360.5V614.7H366.4V610.3H372.3V616.1H378.2V608.6H384.1V616.6H390.0V601.7H395.9V616.8H401.8V615.2H407.7V616.4H413.6V596.8H419.5V578.8H425.4V583.2H431.3V619.1H437.2V603.6H443.1V592.9H449.0V618.9H455.0V590.7H460.9V595.3H466.8V602.2H472.7V606.1H478.6V605.5H484.5V611.7H490.4V619.8H496.3V613.3H502.2V615.2H508.1V617.8H514.0V617.8H519.9V624.4H525.8V621.6H531.7V623.4H537.6V628.9H543.5V624.7H549.4V627.9H555.3V624.3H561.2V629.2H567.1V625.2H573.0V627.2H578.9V626.8H584.8V627.9H590.7V630.6H596.6V629.6H602.6V629.7H608.5V632.0H614.4V629.7H620.3V630.9H626.2V630.1H632.1V631.1H638.0V631.3H643.9V632.1H649.8V632.1H655.7V631.4H661.6V632.1H667.5V632.0" stroke="#e6f598"/><path d="M83.0,632.3H88.9V632.3H94.8V632.3H100.7V632.2H106.6V632.2H112.5V632.3H118.4V632.4H124.3V632.3H130.2V632.3H136.1V632.2H142.0V632.0H147.9V632.0H153.8V632.3H159.8V632.1H165.7V631.8H171.6V631.8H177.5V632.0H183.4V631.0H189.3V630.9H195.2V631.7H201.1V631.1H207.0V630.8H212.9V631.5H218.8V631.8H224.7V632.1H230.6V629.3H236.5V630.5H242.4V629.8H248.3V631.3H254.2V628.3H260.1V628.3H266.0V631.8H271.9V629.9H277.8V629.4H283.7V627.3H289.6V629.3H295.5V629.4H301.4V629.1H307.4V628.4H313.3V626.0H319.2V625.1H325.1V628.1H331.0V625.1H336.9V628.3H342.8V615.3H348.7V625.3H354.6V615.2H360.5V617.5H366.4V614.1H372.3V608.4H378.2V606.3H384.1V619.1H390.0V601.3H395.9V584.3H401.8V576.3H407.7V601.4H413.6V588.8H419.5V611.0H425.4V593.4H431.3V594.4H437.2V599.4H443.1V598.8H449.0V588.3H455.0V596.3H460.9V616.2H466.8V609.2H472.7V613.3H478.6V613.8H484.5V602.3H490.4V609.2H496.3V616.2H502.2V623.2H508.1V629.6H514.0V619.2H519.9V625.0H525.8V622.3H531.7V622.8H537.6V621.2H543.5V629.1H549.4V626.1H555.3V628.8H561.2V625.2H567.1V626.9H573.0V625.8H578.9V629.2H584.8V631.8H590.7V629.8H596.6V631.7H602.6V630.3H608.5V630.8H614.4V631.9H620.3V630.6H626.2V631.0H632.1V631.2H638.0V631.6H643.9V631.0H649.8V631.8H655.7V631.4H661.6V632.2H667.5V632.0" stroke="#f46d43"/><path d="M83.0,632.4H88.9V632.3H94.8V632.4H100.7V632.2H106.6V632.2H112.5V632.2H118.4V632.2H124.3V632.2H130.2V632.4H136.1V632.0H142.0V632.1H147.9V631.9H153.8V631.9H159.8V632.0H165.7V631.6H171.6V631.7H177.5V632.3H183.4V631.9H189.3V631.4H195.2V631.9H201.1V631.5H207.0V631.8H212.9V630.3H218.8V631.1H224.7V631.9H230.6V629.7H236.5V629.2H242.4V630.5H248.3V629.6H254.2V628.1H260.1V631.3H266.0V630.7H271.9V630.4H277.8V628.9H283.7V629.0H289.6V628.0H295.5V627.7H301.4V629.2H307.4V626.8H313.3V629.2H319.2V627.7H325.1V629.6H331.0V625.9H336.9V625.1H342.8V627.2H348.7V618.9H354.6V616.7H360.5V616.8H366.4V608.9H372.3V620.9H378.2V616.3H384.1V615.1H390.0V587.0H395.9V593.0H401.8V613.3H407.7V588.8H413.6V596.2H419.5V586.7H425.4V612.3H431.3V598.3H437.2V578.8H443.1V588.3H449.0V604.8H455.0V596.9H460.9V604.1H466.8V614.7H472.7V619.9H478.6V602.1H484.5V611.4H490.4V618.9H496.3V621.4H502.2V618.2H508.1V615.6H514.0V620.4H519.9V623.9H525.8V623.0H531.7V625.3H537.6V621.8H543.5V624.6H549.4V628.2H555.3V629.2H561.2V627.9H567.1V629.1H573.0V626.7H578.9V630.1H584.8V631.4H590.7V630.5H596.6V629.5H602.6V630.9H608.5V630.4H614.4V631.0H620.3V629.4H626.2V631.2H632.1V631.3H638.0V632.2H643.9V631.4H649.8V631.8H655.7V631.4H661.6V631.9H667.5V632.2" stroke="#9e0142"/><path d="M83.0,632.3H88.9V632.2H94.8V632.4H100.7V632.2H106.6V632.2H112.5V632.2H118.4V632.2H124.3V632.4H130.2V631.9H136.1V632.3H142.0V632.2H147.9V631.9H153.8V632.1H159.8V632.3H165.7V632.0H171.6V631.4H177.5V631.9H183.4V631.4H189.3V632.2H195.2V631.3H201.1V632.1H207.0V632.2H212.9V632.0H218.8V629.7H224.7V630.3H230.6V630.6H236.5V630.5H242.4V630.5H248.3V631.0H254.2V629.0H260.1V628.3H266.0V629.9H271.9V629.2H277.8V629.2H283.7V628.3H289.6V629.0H295.5V627.6H301.4V627.4H307.4V628.2H313.3V629.4H319.2V626.1H325.1V628.1H331.0V621.9H336.9V624.3H342.8V623.9H348.7V612.3H354.6V616.6H360.5V605.8H366.4V613.3H372.3V601.4H378.2V610.0H384.1V618.7H390.0V600.0H395.9V608.8H401.8V613.6H407.7V612.8H413.6V594.1H419.5V588.1H425.4V600.8H431.3V618.7H437.2V601.4H443.1V594.0H449.0V598.6H455.0V613.5H460.9V616.2H466.8V626.1H472.7V610.4H478.6V618.4H484.5V610.1H490.4V624.5H496.3V621.2H502.2V619.0H508.1V626.4H514.0V627.1H519.9V624.8H525.8V626.6H531.7V627.6H537.6V628.3H543.5V626.7H549.4V627.7H555.3V629.6H561.2V629.2H567.1V628.6H573.0V628.0H578.9V627.1H584.8V629.7H590.7V630.3H596.6V630.9H602.6V631.4H608.5V630.6H614.4V631.3H620.3V630.6H626.2V630.8H632.1V630.6H638.0V631.6H643.9V631.4H649.8V631.3H655.7V631.8H661.6V631.9H667.5V632.3" stroke="#ffffbf"/><path d="M83.0,632.3H88.9V632.4H94.8V632.3H100.7V632.2H106.6V632.4H112.5V632.1H118.4V632.2H124.3V632.2H130.2V632.1H136.1V632.0H142.0V631.8H147.9V632.0H153.8V632.3H159.8V631.7H165.7V631.6H171.6V632.3H177.5V631.9H183.4V631.1H189.3V631.9H195.2V631.8H201.1V630.9H207.0V631.8H212.9V631.4H218.8V631.3H224.7V631.2H230.6V629.6H236.5V630.5H242.4V629.1H248.3V629.9H254.2V629.6H260.1V630.1H266.0V629.2H271.9V630.0H277.8V627.4H283.7V630.0H289.6V626.7H295.5V630.0H301.4V626.1H307.4V625.8H313.3V628.0H319.2V627.1H325.1V627.1H331.0V622.5H336.9V623.1H342.8V619.3H348.7V620.2H354.6V620.1H360.5V606.5H366.4V613.6H372.3V615.8H378.2V588.3H384.1V594.9H390.0V604.9H395.9V591.4H401.8V599.2H407.7V575.1H413.6V592.9H419.5V600.8H425.4V585.1H431.3V584.3H437.2V601.0H443.1V609.6H449.0V600.8H455.0V607.5H460.9V620.3H466.8V611.8H472.7V607.0H478.6V607.6H484.5V602.5H490.4V613.7H496.3V611.0H502.2V623.9H508.1V624.5H514.0V620.1H519.9V622.6H525.8V623.7H531.7V624.7H537.6V627.2H543.5V626.9H549.4V626.5H555.3V626.6H561.2V627.9H567.1V629.7H573.0V629.4H578.9V629.6H584.8V628.2H590.7V627.9H596.6V630.3H602.6V631.1H608.5V631.2H614.4V630.3H620.3V630.3H626.2V632.1H632.1V630.9H638.0V630.3H643.9V631.1H649.8V631.0H655.7V631.7H661.6V631.9H667.5V631.9" stroke="#f46d43"/></g>
<path d="M83.0,632.2H88.9V632.2H94.8V632.1H100.7V632.1H106.6V632.0H112.5V631.8H118.4V631.3H124.3V631.7H130.2V631.7H136.1V631.2H142.0V631.2H147.9V630.5H153.8V630.5H159.8V630.3H165.7V629.5H171.6V630.7H177.5V630.2H183.4V629.2H189.3V629.4H195.2V628.7H201.1V629.3H207.0V628.8H212.9V627.0H218.8V625.4H224.7V624.2H230.6V623.7H236.5V624.9H242.4V624.3H248.3V622.3H254.2V619.3H260.1V616.2H266.0V613.2H271.9V611.2H277.8V607.0H283.7V601.9H289.6V599.9H295.5V592.7H301.4V587.5H307.4V581.4H313.3V571.2H319.2V566.0H325.1V548.1H331.0V534.8H336.9V518.9H342.8V506.5H348.7V482.2H354.6V451.9H360.5V421.9H366.4V382.2H372.3V575.7H378.2V563.2H384.1V564.2H390.0V567.1H395.9V567.5H401.8V569.0H407.7V580.0H413.6V582.1H419.5V587.0H425.4V588.6H431.3V593.0H437.2V596.6H443.1V598.9H449.0V601.9H455.0V603.6H460.9V607.2H466.8V610.6H472.7V612.5H478.6V612.4H484.5V615.6H490.4V617.1H496.3V619.8H502.2V619.0H508.1V620.3H514.0V621.3H519.9V621.7H525.8V622.5H531.7V623.9H537.6V624.5H543.5V624.9H549.4V625.1H555.3V625.7H561.2V626.8H567.1V627.2H573.0V627.1H578.9V627.3H584.8V628.0H590.7V628.5H596.6V628.5H602.6V629.0H608.5V629.1H614.4V629.2H620.3V629.6H626.2V629.9H632.1V630.0H638.0V630.3H643.9V630.5H649.8V630.6H655.7V630.7H661.6V630.9H667.5V631.0" fill="none" stroke="#000" stroke-width="2.2"/>
<path d="M83.05,374.2 V632.4 H667.5" fill="none" stroke="#939393" stroke-width="1.3"/>
<path d="M83.6,546.43h5.3 M83.6,460.46h5.3 M83.6,374.49h5.3 M195.18,631.9v-5.2 M313.26,631.9v-5.2 M431.34,631.9v-5.2 M549.42,631.9v-5.2 M667.50,631.9v-5.2" stroke="#454545" stroke-width="1" fill="none"/>
<line x1="372.3" y1="632.4" x2="372.3" y2="374.4" stroke="#333" stroke-width="1.3" stroke-dasharray="7.6 2.85 1.8 2.85"/>
<line x1="213.3" y1="578.2" x2="263.4" y2="600.1" stroke="#111" stroke-width="1.5" stroke-dasharray="9.8 4.7" stroke-dashoffset="0"/>
<path d="M271.2,603.5 L258.0,603.7 Q263.4,600.1 262.4,593.7 Z" fill="#111"/>
<rect x="439.60" y="512.28" width="11.55" height="0.32" fill="#b0b0ff" stroke="#9a9ae6" stroke-width="0.5"/><rect x="451.15" y="511.30" width="11.55" height="1.30" fill="#b0b0ff" stroke="#9a9ae6" stroke-width="0.5"/><rect x="462.70" y="508.87" width="11.55" height="3.73" fill="#b0b0ff" stroke="#9a9ae6" stroke-width="0.5"/><rect x="474.25" y="506.12" width="11.55" height="6.48" fill="#b0b0ff" stroke="#9a9ae6" stroke-width="0.5"/><rect x="485.80" y="499.64" width="11.55" height="12.96" fill="#b0b0ff" stroke="#9a9ae6" stroke-width="0.5"/><rect x="497.35" y="476.47" width="11.55" height="36.13" fill="#b0b0ff" stroke="#9a9ae6" stroke-width="0.5"/><rect x="508.90" y="440.24" width="11.55" height="72.36" fill="#b0b0ff" stroke="#9a9ae6" stroke-width="0.5"/><rect x="520.45" y="413.24" width="11.55" height="99.36" fill="#b0b0ff" stroke="#9a9ae6" stroke-width="0.5"/><rect x="532.00" y="391.21" width="11.55" height="121.39" fill="#b0b0ff" stroke="#9a9ae6" stroke-width="0.5"/><rect x="543.55" y="405.68" width="11.55" height="106.92" fill="#b0b0ff" stroke="#9a9ae6" stroke-width="0.5"/><rect x="555.10" y="458.98" width="11.55" height="53.62" fill="#b0b0ff" stroke="#9a9ae6" stroke-width="0.5"/><rect x="566.65" y="489.11" width="11.55" height="23.49" fill="#b0b0ff" stroke="#9a9ae6" stroke-width="0.5"/><rect x="497.35" y="512.06" width="11.55" height="0.54" fill="#f0acb2" stroke="#d89aa0" stroke-width="0.5"/><rect x="497.35" y="512.06" width="11.55" height="0.54" fill="#b07cd2" stroke="#9a6cc0" stroke-width="0.5"/><rect x="508.90" y="511.30" width="11.55" height="1.30" fill="#f0acb2" stroke="#d89aa0" stroke-width="0.5"/><rect x="508.90" y="511.30" width="11.55" height="1.30" fill="#b07cd2" stroke="#9a6cc0" stroke-width="0.5"/><rect x="520.45" y="503.80" width="11.55" height="8.80" fill="#f0acb2" stroke="#d89aa0" stroke-width="0.5"/><rect x="520.45" y="503.80" width="11.55" height="8.80" fill="#b07cd2" stroke="#9a6cc0" stroke-width="0.5"/><rect x="532.00" y="485.11" width="11.55" height="27.49" fill="#f0acb2" stroke="#d89aa0" stroke-width="0.5"/><rect x="532.00" y="485.11" width="11.55" height="27.49" fill="#b07cd2" stroke="#9a6cc0" stroke-width="0.5"/><rect x="543.55" y="453.20" width="11.55" height="59.40" fill="#f0acb2" stroke="#d89aa0" stroke-width="0.5"/><rect x="543.55" y="453.20" width="11.55" height="59.40" fill="#b07cd2" stroke="#9a6cc0" stroke-width="0.5"/><rect x="555.10" y="412.16" width="11.55" height="100.44" fill="#f0acb2" stroke="#d89aa0" stroke-width="0.5"/><rect x="555.10" y="458.98" width="11.55" height="53.62" fill="#b07cd2" stroke="#9a6cc0" stroke-width="0.5"/><rect x="566.65" y="395.96" width="11.55" height="116.64" fill="#f0acb2" stroke="#d89aa0" stroke-width="0.5"/><rect x="566.65" y="489.11" width="11.55" height="23.49" fill="#b07cd2" stroke="#9a6cc0" stroke-width="0.5"/><rect x="578.20" y="408.92" width="11.55" height="103.68" fill="#f0acb2" stroke="#d89aa0" stroke-width="0.5"/><rect x="589.75" y="438.89" width="11.55" height="73.71" fill="#f0acb2" stroke="#d89aa0" stroke-width="0.5"/><rect x="601.30" y="481.60" width="11.55" height="31.00" fill="#f0acb2" stroke="#d89aa0" stroke-width="0.5"/><rect x="612.85" y="502.61" width="11.55" height="9.99" fill="#f0acb2" stroke="#d89aa0" stroke-width="0.5"/><rect x="624.40" y="508.01" width="11.55" height="4.59" fill="#f0acb2" stroke="#d89aa0" stroke-width="0.5"/>
<path d="M430,392 V513 H636.5 V509.5" fill="none" stroke="#888" stroke-width="0.9"/>
<path d="M430.5,458.6h3 M430.5,404.6h3 M485.8,512.5v-3 M543.5,512.5v-3 M601.3,512.5v-3" stroke="#555" stroke-width="0.8"/>
<line x1="513.5" y1="562.4" x2="513.0" y2="529.3" stroke="#1a1af0" stroke-width="1.4" stroke-dasharray="9.4 5.4" stroke-dashoffset="0"/>
<path d="M512.9,521.6 L518.9,532.7 Q513.0,529.3 507.3,532.9 Z" fill="#1a1af0"/>
<line x1="584.2" y1="561.7" x2="583.6" y2="527.3" stroke="#f01a1a" stroke-width="1.4" stroke-dasharray="9.4 5.4" stroke-dashoffset="0"/>
<path d="M583.5,519.4 L589.5,530.7 Q583.6,527.3 577.9,530.9 Z" fill="#f01a1a"/>
<text transform="matrix(1.0626,0,0,1.0293,3.3374,17.9683)" font-family="Liberation Sans" font-size="22" font-weight="bold">(a)</text>
<text transform="matrix(1.0846,0,0,1.0488,2.5154,350.1805)" font-family="Liberation Sans" font-size="22" font-weight="bold">(b)</text>
<text transform="matrix(1.03,0,0,0.9785,64.67,280.6554)" font-family="Liberation Serif" font-size="24">0</text>
<text transform="matrix(1.0218,0,0,0.9785,46.8782,223.4554)" font-family="Liberation Serif" font-size="24">0.1</text>
<text transform="matrix(1.0126,0,0,0.9785,46.8874,166.2554)" font-family="Liberation Serif" font-size="24">0.2</text>
<text transform="matrix(1.0036,0,0,0.9785,46.8964,109.0554)" font-family="Liberation Serif" font-size="24">0.3</text>
<text transform="matrix(0.986,0,0,0.9785,46.914,51.8554)" font-family="Liberation Serif" font-size="24">0.4</text>
<text transform="matrix(0.9647,0,0,0.9841,77.0706,300.3)" font-family="Liberation Serif" font-size="24">1</text>
<text transform="matrix(1.0136,0,0,0.9538,183.1934,300.0615)" font-family="Liberation Serif" font-size="24">20</text>
<text transform="matrix(0.9911,0,0,0.9538,301.7714,300.0615)" font-family="Liberation Serif" font-size="24">40</text>
<text transform="matrix(1.0636,0,0,0.9538,418.7134,300.0615)" font-family="Liberation Serif" font-size="24">60</text>
<text transform="matrix(1.0364,0,0,0.9538,537.1006,300.0615)" font-family="Liberation Serif" font-size="24">80</text>
<text transform="matrix(0.9545,0,0,0.9538,649.9379,300.0615)" font-family="Liberation Serif" font-size="24">100</text>
<text transform="matrix(0,-1.1423,1.003,0,35.9493,213.4567)" font-family="Liberation Serif" font-size="24">Fisher ratios</text>
<text transform="matrix(0.9357,0,0,0.9938,100.1643,85.6516)" font-family="Liberation Serif" font-size="24">2.5</text>
<text transform="matrix(0.9357,0,0,0.9477,100.1643,148.7631)" font-family="Liberation Serif" font-size="24">0.5</text>
<text transform="matrix(1.2281,0,0,1.054,131.1,69.7)" font-family="Liberation Serif" font-size="24" font-style="italic">R</text>
<text transform="matrix(1.0353,0,0,1.0222,154.7294,124.1)" font-family="Liberation Serif" font-size="24">1</text>
<text transform="matrix(0.9294,0,0,0.946,129.9412,174.7)" font-family="Liberation Serif" font-size="24">1</text>
<text transform="matrix(1.0186,0,0,0.9169,197.8721,174.4708)" font-family="Liberation Serif" font-size="24">50</text>
<text transform="matrix(0.9667,0,0,0.9169,268.3667,174.4708)" font-family="Liberation Serif" font-size="24">100</text>
<text transform="matrix(1.3167,0,0,0.9818,298.7833,150.7545)" font-family="Liberation Serif" font-size="24" font-style="italic">t</text>
<text transform="matrix(1.184,0,0,1.0538,286.212,49.1)" font-family="Liberation Serif" font-size="20" font-weight="bold">I</text>
<text transform="matrix(1.14,0,0,1.1389,295.06,49.3597)" font-family="Liberation Serif" font-size="20">(</text>
<text transform="matrix(1.166,0,0,1.0538,303.6,49.1)" font-family="Liberation Serif" font-size="20" font-style="italic">R</text>
<text transform="matrix(1.4,0,0,1.1233,318.6,49.426)" font-family="Liberation Serif" font-size="20">|</text>
<text transform="matrix(1.096,0,0,1.0815,323.604,49.3296)" font-family="Liberation Serif" font-size="20" font-style="italic">C</text>
<text transform="matrix(1.3846,0,0,0.9548,339.0615,40.5)" font-family="Liberation Serif" font-size="14" font-style="italic">t</text>
<text transform="matrix(0.8,0,0,0.8,339.1,54.8)" font-family="Liberation Serif" font-size="14">1</text>
<text transform="matrix(1.14,0,0,1.1549,346.645,49.5803)" font-family="Liberation Serif" font-size="20">)</text>
<text transform="matrix(1.184,0,0,1.0923,289.112,74.7)" font-family="Liberation Serif" font-size="20" font-weight="bold">I</text>
<text transform="matrix(1.14,0,0,1.1389,297.96,74.4597)" font-family="Liberation Serif" font-size="20">(</text>
<text transform="matrix(1.166,0,0,1.0923,306.5,74.7)" font-family="Liberation Serif" font-size="20" font-style="italic">R</text>
<text transform="matrix(1.5,0,0,1.1233,321.35,74.526)" font-family="Liberation Serif" font-size="20">|</text>
<text transform="matrix(1.1333,0,0,1.0923,327,74.7)" font-family="Liberation Serif" font-size="20" font-style="italic">I</text>
<text transform="matrix(1.3846,0,0,0.8774,335.6615,65.6)" font-family="Liberation Serif" font-size="14" font-style="italic">t</text>
<text transform="matrix(0.86,0,0,0.9297,335.625,81)" font-family="Liberation Serif" font-size="14">1</text>
<text transform="matrix(1.14,0,0,1.1549,343.745,74.6803)" font-family="Liberation Serif" font-size="20">)</text>
<text transform="matrix(1.07,0,0,0.9785,64.23,638.7554)" font-family="Liberation Serif" font-size="24">0</text>
<text transform="matrix(0.9889,0,0,0.9785,29.5222,552.7554)" font-family="Liberation Serif" font-size="24">1000</text>
<text transform="matrix(0.9674,0,0,0.9785,30.5326,466.8554)" font-family="Liberation Serif" font-size="24">2000</text>
<text transform="matrix(0.9727,0,0,0.9785,30.2842,380.8554)" font-family="Liberation Serif" font-size="24">3000</text>
<text transform="matrix(0.9647,0,0,0.9841,77.0706,658.1)" font-family="Liberation Serif" font-size="24">1</text>
<text transform="matrix(1.0136,0,0,0.9538,183.2934,657.8615)" font-family="Liberation Serif" font-size="24">20</text>
<text transform="matrix(0.9733,0,0,0.9538,302.0803,657.8615)" font-family="Liberation Serif" font-size="24">40</text>
<text transform="matrix(1.0636,0,0,0.9538,418.8134,657.8615)" font-family="Liberation Serif" font-size="24">60</text>
<text transform="matrix(1.0364,0,0,0.9538,537.2006,657.8615)" font-family="Liberation Serif" font-size="24">80</text>
<text transform="matrix(0.9545,0,0,0.9538,650.0379,657.8615)" font-family="Liberation Serif" font-size="24">100</text>
<text transform="matrix(1.3,0,0,1.2291,331.9,687.4927)" font-family="Liberation Serif" font-size="24" font-style="italic">t</text>
<text transform="matrix(0.992,0,0,1.1814,350.308,687.693)" font-family="Liberation Serif" font-size="24">(</text>
<text transform="matrix(1.1219,0,0,1.108,359.3586,687.7828)" font-family="Liberation Serif" font-size="24">days</text>
<text transform="matrix(0.976,0,0,1.1814,408.268,687.693)" font-family="Liberation Serif" font-size="24">)</text>
<text transform="matrix(0,-1.16,1.1312,0,19.6172,515.65)" font-family="Liberation Serif" font-size="24" font-style="italic">C</text>
<text transform="matrix(0,-1.3176,1.1385,0,22.9154,498.5882)" font-family="Liberation Serif" font-size="17" font-style="italic">t</text>
<text transform="matrix(1.287,0,0,1.0947,124.9348,415)" font-family="Liberation Serif" font-size="22">E</text>
<text transform="matrix(0.6947,0,0,1.3096,142.8842,416.8712)" font-family="Liberation Serif" font-size="22">[</text>
<text transform="matrix(1.344,0,0,1.1655,148.092,415)" font-family="Liberation Serif" font-size="22">Δ</text>
<text transform="matrix(1.0344,0,0,0.9739,167.1242,418.1913)" font-family="Liberation Serif" font-size="16">grow</text>
<text transform="matrix(0.7,0,0,1.3096,203.475,416.7712)" font-family="Liberation Serif" font-size="22">]</text>
<text transform="matrix(1.6381,0,0,1.2,215.1714,417.3)" font-family="Liberation Serif" font-size="22">≈</text>
<text transform="matrix(1.184,0,0,1.0828,239.632,415.1)" font-family="Liberation Serif" font-size="22">12</text>
<text transform="matrix(1.2957,0,0,1.0807,124.3283,449.5)" font-family="Liberation Serif" font-size="22">E</text>
<text transform="matrix(0.7368,0,0,1.3041,142.0105,451.6877)" font-family="Liberation Serif" font-size="22">[</text>
<text transform="matrix(1.36,0,0,1.1241,147.18,449.5)" font-family="Liberation Serif" font-size="22">Δ</text>
<text transform="matrix(1.0376,0,0,1.0065,168.2,452.4484)" font-family="Liberation Serif" font-size="16">wane</text>
<text transform="matrix(0.6,0,0,1.2548,204.05,451.5356)" font-family="Liberation Serif" font-size="22">]</text>
<text transform="matrix(1.6381,0,0,1.25,216.5714,452.4625)" font-family="Liberation Serif" font-size="22">≈</text>
<text transform="matrix(1.0808,0,0,1.0712,241.4894,449.9322)" font-family="Liberation Serif" font-size="22">8.5</text>
<text transform="matrix(1.3297,0,0,1.0533,126.6027,483.5967)" font-family="Liberation Serif" font-size="22" font-style="italic">η</text>
<text transform="matrix(1.561,0,0,1.2,146.239,487)" font-family="Liberation Serif" font-size="22">=</text>
<text transform="matrix(1.073,0,0,1.1322,170.5953,484.5169)" font-family="Liberation Serif" font-size="22">0.75</text>
<text transform="matrix(1.1692,0,0,1.2364,213.3231,483.8818)" font-family="Liberation Serif" font-size="22">,</text>
<text transform="matrix(0.8421,0,0,1.0839,223.5684,483.929)" font-family="Liberation Serif" font-size="22" font-style="italic">b</text>
<text transform="matrix(1.5707,0,0,1.2364,239.3293,486.6636)" font-family="Liberation Serif" font-size="22">=</text>
<text transform="matrix(1.1226,0,0,1.1103,264.0548,484.2)" font-family="Liberation Serif" font-size="22">1</text>
<text transform="matrix(1.3,0,0,1.0222,193.1,581.9)" font-family="Liberation Serif" font-size="24" font-style="italic">I</text>
<text transform="matrix(1.5529,0,0,1.0462,200.7353,585.2385)" font-family="Liberation Serif" font-size="17" font-style="italic">t</text>
<text transform="matrix(1.0902,0,0,0.9898,393.9824,410.1525)" font-family="Liberation Serif" font-size="22">0.2</text>
<text transform="matrix(1.0667,0,0,0.9898,394,464.6525)" font-family="Liberation Serif" font-size="22">0.1</text>
<text transform="matrix(1.0842,0,0,0.9898,411.4868,519.1525)" font-family="Liberation Serif" font-size="22">0</text>
<text transform="matrix(1.0333,0,0,1.0483,479.9083,538.6379)" font-family="Liberation Serif" font-size="22">5</text>
<text transform="matrix(1.1117,0,0,1.0305,531.0766,538.6424)" font-family="Liberation Serif" font-size="22">10</text>
<text transform="matrix(1.0545,0,0,1.0305,589.5909,538.6424)" font-family="Liberation Serif" font-size="22">15</text>
<text transform="matrix(1.392,0,0,1.131,493.256,574)" font-family="Liberation Serif" font-size="22">Δ</text>
<text transform="matrix(1.0376,0,0,0.9806,514.3,577.2548)" font-family="Liberation Serif" font-size="16">wane</text>
<text transform="matrix(1.1077,0,0,1.2545,550.4692,574.7227)" font-family="Liberation Serif" font-size="22">,</text>
<text transform="matrix(1.328,0,0,1.1793,565.204,574.3)" font-family="Liberation Serif" font-size="22">Δ</text>
<text transform="matrix(1.0312,0,0,0.9478,584.1266,577.1826)" font-family="Liberation Serif" font-size="16">grow</text>
</svg></body></html>
